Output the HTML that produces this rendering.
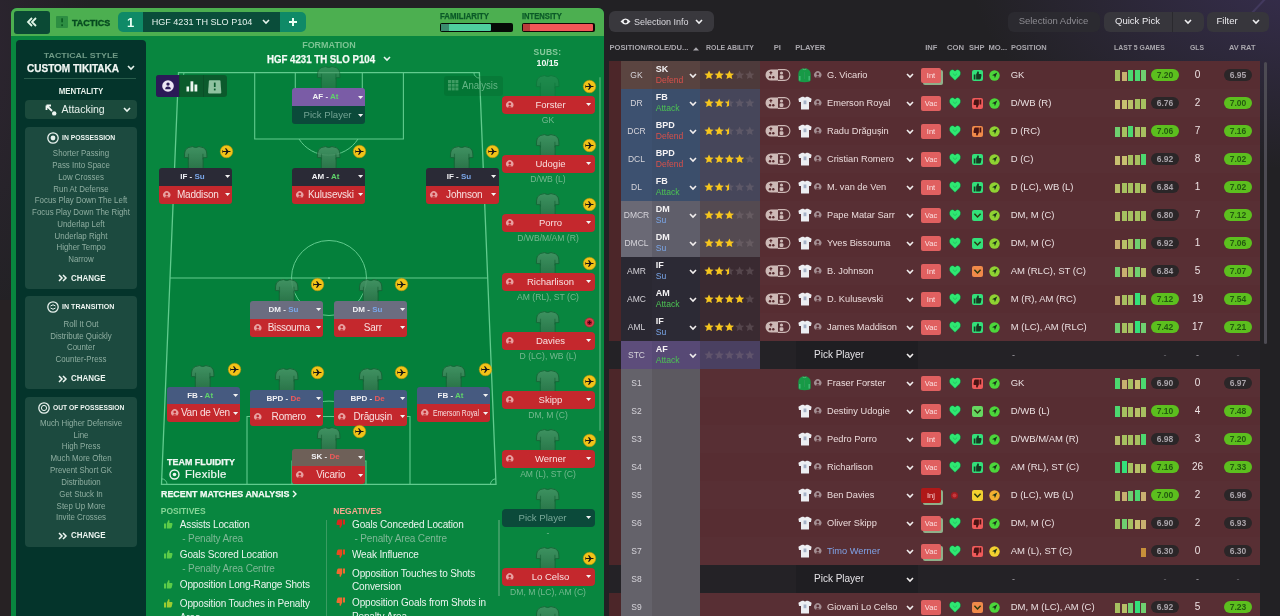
<!DOCTYPE html><html><head><meta charset="utf-8"><title>Tactics</title><style>
*{margin:0;padding:0;box-sizing:border-box}
html,body{width:1280px;height:616px;overflow:hidden}
body{position:relative;background:#222124;font-family:"Liberation Sans", Arial, sans-serif;color:#fff}
.abs{position:absolute}
.t{position:absolute;white-space:nowrap;line-height:1}
svg{position:absolute;overflow:visible}
</style></head><body>
<div class="abs" style="left:0px;top:0px;width:1280px;height:616px;background:radial-gradient(ellipse 330px 200px at 1300px -30px, rgba(85,65,140,0.42), rgba(85,65,140,0) 100%);"></div>
<svg style="left:0;top:0" width="1280" height="616"><line x1="1236" y1="30" x2="1266" y2="-2" stroke="rgba(150,130,220,0.16)" stroke-width="2"/></svg>
<div class="abs" style="left:0px;top:0px;width:1280px;height:616px;background:radial-gradient(ellipse 120px 300px at -30px 40px, rgba(80,50,90,0.25), rgba(80,50,90,0) 100%);"></div>
<div class="abs" style="left:0px;top:300px;width:12px;height:316px;background:#272224;"></div>
<div class="abs" style="left:11px;top:8px;width:593px;height:620px;background:#08863f;border-radius:6px 6px 0 0;"></div>
<div class="abs" style="left:11px;top:8px;width:593px;height:28px;background:#4caf50;border-radius:6px 6px 0 0;"></div>
<div class="abs" style="left:14px;top:11px;width:36px;height:23px;background:#0b4a35;border-radius:3px;"></div>
<svg style="left:26px;top:17px" width="12" height="10" viewBox="0 0 12 10"><path d="M6 1 L2 5 L6 9 M10 1 L6 5 L10 9" stroke="#dff5e6" stroke-width="1.8" fill="none"/></svg>
<div class="abs" style="left:56.3px;top:15.7px;width:12px;height:12.3px;background:#2d8e42;border-radius:1px;"></div>
<svg style="left:56px;top:16px" width="12" height="12" viewBox="0 0 12 12"><rect x="5.3" y="2.3" width="1.6" height="4" fill="#0b5a22"/><rect x="5.3" y="8.3" width="1.6" height="1.8" fill="#0b5a22"/></svg>
<div class="t" style="left:72.4px;top:19.0px;font-size:8.6px;color:#064a20;font-weight:700;-webkit-text-stroke:0.35px #064a20;transform:scaleX(1.041);transform-origin:left;">TACTICS</div>
<div class="abs" style="left:118px;top:12px;width:188px;height:20px;background:#0f8a67;border-radius:5px;"></div>
<div class="abs" style="left:143px;top:12px;width:137px;height:20px;background:#0a4d3a;"></div>
<div class="t" style="left:-19.5px;width:300px;text-align:center;top:15.6px;font-size:13px;color:#e8fff4;font-weight:700;">1</div>
<div class="t" style="left:51.7px;width:300px;text-align:center;top:17.5px;font-size:9.1px;color:#e6f3ee;transform:scaleX(0.998);transform-origin:center;">HGF 4231 TH SLO P104</div>
<svg style="left:262px;top:19px" width="8" height="6" viewBox="0 0 8 6"><path d="M1 1 L4 4 L7 1" stroke="#e8f4ee" stroke-width="1.6" fill="none"/></svg>
<svg style="left:288px;top:17px" width="10" height="10" viewBox="0 0 10 10"><path d="M5 1 V9 M1 5 H9" stroke="#eafff3" stroke-width="2" fill="none"/></svg>
<div class="t" style="left:440.0px;top:12.0px;font-size:8.5px;color:#0b5a28;font-weight:700;-webkit-text-stroke:0.25px #0b5a28;transform:scaleX(0.920);transform-origin:left;">FAMILIARITY</div>
<div class="abs" style="left:440px;top:23px;width:73px;height:9px;background:#050a06;border-radius:2px;"></div>
<div class="abs" style="left:441px;top:24px;width:50px;height:7px;background:#4fcf9e;border-radius:1px;"></div>
<div class="abs" style="left:441px;top:24px;width:8px;height:7px;background:#3a8c6e;"></div>
<div class="t" style="left:521.7px;top:12.0px;font-size:8.5px;color:#0b5a28;font-weight:700;-webkit-text-stroke:0.25px #0b5a28;transform:scaleX(0.897);transform-origin:left;">INTENSITY</div>
<div class="abs" style="left:521.5px;top:23px;width:73px;height:9px;background:#140606;border-radius:2px;"></div>
<div class="abs" style="left:522.5px;top:24px;width:70px;height:7px;background:#f25757;border-radius:1px;"></div>
<div class="abs" style="left:522.5px;top:24px;width:7px;height:7px;background:#b93b3b;"></div>
<div class="abs" style="left:16px;top:40px;width:130px;height:580px;background:#04342b;border-radius:4px 4px 0 0;"></div>
<div class="t" style="left:-69.0px;width:300px;text-align:center;top:52.1px;font-size:8px;color:#6f9a86;font-weight:700;transform:scaleX(1.107);transform-origin:center;">TACTICAL STYLE</div>
<div class="t" style="left:-76.7px;width:300px;text-align:center;top:62.8px;font-size:10.6px;color:#f2f7f4;font-weight:700;-webkit-text-stroke:0.25px #f2f7f4;transform:scaleX(0.946);transform-origin:center;">CUSTOM TIKITAKA</div>
<svg style="left:127px;top:65px" width="8" height="6" viewBox="0 0 8 6"><path d="M1 1 L4 4 L7 1" stroke="#e8f4ee" stroke-width="1.6" fill="none"/></svg>
<div class="abs" style="left:24px;top:78px;width:112px;height:1px;background:#285c4b;"></div>
<div class="t" style="left:-69.5px;width:300px;text-align:center;top:87.5px;font-size:8.2px;color:#e6f0ea;font-weight:700;transform:scaleX(0.965);transform-origin:center;">MENTALITY</div>
<div class="abs" style="left:25px;top:100px;width:112px;height:19px;background:#1b4a3c;border-radius:4px;"></div>
<svg style="left:45px;top:104px" width="12" height="12" viewBox="0 0 12 12"><path d="M1.5 1.5 L7 7 M1.5 1.5 H6 M1.5 1.5 V6" stroke="#f0f6f2" stroke-width="1.8" fill="none"/><circle cx="9.2" cy="9.4" r="2.2" fill="#f0f6f2"/></svg>
<div class="t" style="left:61.5px;top:103.9px;font-size:10.5px;color:#e8f1ec;">Attacking</div>
<svg style="left:123px;top:107px" width="8" height="6" viewBox="0 0 8 6"><path d="M1 1 L4 4 L7 1" stroke="#e8f4ee" stroke-width="1.6" fill="none"/></svg>
<div class="abs" style="left:25px;top:127px;width:112px;height:162px;background:#1c4a3f;border-radius:4px;"></div>
<svg style="left:46.7px;top:131.5px" width="12" height="12" viewBox="0 0 12 12"><circle cx="6" cy="6" r="5.2" stroke="#e8f2ee" stroke-width="1.3" fill="none"/><circle cx="6" cy="6" r="2.4" fill="#e8f2ee"/></svg>
<div class="t" style="left:61.9px;top:133.8px;font-size:7.5px;color:#eef5f1;font-weight:700;transform:scaleX(0.906);transform-origin:left;">IN POSSESSION</div>
<div class="t" style="left:-69.0px;width:300px;text-align:center;top:149.4px;font-size:8.6px;color:#8faea1;transform:scaleX(0.92);">Shorter Passing</div>
<div class="t" style="left:-69.0px;width:300px;text-align:center;top:161.1px;font-size:8.6px;color:#8faea1;transform:scaleX(0.92);">Pass Into Space</div>
<div class="t" style="left:-69.0px;width:300px;text-align:center;top:172.9px;font-size:8.6px;color:#8faea1;transform:scaleX(0.92);">Low Crosses</div>
<div class="t" style="left:-69.0px;width:300px;text-align:center;top:184.6px;font-size:8.6px;color:#8faea1;transform:scaleX(0.92);">Run At Defense</div>
<div class="t" style="left:-69.0px;width:300px;text-align:center;top:196.4px;font-size:8.6px;color:#8faea1;transform:scaleX(0.92);">Focus Play Down The Left</div>
<div class="t" style="left:-69.0px;width:300px;text-align:center;top:208.1px;font-size:8.6px;color:#8faea1;transform:scaleX(0.92);">Focus Play Down The Right</div>
<div class="t" style="left:-69.0px;width:300px;text-align:center;top:219.9px;font-size:8.6px;color:#8faea1;transform:scaleX(0.92);">Underlap Left</div>
<div class="t" style="left:-69.0px;width:300px;text-align:center;top:231.6px;font-size:8.6px;color:#8faea1;transform:scaleX(0.92);">Underlap Right</div>
<div class="t" style="left:-69.0px;width:300px;text-align:center;top:243.4px;font-size:8.6px;color:#8faea1;transform:scaleX(0.92);">Higher Tempo</div>
<div class="t" style="left:-69.0px;width:300px;text-align:center;top:255.1px;font-size:8.6px;color:#8faea1;transform:scaleX(0.92);">Narrow</div>
<svg style="left:58px;top:274.3px" width="9" height="8" viewBox="0 0 9 8"><path d="M1 1 L4 4 L1 7 M5 1 L8 4 L5 7" stroke="#eef6f2" stroke-width="1.5" fill="none"/></svg>
<div class="t" style="left:71.0px;top:273.9px;font-size:9px;color:#eef6f2;font-weight:700;transform:scaleX(0.886);transform-origin:left;">CHANGE</div>
<div class="abs" style="left:25px;top:296px;width:112px;height:93px;background:#1c4a3f;border-radius:4px;"></div>
<svg style="left:47.25px;top:300.5px" width="12" height="12" viewBox="0 0 12 12"><circle cx="6" cy="6" r="5.2" stroke="#e8f2ee" stroke-width="1.3" fill="none"/><path d="M3.5 5 Q6 2.5 8.5 5 M3.5 7 Q6 9.5 8.5 7" stroke="#e8f2ee" stroke-width="1" fill="none"/></svg>
<div class="t" style="left:62.0px;top:302.8px;font-size:7.5px;color:#eef5f1;font-weight:700;transform:scaleX(0.945);transform-origin:left;">IN TRANSITION</div>
<div class="t" style="left:-69.0px;width:300px;text-align:center;top:319.8px;font-size:8.6px;color:#8faea1;transform:scaleX(0.92);">Roll It Out</div>
<div class="t" style="left:-69.0px;width:300px;text-align:center;top:331.5px;font-size:8.6px;color:#8faea1;transform:scaleX(0.92);">Distribute Quickly</div>
<div class="t" style="left:-69.0px;width:300px;text-align:center;top:343.2px;font-size:8.6px;color:#8faea1;transform:scaleX(0.92);">Counter</div>
<div class="t" style="left:-69.0px;width:300px;text-align:center;top:354.9px;font-size:8.6px;color:#8faea1;transform:scaleX(0.92);">Counter-Press</div>
<svg style="left:58px;top:374.7px" width="9" height="8" viewBox="0 0 9 8"><path d="M1 1 L4 4 L1 7 M5 1 L8 4 L5 7" stroke="#eef6f2" stroke-width="1.5" fill="none"/></svg>
<div class="t" style="left:71.0px;top:374.3px;font-size:9px;color:#eef6f2;font-weight:700;transform:scaleX(0.886);transform-origin:left;">CHANGE</div>
<div class="abs" style="left:25px;top:397px;width:112px;height:150px;background:#1c4a3f;border-radius:4px;"></div>
<svg style="left:37.5px;top:401.5px" width="12" height="12" viewBox="0 0 12 12"><circle cx="6" cy="6" r="5.2" stroke="#e8f2ee" stroke-width="1.3" fill="none"/><circle cx="6" cy="6" r="2.6" stroke="#e8f2ee" stroke-width="1" fill="none"/></svg>
<div class="t" style="left:53.3px;top:403.8px;font-size:7.5px;color:#eef5f1;font-weight:700;transform:scaleX(0.896);transform-origin:left;">OUT OF POSSESSION</div>
<div class="t" style="left:-69.0px;width:300px;text-align:center;top:418.8px;font-size:8.6px;color:#8faea1;transform:scaleX(0.92);">Much Higher Defensive</div>
<div class="t" style="left:-69.0px;width:300px;text-align:center;top:430.6px;font-size:8.6px;color:#8faea1;transform:scaleX(0.92);">Line</div>
<div class="t" style="left:-69.0px;width:300px;text-align:center;top:442.4px;font-size:8.6px;color:#8faea1;transform:scaleX(0.92);">High Press</div>
<div class="t" style="left:-69.0px;width:300px;text-align:center;top:454.3px;font-size:8.6px;color:#8faea1;transform:scaleX(0.92);">Much More Often</div>
<div class="t" style="left:-69.0px;width:300px;text-align:center;top:466.1px;font-size:8.6px;color:#8faea1;transform:scaleX(0.92);">Prevent Short GK</div>
<div class="t" style="left:-69.0px;width:300px;text-align:center;top:477.9px;font-size:8.6px;color:#8faea1;transform:scaleX(0.92);">Distribution</div>
<div class="t" style="left:-69.0px;width:300px;text-align:center;top:489.8px;font-size:8.6px;color:#8faea1;transform:scaleX(0.92);">Get Stuck In</div>
<div class="t" style="left:-69.0px;width:300px;text-align:center;top:501.6px;font-size:8.6px;color:#8faea1;transform:scaleX(0.92);">Step Up More</div>
<div class="t" style="left:-69.0px;width:300px;text-align:center;top:513.4px;font-size:8.6px;color:#8faea1;transform:scaleX(0.92);">Invite Crosses</div>
<svg style="left:58px;top:531.7px" width="9" height="8" viewBox="0 0 9 8"><path d="M1 1 L4 4 L1 7 M5 1 L8 4 L5 7" stroke="#eef6f2" stroke-width="1.5" fill="none"/></svg>
<div class="t" style="left:71.0px;top:531.3px;font-size:9px;color:#eef6f2;font-weight:700;transform:scaleX(0.886);transform-origin:left;">CHANGE</div>
<div class="t" style="left:178.6px;width:300px;text-align:center;top:40.8px;font-size:8.6px;color:#7cc493;font-weight:700;transform:scaleX(1.044);transform-origin:center;">FORMATION</div>
<div class="t" style="left:171.2px;width:300px;text-align:center;top:53.9px;font-size:10.5px;color:#f4fbf6;font-weight:700;-webkit-text-stroke:0.25px #f4fbf6;transform:scaleX(0.922);transform-origin:center;">HGF 4231 TH SLO P104</div>
<svg style="left:383px;top:56px" width="8" height="6" viewBox="0 0 8 6"><path d="M1 1 L4 4 L7 1" stroke="#e8f4ee" stroke-width="1.6" fill="none"/></svg>
<svg style="left:0;top:0" width="610" height="616" viewBox="0 0 610 616"><polygon points="178.5,72.6 479.4,72.6 496.0,484.3 161.5,484.3" fill="#04803b" stroke="#62cb8e" stroke-width="1.3"/><line x1="170.0" y1="278" x2="487.7" y2="278" stroke="#62cb8e" stroke-width="1.2"/><circle cx="329" cy="278" r="37.5" stroke="#62cb8e" stroke-width="1" fill="none"/><circle cx="329" cy="278" r="1" fill="#62cb8e"/><path d="M254.7 72.6 V139 H403.4 V72.6" stroke="#62cb8e" stroke-width="1.1" fill="none"/><path d="M295.3 72.6 V98 H362.3 V72.6" stroke="#62cb8e" stroke-width="1.1" fill="none"/><path d="M299 139 A35 35 0 0 0 358 139" stroke="#62cb8e" stroke-width="1" fill="none"/><path d="M247 484.3 V416.5 H410 V484.3" stroke="#62cb8e" stroke-width="1.1" fill="none"/><path d="M292 484.3 V461 H366 V484.3" stroke="#62cb8e" stroke-width="1.1" fill="none"/><path d="M300 416.5 A35 35 0 0 1 358 416.5" stroke="#62cb8e" stroke-width="1" fill="none"/><path d="M178.5 78.1 A5.5 5.5 0 0 0 184.0 72.6" stroke="#62cb8e" stroke-width="1" fill="none"/><path d="M473.9 72.6 A5.5 5.5 0 0 0 479.4 78.1" stroke="#62cb8e" stroke-width="1" fill="none"/><path d="M161.5 478.8 A5.5 5.5 0 0 1 167.0 484.3" stroke="#62cb8e" stroke-width="1" fill="none"/><path d="M490.5 484.3 A5.5 5.5 0 0 1 496.0 478.8" stroke="#62cb8e" stroke-width="1" fill="none"/></svg>
<div class="abs" style="left:156px;top:75px;width:71px;height:22px;background:#0b5a2c;border-radius:3px;"></div>
<div class="abs" style="left:156px;top:75px;width:23px;height:22px;background:#2b1a57;border-radius:3px 0 0 3px;"></div>
<div class="abs" style="left:179px;top:75px;width:1px;height:22px;background:#0a4f27;"></div>
<div class="abs" style="left:203px;top:75px;width:1px;height:22px;background:#0a4f27;"></div>
<svg style="left:161.5px;top:80px" width="12" height="12" viewBox="0 0 12 12"><circle cx="6" cy="6" r="5.8" fill="#ece6f4"/><circle cx="6" cy="4.1" r="1.7" fill="#2b1a57"/><path d="M3.2 9.2 Q3.2 6.4 6 6.4 Q8.8 6.4 8.8 9.2 Z" fill="#2b1a57"/></svg>
<svg style="left:185.5px;top:80.5px" width="12" height="11" viewBox="0 0 12 11"><rect x="0.5" y="5.5" width="2.6" height="5" fill="#eef7f1"/><rect x="4.5" y="0.3" width="2.8" height="10.2" fill="#eef7f1"/><rect x="8.5" y="3.5" width="2.8" height="7" fill="#eef7f1"/></svg>
<svg style="left:208.3px;top:79.5px" width="13.4" height="13.6" viewBox="0 0 13.4 13.6"><path d="M1.6 0.2 H11.8 Q12.4 0.2 12.5 0.9 L13.3 12.4 Q13.3 13.4 12.3 13.4 H1.1 Q0.1 13.4 0.1 12.4 L0.9 0.9 Q1 0.2 1.6 0.2 Z" fill="#8fc2a0"/><rect x="5.9" y="2.6" width="1.7" height="4.4" fill="#0b5a2c"/><rect x="5.9" y="8.6" width="1.7" height="1.8" fill="#0b5a2c"/></svg>
<div class="abs" style="left:444px;top:76px;width:59px;height:20px;background:rgba(0,40,10,0.12);border-radius:3px;"></div>
<svg style="left:448px;top:80px" width="11" height="11" viewBox="0 0 11 11"><rect x="0.0" y="0.0" width="3" height="3" fill="#3f9c63"/><rect x="0.0" y="3.7" width="3" height="3" fill="#3f9c63"/><rect x="0.0" y="7.4" width="3" height="3" fill="#3f9c63"/><rect x="3.7" y="0.0" width="3" height="3" fill="#3f9c63"/><rect x="3.7" y="3.7" width="3" height="3" fill="#3f9c63"/><rect x="3.7" y="7.4" width="3" height="3" fill="#3f9c63"/><rect x="7.4" y="0.0" width="3" height="3" fill="#3f9c63"/><rect x="7.4" y="3.7" width="3" height="3" fill="#3f9c63"/><rect x="7.4" y="7.4" width="3" height="3" fill="#3f9c63"/></svg>
<div class="t" style="left:462.0px;top:81.1px;font-size:10px;color:#64b585;transform:scaleX(0.961);transform-origin:left;">Analysis</div>
<svg style="left:316.8px;top:66.4px" width="23.4" height="25" viewBox="0 0 24 26" preserveAspectRatio="none"><defs><linearGradient id="sg1" x1="0" y1="0" x2="0" y2="1"><stop offset="0" stop-color="#4b9569"/><stop offset="1" stop-color="#2f7049"/></linearGradient></defs><g opacity="0.6"><path d="M8.6 0.6 Q12 2.6 15.4 0.6 Q20.5 1 22.6 4.2 Q23.6 6.5 23.6 12 L19.6 12.2 L19.6 26 L4.4 26 L4.4 12.2 L0.4 12 Q0.4 6.5 1.4 4.2 Q3.5 1 8.6 0.6 Z" fill="url(#sg1)" stroke="#1a6036" stroke-width="1"/><path d="M4.6 8 V14 M19.4 8 V14" stroke="#1a5a34" stroke-width="1.2" opacity="0.6"/></g></svg>
<div class="abs" style="left:292px;top:88.4px;width:73px;height:17.5px;background:#7a5ca6;border-radius:3px 3px 0 0;"></div>
<div class="t" style="left:292px;width:67px;text-align:center;top:93.3px;font-size:8px;font-weight:700;color:#f1f1f4">AF - <span style="color:#5fd36a">At</span></div>
<svg style="left:357.9px;top:95.8px" width="5.2" height="3.4" viewBox="0 0 6 4"><path d="M0 0 H6 L3 3.6 Z" fill="#f3f3f3"/></svg>
<div class="abs" style="left:292px;top:105.9px;width:73px;height:18px;background:#0b4a3a;border-radius:0 0 3px 3px;"></div>
<div class="t" style="left:177.5px;width:300px;text-align:center;top:110.2px;font-size:9.6px;color:#72a393;">Pick Player</div>
<svg style="left:357.9px;top:113.5px" width="5.2" height="3.4" viewBox="0 0 6 4"><path d="M0 0 H6 L3 3.6 Z" fill="#f3f3f3"/></svg>
<svg style="left:183.8px;top:146.0px" width="23.4" height="25" viewBox="0 0 24 26" preserveAspectRatio="none"><defs><linearGradient id="sg2" x1="0" y1="0" x2="0" y2="1"><stop offset="0" stop-color="#4b9569"/><stop offset="1" stop-color="#2f7049"/></linearGradient></defs><g opacity="0.85"><path d="M8.6 0.6 Q12 2.6 15.4 0.6 Q20.5 1 22.6 4.2 Q23.6 6.5 23.6 12 L19.6 12.2 L19.6 26 L4.4 26 L4.4 12.2 L0.4 12 Q0.4 6.5 1.4 4.2 Q3.5 1 8.6 0.6 Z" fill="url(#sg2)" stroke="#1a6036" stroke-width="1"/><path d="M4.6 8 V14 M19.4 8 V14" stroke="#1a5a34" stroke-width="1.2" opacity="0.6"/></g></svg>
<svg style="left:219.5px;top:144.5px" width="13" height="13" viewBox="0 0 13 13"><circle cx="6.5" cy="6.5" r="6.3" fill="#f2c318"/><circle cx="6.5" cy="6.5" r="6.3" fill="none" stroke="#b38d0a" stroke-width="0.5"/><path d="M2.6 6 H6.4 L5 3.2 H6.2 L8.4 6 H10.3 Q11 6.5 10.3 7 H8.4 L6.2 9.8 H5 L6.4 7 H2.6 Z M2.3 4.7 L3.2 6.2 L3.2 6.8 L2.3 8.3" fill="#161616"/></svg>
<div class="abs" style="left:159px;top:168px;width:73px;height:17.5px;background:#2a2a36;border-radius:3px 3px 0 0;"></div>
<div class="t" style="left:159px;width:67px;text-align:center;top:172.9px;font-size:8px;font-weight:700;color:#f1f1f4">IF - <span style="color:#7aa6e8">Su</span></div>
<svg style="left:224.9px;top:175.4px" width="5.2" height="3.4" viewBox="0 0 6 4"><path d="M0 0 H6 L3 3.6 Z" fill="#f3f3f3"/></svg>
<div class="abs" style="left:159px;top:185.5px;width:73px;height:18px;background:#c4282d;border-radius:0 0 3px 3px;"></div>
<svg style="left:163.0px;top:190.8px" width="7.5" height="7.5" viewBox="0 0 8 8"><path d="M1.1 6.8 A3.9 3.9 0 1 1 6.9 6.8 Z" fill="#e8a0a0"/><circle cx="4" cy="3.3" r="1.45" fill="#c4282d"/><path d="M2.1 7 Q2.2 5.2 4 5.2 Q5.8 5.2 5.9 7 Z" fill="#c4282d"/></svg>
<div class="t" style="left:47.8px;width:300px;text-align:center;top:189.6px;font-size:10px;color:#f8e0e0;letter-spacing:-0.2px;">Maddison</div>
<svg style="left:224.9px;top:193.1px" width="5.2" height="3.4" viewBox="0 0 6 4"><path d="M0 0 H6 L3 3.6 Z" fill="#f3f3f3"/></svg>
<svg style="left:316.8px;top:146.0px" width="23.4" height="25" viewBox="0 0 24 26" preserveAspectRatio="none"><defs><linearGradient id="sg3" x1="0" y1="0" x2="0" y2="1"><stop offset="0" stop-color="#4b9569"/><stop offset="1" stop-color="#2f7049"/></linearGradient></defs><g opacity="0.85"><path d="M8.6 0.6 Q12 2.6 15.4 0.6 Q20.5 1 22.6 4.2 Q23.6 6.5 23.6 12 L19.6 12.2 L19.6 26 L4.4 26 L4.4 12.2 L0.4 12 Q0.4 6.5 1.4 4.2 Q3.5 1 8.6 0.6 Z" fill="url(#sg3)" stroke="#1a6036" stroke-width="1"/><path d="M4.6 8 V14 M19.4 8 V14" stroke="#1a5a34" stroke-width="1.2" opacity="0.6"/></g></svg>
<svg style="left:353.0px;top:144.5px" width="13" height="13" viewBox="0 0 13 13"><circle cx="6.5" cy="6.5" r="6.3" fill="#f2c318"/><circle cx="6.5" cy="6.5" r="6.3" fill="none" stroke="#b38d0a" stroke-width="0.5"/><path d="M2.6 6 H6.4 L5 3.2 H6.2 L8.4 6 H10.3 Q11 6.5 10.3 7 H8.4 L6.2 9.8 H5 L6.4 7 H2.6 Z M2.3 4.7 L3.2 6.2 L3.2 6.8 L2.3 8.3" fill="#161616"/></svg>
<div class="abs" style="left:292px;top:168px;width:73px;height:17.5px;background:#2a2a36;border-radius:3px 3px 0 0;"></div>
<div class="t" style="left:292px;width:67px;text-align:center;top:172.9px;font-size:8px;font-weight:700;color:#f1f1f4">AM - <span style="color:#5fd36a">At</span></div>
<svg style="left:357.9px;top:175.4px" width="5.2" height="3.4" viewBox="0 0 6 4"><path d="M0 0 H6 L3 3.6 Z" fill="#f3f3f3"/></svg>
<div class="abs" style="left:292px;top:185.5px;width:73px;height:18px;background:#c4282d;border-radius:0 0 3px 3px;"></div>
<svg style="left:296.0px;top:190.8px" width="7.5" height="7.5" viewBox="0 0 8 8"><path d="M1.1 6.8 A3.9 3.9 0 1 1 6.9 6.8 Z" fill="#e8a0a0"/><circle cx="4" cy="3.3" r="1.45" fill="#c4282d"/><path d="M2.1 7 Q2.2 5.2 4 5.2 Q5.8 5.2 5.9 7 Z" fill="#c4282d"/></svg>
<div class="t" style="left:180.8px;width:300px;text-align:center;top:189.6px;font-size:10px;color:#f8e0e0;letter-spacing:-0.2px;">Kulusevski</div>
<svg style="left:357.9px;top:193.1px" width="5.2" height="3.4" viewBox="0 0 6 4"><path d="M0 0 H6 L3 3.6 Z" fill="#f3f3f3"/></svg>
<svg style="left:450.3px;top:146.0px" width="23.4" height="25" viewBox="0 0 24 26" preserveAspectRatio="none"><defs><linearGradient id="sg4" x1="0" y1="0" x2="0" y2="1"><stop offset="0" stop-color="#4b9569"/><stop offset="1" stop-color="#2f7049"/></linearGradient></defs><g opacity="0.85"><path d="M8.6 0.6 Q12 2.6 15.4 0.6 Q20.5 1 22.6 4.2 Q23.6 6.5 23.6 12 L19.6 12.2 L19.6 26 L4.4 26 L4.4 12.2 L0.4 12 Q0.4 6.5 1.4 4.2 Q3.5 1 8.6 0.6 Z" fill="url(#sg4)" stroke="#1a6036" stroke-width="1"/><path d="M4.6 8 V14 M19.4 8 V14" stroke="#1a5a34" stroke-width="1.2" opacity="0.6"/></g></svg>
<svg style="left:486.1px;top:144.5px" width="13" height="13" viewBox="0 0 13 13"><circle cx="6.5" cy="6.5" r="6.3" fill="#f2c318"/><circle cx="6.5" cy="6.5" r="6.3" fill="none" stroke="#b38d0a" stroke-width="0.5"/><path d="M2.6 6 H6.4 L5 3.2 H6.2 L8.4 6 H10.3 Q11 6.5 10.3 7 H8.4 L6.2 9.8 H5 L6.4 7 H2.6 Z M2.3 4.7 L3.2 6.2 L3.2 6.8 L2.3 8.3" fill="#161616"/></svg>
<div class="abs" style="left:425.5px;top:168px;width:73px;height:17.5px;background:#2a2a36;border-radius:3px 3px 0 0;"></div>
<div class="t" style="left:425.5px;width:67px;text-align:center;top:172.9px;font-size:8px;font-weight:700;color:#f1f1f4">IF - <span style="color:#7aa6e8">Su</span></div>
<svg style="left:491.4px;top:175.4px" width="5.2" height="3.4" viewBox="0 0 6 4"><path d="M0 0 H6 L3 3.6 Z" fill="#f3f3f3"/></svg>
<div class="abs" style="left:425.5px;top:185.5px;width:73px;height:18px;background:#c4282d;border-radius:0 0 3px 3px;"></div>
<svg style="left:429.5px;top:190.8px" width="7.5" height="7.5" viewBox="0 0 8 8"><path d="M1.1 6.8 A3.9 3.9 0 1 1 6.9 6.8 Z" fill="#e8a0a0"/><circle cx="4" cy="3.3" r="1.45" fill="#c4282d"/><path d="M2.1 7 Q2.2 5.2 4 5.2 Q5.8 5.2 5.9 7 Z" fill="#c4282d"/></svg>
<div class="t" style="left:314.3px;width:300px;text-align:center;top:189.6px;font-size:10px;color:#f8e0e0;letter-spacing:-0.2px;">Johnson</div>
<svg style="left:491.4px;top:193.1px" width="5.2" height="3.4" viewBox="0 0 6 4"><path d="M0 0 H6 L3 3.6 Z" fill="#f3f3f3"/></svg>
<svg style="left:274.8px;top:279.0px" width="23.4" height="25" viewBox="0 0 24 26" preserveAspectRatio="none"><defs><linearGradient id="sg5" x1="0" y1="0" x2="0" y2="1"><stop offset="0" stop-color="#4b9569"/><stop offset="1" stop-color="#2f7049"/></linearGradient></defs><g opacity="0.85"><path d="M8.6 0.6 Q12 2.6 15.4 0.6 Q20.5 1 22.6 4.2 Q23.6 6.5 23.6 12 L19.6 12.2 L19.6 26 L4.4 26 L4.4 12.2 L0.4 12 Q0.4 6.5 1.4 4.2 Q3.5 1 8.6 0.6 Z" fill="url(#sg5)" stroke="#1a6036" stroke-width="1"/><path d="M4.6 8 V14 M19.4 8 V14" stroke="#1a5a34" stroke-width="1.2" opacity="0.6"/></g></svg>
<svg style="left:310.9px;top:277.5px" width="13" height="13" viewBox="0 0 13 13"><circle cx="6.5" cy="6.5" r="6.3" fill="#f2c318"/><circle cx="6.5" cy="6.5" r="6.3" fill="none" stroke="#b38d0a" stroke-width="0.5"/><path d="M2.6 6 H6.4 L5 3.2 H6.2 L8.4 6 H10.3 Q11 6.5 10.3 7 H8.4 L6.2 9.8 H5 L6.4 7 H2.6 Z M2.3 4.7 L3.2 6.2 L3.2 6.8 L2.3 8.3" fill="#161616"/></svg>
<div class="abs" style="left:250px;top:301px;width:73px;height:17.5px;background:#6b6d80;border-radius:3px 3px 0 0;"></div>
<div class="t" style="left:250px;width:67px;text-align:center;top:305.9px;font-size:8px;font-weight:700;color:#f1f1f4">DM - <span style="color:#7aa6e8">Su</span></div>
<svg style="left:315.9px;top:308.4px" width="5.2" height="3.4" viewBox="0 0 6 4"><path d="M0 0 H6 L3 3.6 Z" fill="#f3f3f3"/></svg>
<div class="abs" style="left:250px;top:318.5px;width:73px;height:18px;background:#c4282d;border-radius:0 0 3px 3px;"></div>
<svg style="left:254.0px;top:323.8px" width="7.5" height="7.5" viewBox="0 0 8 8"><path d="M1.1 6.8 A3.9 3.9 0 1 1 6.9 6.8 Z" fill="#e8a0a0"/><circle cx="4" cy="3.3" r="1.45" fill="#c4282d"/><path d="M2.1 7 Q2.2 5.2 4 5.2 Q5.8 5.2 5.9 7 Z" fill="#c4282d"/></svg>
<div class="t" style="left:138.8px;width:300px;text-align:center;top:322.6px;font-size:10px;color:#f8e0e0;letter-spacing:-0.2px;">Bissouma</div>
<svg style="left:315.9px;top:326.1px" width="5.2" height="3.4" viewBox="0 0 6 4"><path d="M0 0 H6 L3 3.6 Z" fill="#f3f3f3"/></svg>
<svg style="left:358.8px;top:279.0px" width="23.4" height="25" viewBox="0 0 24 26" preserveAspectRatio="none"><defs><linearGradient id="sg6" x1="0" y1="0" x2="0" y2="1"><stop offset="0" stop-color="#4b9569"/><stop offset="1" stop-color="#2f7049"/></linearGradient></defs><g opacity="0.85"><path d="M8.6 0.6 Q12 2.6 15.4 0.6 Q20.5 1 22.6 4.2 Q23.6 6.5 23.6 12 L19.6 12.2 L19.6 26 L4.4 26 L4.4 12.2 L0.4 12 Q0.4 6.5 1.4 4.2 Q3.5 1 8.6 0.6 Z" fill="url(#sg6)" stroke="#1a6036" stroke-width="1"/><path d="M4.6 8 V14 M19.4 8 V14" stroke="#1a5a34" stroke-width="1.2" opacity="0.6"/></g></svg>
<svg style="left:395.0px;top:277.5px" width="13" height="13" viewBox="0 0 13 13"><circle cx="6.5" cy="6.5" r="6.3" fill="#f2c318"/><circle cx="6.5" cy="6.5" r="6.3" fill="none" stroke="#b38d0a" stroke-width="0.5"/><path d="M2.6 6 H6.4 L5 3.2 H6.2 L8.4 6 H10.3 Q11 6.5 10.3 7 H8.4 L6.2 9.8 H5 L6.4 7 H2.6 Z M2.3 4.7 L3.2 6.2 L3.2 6.8 L2.3 8.3" fill="#161616"/></svg>
<div class="abs" style="left:334px;top:301px;width:73px;height:17.5px;background:#6b6d80;border-radius:3px 3px 0 0;"></div>
<div class="t" style="left:334px;width:67px;text-align:center;top:305.9px;font-size:8px;font-weight:700;color:#f1f1f4">DM - <span style="color:#7aa6e8">Su</span></div>
<svg style="left:399.9px;top:308.4px" width="5.2" height="3.4" viewBox="0 0 6 4"><path d="M0 0 H6 L3 3.6 Z" fill="#f3f3f3"/></svg>
<div class="abs" style="left:334px;top:318.5px;width:73px;height:18px;background:#c4282d;border-radius:0 0 3px 3px;"></div>
<svg style="left:338.0px;top:323.8px" width="7.5" height="7.5" viewBox="0 0 8 8"><path d="M1.1 6.8 A3.9 3.9 0 1 1 6.9 6.8 Z" fill="#e8a0a0"/><circle cx="4" cy="3.3" r="1.45" fill="#c4282d"/><path d="M2.1 7 Q2.2 5.2 4 5.2 Q5.8 5.2 5.9 7 Z" fill="#c4282d"/></svg>
<div class="t" style="left:222.8px;width:300px;text-align:center;top:322.6px;font-size:10px;color:#f8e0e0;letter-spacing:-0.2px;">Sarr</div>
<svg style="left:399.9px;top:326.1px" width="5.2" height="3.4" viewBox="0 0 6 4"><path d="M0 0 H6 L3 3.6 Z" fill="#f3f3f3"/></svg>
<svg style="left:191.4px;top:364.6px" width="23.4" height="25" viewBox="0 0 24 26" preserveAspectRatio="none"><defs><linearGradient id="sg7" x1="0" y1="0" x2="0" y2="1"><stop offset="0" stop-color="#4b9569"/><stop offset="1" stop-color="#2f7049"/></linearGradient></defs><g opacity="0.85"><path d="M8.6 0.6 Q12 2.6 15.4 0.6 Q20.5 1 22.6 4.2 Q23.6 6.5 23.6 12 L19.6 12.2 L19.6 26 L4.4 26 L4.4 12.2 L0.4 12 Q0.4 6.5 1.4 4.2 Q3.5 1 8.6 0.6 Z" fill="url(#sg7)" stroke="#1a6036" stroke-width="1"/><path d="M4.6 8 V14 M19.4 8 V14" stroke="#1a5a34" stroke-width="1.2" opacity="0.6"/></g></svg>
<svg style="left:227.5px;top:363.3px" width="13" height="13" viewBox="0 0 13 13"><circle cx="6.5" cy="6.5" r="6.3" fill="#f2c318"/><circle cx="6.5" cy="6.5" r="6.3" fill="none" stroke="#b38d0a" stroke-width="0.5"/><path d="M2.6 6 H6.4 L5 3.2 H6.2 L8.4 6 H10.3 Q11 6.5 10.3 7 H8.4 L6.2 9.8 H5 L6.4 7 H2.6 Z M2.3 4.7 L3.2 6.2 L3.2 6.8 L2.3 8.3" fill="#161616"/></svg>
<div class="abs" style="left:166.6px;top:386.6px;width:73px;height:17.5px;background:#465a80;border-radius:3px 3px 0 0;"></div>
<div class="t" style="left:166.6px;width:67px;text-align:center;top:391.5px;font-size:8px;font-weight:700;color:#f1f1f4">FB - <span style="color:#5fd36a">At</span></div>
<svg style="left:232.5px;top:394.0px" width="5.2" height="3.4" viewBox="0 0 6 4"><path d="M0 0 H6 L3 3.6 Z" fill="#f3f3f3"/></svg>
<div class="abs" style="left:166.6px;top:404.1px;width:73px;height:18px;background:#c4282d;border-radius:0 0 3px 3px;"></div>
<svg style="left:170.6px;top:409.4px" width="7.5" height="7.5" viewBox="0 0 8 8"><path d="M1.1 6.8 A3.9 3.9 0 1 1 6.9 6.8 Z" fill="#e8a0a0"/><circle cx="4" cy="3.3" r="1.45" fill="#c4282d"/><path d="M2.1 7 Q2.2 5.2 4 5.2 Q5.8 5.2 5.9 7 Z" fill="#c4282d"/></svg>
<div class="t" style="left:55.4px;width:300px;text-align:center;top:408.2px;font-size:10px;color:#f8e0e0;letter-spacing:-0.2px;">Van de Ven</div>
<svg style="left:232.5px;top:411.7px" width="5.2" height="3.4" viewBox="0 0 6 4"><path d="M0 0 H6 L3 3.6 Z" fill="#f3f3f3"/></svg>
<svg style="left:274.8px;top:368.0px" width="23.4" height="25" viewBox="0 0 24 26" preserveAspectRatio="none"><defs><linearGradient id="sg8" x1="0" y1="0" x2="0" y2="1"><stop offset="0" stop-color="#4b9569"/><stop offset="1" stop-color="#2f7049"/></linearGradient></defs><g opacity="0.85"><path d="M8.6 0.6 Q12 2.6 15.4 0.6 Q20.5 1 22.6 4.2 Q23.6 6.5 23.6 12 L19.6 12.2 L19.6 26 L4.4 26 L4.4 12.2 L0.4 12 Q0.4 6.5 1.4 4.2 Q3.5 1 8.6 0.6 Z" fill="url(#sg8)" stroke="#1a6036" stroke-width="1"/><path d="M4.6 8 V14 M19.4 8 V14" stroke="#1a5a34" stroke-width="1.2" opacity="0.6"/></g></svg>
<svg style="left:310.9px;top:366.1px" width="13" height="13" viewBox="0 0 13 13"><circle cx="6.5" cy="6.5" r="6.3" fill="#f2c318"/><circle cx="6.5" cy="6.5" r="6.3" fill="none" stroke="#b38d0a" stroke-width="0.5"/><path d="M2.6 6 H6.4 L5 3.2 H6.2 L8.4 6 H10.3 Q11 6.5 10.3 7 H8.4 L6.2 9.8 H5 L6.4 7 H2.6 Z M2.3 4.7 L3.2 6.2 L3.2 6.8 L2.3 8.3" fill="#161616"/></svg>
<div class="abs" style="left:250px;top:390px;width:73px;height:17.5px;background:#465a80;border-radius:3px 3px 0 0;"></div>
<div class="t" style="left:250px;width:67px;text-align:center;top:394.9px;font-size:8px;font-weight:700;color:#f1f1f4">BPD - <span style="color:#f05a5a">De</span></div>
<svg style="left:315.9px;top:397.4px" width="5.2" height="3.4" viewBox="0 0 6 4"><path d="M0 0 H6 L3 3.6 Z" fill="#f3f3f3"/></svg>
<div class="abs" style="left:250px;top:407.5px;width:73px;height:18px;background:#c4282d;border-radius:0 0 3px 3px;"></div>
<svg style="left:254.0px;top:412.8px" width="7.5" height="7.5" viewBox="0 0 8 8"><path d="M1.1 6.8 A3.9 3.9 0 1 1 6.9 6.8 Z" fill="#e8a0a0"/><circle cx="4" cy="3.3" r="1.45" fill="#c4282d"/><path d="M2.1 7 Q2.2 5.2 4 5.2 Q5.8 5.2 5.9 7 Z" fill="#c4282d"/></svg>
<div class="t" style="left:138.8px;width:300px;text-align:center;top:411.6px;font-size:10px;color:#f8e0e0;letter-spacing:-0.2px;">Romero</div>
<svg style="left:315.9px;top:415.1px" width="5.2" height="3.4" viewBox="0 0 6 4"><path d="M0 0 H6 L3 3.6 Z" fill="#f3f3f3"/></svg>
<svg style="left:358.8px;top:368.0px" width="23.4" height="25" viewBox="0 0 24 26" preserveAspectRatio="none"><defs><linearGradient id="sg9" x1="0" y1="0" x2="0" y2="1"><stop offset="0" stop-color="#4b9569"/><stop offset="1" stop-color="#2f7049"/></linearGradient></defs><g opacity="0.85"><path d="M8.6 0.6 Q12 2.6 15.4 0.6 Q20.5 1 22.6 4.2 Q23.6 6.5 23.6 12 L19.6 12.2 L19.6 26 L4.4 26 L4.4 12.2 L0.4 12 Q0.4 6.5 1.4 4.2 Q3.5 1 8.6 0.6 Z" fill="url(#sg9)" stroke="#1a6036" stroke-width="1"/><path d="M4.6 8 V14 M19.4 8 V14" stroke="#1a5a34" stroke-width="1.2" opacity="0.6"/></g></svg>
<svg style="left:395.0px;top:366.1px" width="13" height="13" viewBox="0 0 13 13"><circle cx="6.5" cy="6.5" r="6.3" fill="#f2c318"/><circle cx="6.5" cy="6.5" r="6.3" fill="none" stroke="#b38d0a" stroke-width="0.5"/><path d="M2.6 6 H6.4 L5 3.2 H6.2 L8.4 6 H10.3 Q11 6.5 10.3 7 H8.4 L6.2 9.8 H5 L6.4 7 H2.6 Z M2.3 4.7 L3.2 6.2 L3.2 6.8 L2.3 8.3" fill="#161616"/></svg>
<div class="abs" style="left:334px;top:390px;width:73px;height:17.5px;background:#465a80;border-radius:3px 3px 0 0;"></div>
<div class="t" style="left:334px;width:67px;text-align:center;top:394.9px;font-size:8px;font-weight:700;color:#f1f1f4">BPD - <span style="color:#f05a5a">De</span></div>
<svg style="left:399.9px;top:397.4px" width="5.2" height="3.4" viewBox="0 0 6 4"><path d="M0 0 H6 L3 3.6 Z" fill="#f3f3f3"/></svg>
<div class="abs" style="left:334px;top:407.5px;width:73px;height:18px;background:#c4282d;border-radius:0 0 3px 3px;"></div>
<svg style="left:338.0px;top:412.8px" width="7.5" height="7.5" viewBox="0 0 8 8"><path d="M1.1 6.8 A3.9 3.9 0 1 1 6.9 6.8 Z" fill="#e8a0a0"/><circle cx="4" cy="3.3" r="1.45" fill="#c4282d"/><path d="M2.1 7 Q2.2 5.2 4 5.2 Q5.8 5.2 5.9 7 Z" fill="#c4282d"/></svg>
<div class="t" style="left:222.8px;width:300px;text-align:center;top:411.6px;font-size:10px;color:#f8e0e0;letter-spacing:-0.2px;">Drăgușin</div>
<svg style="left:399.9px;top:415.1px" width="5.2" height="3.4" viewBox="0 0 6 4"><path d="M0 0 H6 L3 3.6 Z" fill="#f3f3f3"/></svg>
<svg style="left:441.8px;top:364.6px" width="23.4" height="25" viewBox="0 0 24 26" preserveAspectRatio="none"><defs><linearGradient id="sg10" x1="0" y1="0" x2="0" y2="1"><stop offset="0" stop-color="#4b9569"/><stop offset="1" stop-color="#2f7049"/></linearGradient></defs><g opacity="0.85"><path d="M8.6 0.6 Q12 2.6 15.4 0.6 Q20.5 1 22.6 4.2 Q23.6 6.5 23.6 12 L19.6 12.2 L19.6 26 L4.4 26 L4.4 12.2 L0.4 12 Q0.4 6.5 1.4 4.2 Q3.5 1 8.6 0.6 Z" fill="url(#sg10)" stroke="#1a6036" stroke-width="1"/><path d="M4.6 8 V14 M19.4 8 V14" stroke="#1a5a34" stroke-width="1.2" opacity="0.6"/></g></svg>
<svg style="left:478.5px;top:363.3px" width="13" height="13" viewBox="0 0 13 13"><circle cx="6.5" cy="6.5" r="6.3" fill="#f2c318"/><circle cx="6.5" cy="6.5" r="6.3" fill="none" stroke="#b38d0a" stroke-width="0.5"/><path d="M2.6 6 H6.4 L5 3.2 H6.2 L8.4 6 H10.3 Q11 6.5 10.3 7 H8.4 L6.2 9.8 H5 L6.4 7 H2.6 Z M2.3 4.7 L3.2 6.2 L3.2 6.8 L2.3 8.3" fill="#161616"/></svg>
<div class="abs" style="left:417px;top:386.6px;width:73px;height:17.5px;background:#465a80;border-radius:3px 3px 0 0;"></div>
<div class="t" style="left:417px;width:67px;text-align:center;top:391.5px;font-size:8px;font-weight:700;color:#f1f1f4">FB - <span style="color:#5fd36a">At</span></div>
<svg style="left:482.9px;top:394.0px" width="5.2" height="3.4" viewBox="0 0 6 4"><path d="M0 0 H6 L3 3.6 Z" fill="#f3f3f3"/></svg>
<div class="abs" style="left:417px;top:404.1px;width:73px;height:18px;background:#c4282d;border-radius:0 0 3px 3px;"></div>
<svg style="left:421.0px;top:409.4px" width="7.5" height="7.5" viewBox="0 0 8 8"><path d="M1.1 6.8 A3.9 3.9 0 1 1 6.9 6.8 Z" fill="#e8a0a0"/><circle cx="4" cy="3.3" r="1.45" fill="#c4282d"/><path d="M2.1 7 Q2.2 5.2 4 5.2 Q5.8 5.2 5.9 7 Z" fill="#c4282d"/></svg>
<div class="t" style="left:305.8px;width:300px;text-align:center;top:408.7px;font-size:9px;color:#f8e0e0;transform:scaleX(0.75);">Emerson Royal</div>
<svg style="left:482.9px;top:411.7px" width="5.2" height="3.4" viewBox="0 0 6 4"><path d="M0 0 H6 L3 3.6 Z" fill="#f3f3f3"/></svg>
<svg style="left:316.8px;top:426.5px" width="23.4" height="25" viewBox="0 0 24 26" preserveAspectRatio="none"><defs><linearGradient id="sg11" x1="0" y1="0" x2="0" y2="1"><stop offset="0" stop-color="#4b9569"/><stop offset="1" stop-color="#2f7049"/></linearGradient></defs><g opacity="0.85"><path d="M8.6 0.6 Q12 2.6 15.4 0.6 Q20.5 1 22.6 4.2 Q23.6 6.5 23.6 12 L19.6 12.2 L19.6 26 L4.4 26 L4.4 12.2 L0.4 12 Q0.4 6.5 1.4 4.2 Q3.5 1 8.6 0.6 Z" fill="url(#sg11)" stroke="#1a6036" stroke-width="1"/><path d="M4.6 8 V14 M19.4 8 V14" stroke="#1a5a34" stroke-width="1.2" opacity="0.6"/></g></svg>
<svg style="left:352.7px;top:425.3px" width="13" height="13" viewBox="0 0 13 13"><circle cx="6.5" cy="6.5" r="6.3" fill="#f2c318"/><circle cx="6.5" cy="6.5" r="6.3" fill="none" stroke="#b38d0a" stroke-width="0.5"/><path d="M2.6 6 H6.4 L5 3.2 H6.2 L8.4 6 H10.3 Q11 6.5 10.3 7 H8.4 L6.2 9.8 H5 L6.4 7 H2.6 Z M2.3 4.7 L3.2 6.2 L3.2 6.8 L2.3 8.3" fill="#161616"/></svg>
<div class="abs" style="left:292px;top:448.5px;width:73px;height:17.5px;background:#6e6058;border-radius:3px 3px 0 0;"></div>
<div class="t" style="left:292px;width:67px;text-align:center;top:453.4px;font-size:8px;font-weight:700;color:#f1f1f4">SK - <span style="color:#f05a5a">De</span></div>
<svg style="left:357.9px;top:455.9px" width="5.2" height="3.4" viewBox="0 0 6 4"><path d="M0 0 H6 L3 3.6 Z" fill="#f3f3f3"/></svg>
<div class="abs" style="left:292px;top:466.0px;width:73px;height:18px;background:#c4282d;border-radius:0 0 3px 3px;"></div>
<svg style="left:296.0px;top:471.2px" width="7.5" height="7.5" viewBox="0 0 8 8"><path d="M1.1 6.8 A3.9 3.9 0 1 1 6.9 6.8 Z" fill="#e8a0a0"/><circle cx="4" cy="3.3" r="1.45" fill="#c4282d"/><path d="M2.1 7 Q2.2 5.2 4 5.2 Q5.8 5.2 5.9 7 Z" fill="#c4282d"/></svg>
<div class="t" style="left:180.8px;width:300px;text-align:center;top:470.1px;font-size:10px;color:#f8e0e0;letter-spacing:-0.2px;">Vicario</div>
<svg style="left:357.9px;top:473.6px" width="5.2" height="3.4" viewBox="0 0 6 4"><path d="M0 0 H6 L3 3.6 Z" fill="#f3f3f3"/></svg>
<div class="t" style="left:167.4px;top:457.7px;font-size:8.8px;color:#f2f8f4;font-weight:700;-webkit-text-stroke:0.25px #f2f8f4;transform:scaleX(1.017);transform-origin:left;">TEAM FLUIDITY</div>
<svg style="left:169px;top:469px" width="11" height="11" viewBox="0 0 11 11"><circle cx="5.5" cy="5.5" r="4.5" stroke="#eef6f1" stroke-width="1.4" fill="none"/><circle cx="5.5" cy="5.5" r="1.8" fill="#eef6f1"/></svg>
<div class="t" style="left:185.2px;top:469.2px;font-size:10.8px;color:#eef6f1;-webkit-text-stroke:0.2px #eef6f1;letter-spacing:0.3px;transform:scaleX(1.052);transform-origin:left;">Flexible</div>
<div class="t" style="left:161.3px;top:489.9px;font-size:9px;color:#f4fbf6;font-weight:700;-webkit-text-stroke:0.25px #f4fbf6;transform:scaleX(0.987);transform-origin:left;">RECENT MATCHES ANALYSIS</div>
<svg style="left:292px;top:490.3px" width="5" height="8" viewBox="0 0 5 8"><path d="M1 1 L4 4 L1 7" stroke="#f4fbf6" stroke-width="1.4" fill="none"/></svg>
<div class="t" style="left:397.5px;width:300px;text-align:center;top:47.5px;font-size:8.5px;color:#86c99c;font-weight:700;letter-spacing:0.3px;">SUBS:</div>
<div class="t" style="left:397.5px;width:300px;text-align:center;top:58.8px;font-size:8.8px;color:#f2f8f4;font-weight:700;">10/15</div>
<div class="abs" style="left:599px;top:76.5px;width:2px;height:354px;background:#35a062;border-radius:1px;"></div>
<svg style="left:536.3px;top:74.5px" width="23.4" height="25" viewBox="0 0 24 26" preserveAspectRatio="none"><defs><linearGradient id="sg12" x1="0" y1="0" x2="0" y2="1"><stop offset="0" stop-color="#4b9569"/><stop offset="1" stop-color="#2f7049"/></linearGradient></defs><g opacity="0.35"><path d="M8.6 0.6 Q12 2.6 15.4 0.6 Q20.5 1 22.6 4.2 Q23.6 6.5 23.6 12 L19.6 12.2 L19.6 26 L4.4 26 L4.4 12.2 L0.4 12 Q0.4 6.5 1.4 4.2 Q3.5 1 8.6 0.6 Z" fill="url(#sg12)" stroke="#1a6036" stroke-width="1"/><path d="M4.6 8 V14 M19.4 8 V14" stroke="#1a5a34" stroke-width="1.2" opacity="0.6"/></g></svg>
<svg style="left:582.5px;top:80.2px" width="13" height="13" viewBox="0 0 13 13"><circle cx="6.5" cy="6.5" r="6.3" fill="#f2c318"/><circle cx="6.5" cy="6.5" r="6.3" fill="none" stroke="#b38d0a" stroke-width="0.5"/><path d="M2.6 6 H6.4 L5 3.2 H6.2 L8.4 6 H10.3 Q11 6.5 10.3 7 H8.4 L6.2 9.8 H5 L6.4 7 H2.6 Z M2.3 4.7 L3.2 6.2 L3.2 6.8 L2.3 8.3" fill="#161616"/></svg>
<div class="abs" style="left:502px;top:96px;width:93px;height:17.5px;background:#c4282d;border-radius:4px;"></div>
<svg style="left:506.0px;top:101.0px" width="7.5" height="7.5" viewBox="0 0 8 8"><path d="M1.1 6.8 A3.9 3.9 0 1 1 6.9 6.8 Z" fill="#e8a0a0"/><circle cx="4" cy="3.3" r="1.45" fill="#c4282d"/><path d="M2.1 7 Q2.2 5.2 4 5.2 Q5.8 5.2 5.9 7 Z" fill="#c4282d"/></svg>
<div class="t" style="left:400.5px;width:300px;text-align:center;top:100.1px;font-size:9.5px;color:#f8e0e0;">Forster</div>
<svg style="left:586.4px;top:103.4px" width="5.2" height="3.4" viewBox="0 0 6 4"><path d="M0 0 H6 L3 3.6 Z" fill="#f3f3f3"/></svg>
<div class="t" style="left:398.0px;width:300px;text-align:center;top:116.1px;font-size:8.6px;color:#74b98f;">GK</div>
<svg style="left:536.3px;top:133.5px" width="23.4" height="25" viewBox="0 0 24 26" preserveAspectRatio="none"><defs><linearGradient id="sg13" x1="0" y1="0" x2="0" y2="1"><stop offset="0" stop-color="#4b9569"/><stop offset="1" stop-color="#2f7049"/></linearGradient></defs><g opacity="0.8"><path d="M8.6 0.6 Q12 2.6 15.4 0.6 Q20.5 1 22.6 4.2 Q23.6 6.5 23.6 12 L19.6 12.2 L19.6 26 L4.4 26 L4.4 12.2 L0.4 12 Q0.4 6.5 1.4 4.2 Q3.5 1 8.6 0.6 Z" fill="url(#sg13)" stroke="#1a6036" stroke-width="1"/><path d="M4.6 8 V14 M19.4 8 V14" stroke="#1a5a34" stroke-width="1.2" opacity="0.6"/></g></svg>
<svg style="left:582.5px;top:139.2px" width="13" height="13" viewBox="0 0 13 13"><circle cx="6.5" cy="6.5" r="6.3" fill="#f2c318"/><circle cx="6.5" cy="6.5" r="6.3" fill="none" stroke="#b38d0a" stroke-width="0.5"/><path d="M2.6 6 H6.4 L5 3.2 H6.2 L8.4 6 H10.3 Q11 6.5 10.3 7 H8.4 L6.2 9.8 H5 L6.4 7 H2.6 Z M2.3 4.7 L3.2 6.2 L3.2 6.8 L2.3 8.3" fill="#161616"/></svg>
<div class="abs" style="left:502px;top:155px;width:93px;height:17.5px;background:#c4282d;border-radius:4px;"></div>
<svg style="left:506.0px;top:160.1px" width="7.5" height="7.5" viewBox="0 0 8 8"><path d="M1.1 6.8 A3.9 3.9 0 1 1 6.9 6.8 Z" fill="#e8a0a0"/><circle cx="4" cy="3.3" r="1.45" fill="#c4282d"/><path d="M2.1 7 Q2.2 5.2 4 5.2 Q5.8 5.2 5.9 7 Z" fill="#c4282d"/></svg>
<div class="t" style="left:400.5px;width:300px;text-align:center;top:159.1px;font-size:9.5px;color:#f8e0e0;">Udogie</div>
<svg style="left:586.4px;top:162.4px" width="5.2" height="3.4" viewBox="0 0 6 4"><path d="M0 0 H6 L3 3.6 Z" fill="#f3f3f3"/></svg>
<div class="t" style="left:398.0px;width:300px;text-align:center;top:175.1px;font-size:8.6px;color:#74b98f;">D/WB (L)</div>
<svg style="left:536.3px;top:192.5px" width="23.4" height="25" viewBox="0 0 24 26" preserveAspectRatio="none"><defs><linearGradient id="sg14" x1="0" y1="0" x2="0" y2="1"><stop offset="0" stop-color="#4b9569"/><stop offset="1" stop-color="#2f7049"/></linearGradient></defs><g opacity="0.8"><path d="M8.6 0.6 Q12 2.6 15.4 0.6 Q20.5 1 22.6 4.2 Q23.6 6.5 23.6 12 L19.6 12.2 L19.6 26 L4.4 26 L4.4 12.2 L0.4 12 Q0.4 6.5 1.4 4.2 Q3.5 1 8.6 0.6 Z" fill="url(#sg14)" stroke="#1a6036" stroke-width="1"/><path d="M4.6 8 V14 M19.4 8 V14" stroke="#1a5a34" stroke-width="1.2" opacity="0.6"/></g></svg>
<svg style="left:582.5px;top:198.2px" width="13" height="13" viewBox="0 0 13 13"><circle cx="6.5" cy="6.5" r="6.3" fill="#f2c318"/><circle cx="6.5" cy="6.5" r="6.3" fill="none" stroke="#b38d0a" stroke-width="0.5"/><path d="M2.6 6 H6.4 L5 3.2 H6.2 L8.4 6 H10.3 Q11 6.5 10.3 7 H8.4 L6.2 9.8 H5 L6.4 7 H2.6 Z M2.3 4.7 L3.2 6.2 L3.2 6.8 L2.3 8.3" fill="#161616"/></svg>
<div class="abs" style="left:502px;top:214px;width:93px;height:17.5px;background:#c4282d;border-radius:4px;"></div>
<svg style="left:506.0px;top:219.1px" width="7.5" height="7.5" viewBox="0 0 8 8"><path d="M1.1 6.8 A3.9 3.9 0 1 1 6.9 6.8 Z" fill="#e8a0a0"/><circle cx="4" cy="3.3" r="1.45" fill="#c4282d"/><path d="M2.1 7 Q2.2 5.2 4 5.2 Q5.8 5.2 5.9 7 Z" fill="#c4282d"/></svg>
<div class="t" style="left:400.5px;width:300px;text-align:center;top:218.1px;font-size:9.5px;color:#f8e0e0;">Porro</div>
<svg style="left:586.4px;top:221.4px" width="5.2" height="3.4" viewBox="0 0 6 4"><path d="M0 0 H6 L3 3.6 Z" fill="#f3f3f3"/></svg>
<div class="t" style="left:398.0px;width:300px;text-align:center;top:234.1px;font-size:8.6px;color:#74b98f;">D/WB/M/AM (R)</div>
<svg style="left:536.3px;top:251.5px" width="23.4" height="25" viewBox="0 0 24 26" preserveAspectRatio="none"><defs><linearGradient id="sg15" x1="0" y1="0" x2="0" y2="1"><stop offset="0" stop-color="#4b9569"/><stop offset="1" stop-color="#2f7049"/></linearGradient></defs><g opacity="0.8"><path d="M8.6 0.6 Q12 2.6 15.4 0.6 Q20.5 1 22.6 4.2 Q23.6 6.5 23.6 12 L19.6 12.2 L19.6 26 L4.4 26 L4.4 12.2 L0.4 12 Q0.4 6.5 1.4 4.2 Q3.5 1 8.6 0.6 Z" fill="url(#sg15)" stroke="#1a6036" stroke-width="1"/><path d="M4.6 8 V14 M19.4 8 V14" stroke="#1a5a34" stroke-width="1.2" opacity="0.6"/></g></svg>
<svg style="left:582.5px;top:257.2px" width="13" height="13" viewBox="0 0 13 13"><circle cx="6.5" cy="6.5" r="6.3" fill="#f2c318"/><circle cx="6.5" cy="6.5" r="6.3" fill="none" stroke="#b38d0a" stroke-width="0.5"/><path d="M2.6 6 H6.4 L5 3.2 H6.2 L8.4 6 H10.3 Q11 6.5 10.3 7 H8.4 L6.2 9.8 H5 L6.4 7 H2.6 Z M2.3 4.7 L3.2 6.2 L3.2 6.8 L2.3 8.3" fill="#161616"/></svg>
<div class="abs" style="left:502px;top:273px;width:93px;height:17.5px;background:#c4282d;border-radius:4px;"></div>
<svg style="left:506.0px;top:278.1px" width="7.5" height="7.5" viewBox="0 0 8 8"><path d="M1.1 6.8 A3.9 3.9 0 1 1 6.9 6.8 Z" fill="#e8a0a0"/><circle cx="4" cy="3.3" r="1.45" fill="#c4282d"/><path d="M2.1 7 Q2.2 5.2 4 5.2 Q5.8 5.2 5.9 7 Z" fill="#c4282d"/></svg>
<div class="t" style="left:400.5px;width:300px;text-align:center;top:277.1px;font-size:9.5px;color:#f8e0e0;">Richarlison</div>
<svg style="left:586.4px;top:280.4px" width="5.2" height="3.4" viewBox="0 0 6 4"><path d="M0 0 H6 L3 3.6 Z" fill="#f3f3f3"/></svg>
<div class="t" style="left:398.0px;width:300px;text-align:center;top:293.1px;font-size:8.6px;color:#74b98f;">AM (RL), ST (C)</div>
<svg style="left:536.3px;top:310.5px" width="23.4" height="25" viewBox="0 0 24 26" preserveAspectRatio="none"><defs><linearGradient id="sg16" x1="0" y1="0" x2="0" y2="1"><stop offset="0" stop-color="#4b9569"/><stop offset="1" stop-color="#2f7049"/></linearGradient></defs><g opacity="0.8"><path d="M8.6 0.6 Q12 2.6 15.4 0.6 Q20.5 1 22.6 4.2 Q23.6 6.5 23.6 12 L19.6 12.2 L19.6 26 L4.4 26 L4.4 12.2 L0.4 12 Q0.4 6.5 1.4 4.2 Q3.5 1 8.6 0.6 Z" fill="url(#sg16)" stroke="#1a6036" stroke-width="1"/><path d="M4.6 8 V14 M19.4 8 V14" stroke="#1a5a34" stroke-width="1.2" opacity="0.6"/></g></svg>
<svg style="left:583.5px;top:317.2px" width="11" height="11" viewBox="0 0 11 11"><circle cx="5.5" cy="5.5" r="4.6" fill="#d8404a" stroke="#b02030" stroke-width="0.6"/><circle cx="5.5" cy="5.5" r="2.6" fill="#a01828"/><path d="M5.5 3.8 V7.2 M3.8 5.5 H7.2" stroke="#3a0810" stroke-width="1.1"/></svg>
<div class="abs" style="left:502px;top:332px;width:93px;height:17.5px;background:#c4282d;border-radius:4px;"></div>
<svg style="left:506.0px;top:337.1px" width="7.5" height="7.5" viewBox="0 0 8 8"><path d="M1.1 6.8 A3.9 3.9 0 1 1 6.9 6.8 Z" fill="#e8a0a0"/><circle cx="4" cy="3.3" r="1.45" fill="#c4282d"/><path d="M2.1 7 Q2.2 5.2 4 5.2 Q5.8 5.2 5.9 7 Z" fill="#c4282d"/></svg>
<div class="t" style="left:400.5px;width:300px;text-align:center;top:336.1px;font-size:9.5px;color:#f8e0e0;">Davies</div>
<svg style="left:586.4px;top:339.4px" width="5.2" height="3.4" viewBox="0 0 6 4"><path d="M0 0 H6 L3 3.6 Z" fill="#f3f3f3"/></svg>
<div class="t" style="left:398.0px;width:300px;text-align:center;top:352.1px;font-size:8.6px;color:#74b98f;">D (LC), WB (L)</div>
<svg style="left:536.3px;top:369.5px" width="23.4" height="25" viewBox="0 0 24 26" preserveAspectRatio="none"><defs><linearGradient id="sg17" x1="0" y1="0" x2="0" y2="1"><stop offset="0" stop-color="#4b9569"/><stop offset="1" stop-color="#2f7049"/></linearGradient></defs><g opacity="0.8"><path d="M8.6 0.6 Q12 2.6 15.4 0.6 Q20.5 1 22.6 4.2 Q23.6 6.5 23.6 12 L19.6 12.2 L19.6 26 L4.4 26 L4.4 12.2 L0.4 12 Q0.4 6.5 1.4 4.2 Q3.5 1 8.6 0.6 Z" fill="url(#sg17)" stroke="#1a6036" stroke-width="1"/><path d="M4.6 8 V14 M19.4 8 V14" stroke="#1a5a34" stroke-width="1.2" opacity="0.6"/></g></svg>
<svg style="left:582.5px;top:375.2px" width="13" height="13" viewBox="0 0 13 13"><circle cx="6.5" cy="6.5" r="6.3" fill="#f2c318"/><circle cx="6.5" cy="6.5" r="6.3" fill="none" stroke="#b38d0a" stroke-width="0.5"/><path d="M2.6 6 H6.4 L5 3.2 H6.2 L8.4 6 H10.3 Q11 6.5 10.3 7 H8.4 L6.2 9.8 H5 L6.4 7 H2.6 Z M2.3 4.7 L3.2 6.2 L3.2 6.8 L2.3 8.3" fill="#161616"/></svg>
<div class="abs" style="left:502px;top:391px;width:93px;height:17.5px;background:#c4282d;border-radius:4px;"></div>
<svg style="left:506.0px;top:396.1px" width="7.5" height="7.5" viewBox="0 0 8 8"><path d="M1.1 6.8 A3.9 3.9 0 1 1 6.9 6.8 Z" fill="#e8a0a0"/><circle cx="4" cy="3.3" r="1.45" fill="#c4282d"/><path d="M2.1 7 Q2.2 5.2 4 5.2 Q5.8 5.2 5.9 7 Z" fill="#c4282d"/></svg>
<div class="t" style="left:400.5px;width:300px;text-align:center;top:395.1px;font-size:9.5px;color:#f8e0e0;">Skipp</div>
<svg style="left:586.4px;top:398.4px" width="5.2" height="3.4" viewBox="0 0 6 4"><path d="M0 0 H6 L3 3.6 Z" fill="#f3f3f3"/></svg>
<div class="t" style="left:398.0px;width:300px;text-align:center;top:411.1px;font-size:8.6px;color:#74b98f;">DM, M (C)</div>
<svg style="left:536.3px;top:428.5px" width="23.4" height="25" viewBox="0 0 24 26" preserveAspectRatio="none"><defs><linearGradient id="sg18" x1="0" y1="0" x2="0" y2="1"><stop offset="0" stop-color="#4b9569"/><stop offset="1" stop-color="#2f7049"/></linearGradient></defs><g opacity="0.8"><path d="M8.6 0.6 Q12 2.6 15.4 0.6 Q20.5 1 22.6 4.2 Q23.6 6.5 23.6 12 L19.6 12.2 L19.6 26 L4.4 26 L4.4 12.2 L0.4 12 Q0.4 6.5 1.4 4.2 Q3.5 1 8.6 0.6 Z" fill="url(#sg18)" stroke="#1a6036" stroke-width="1"/><path d="M4.6 8 V14 M19.4 8 V14" stroke="#1a5a34" stroke-width="1.2" opacity="0.6"/></g></svg>
<svg style="left:582.5px;top:434.2px" width="13" height="13" viewBox="0 0 13 13"><circle cx="6.5" cy="6.5" r="6.3" fill="#f2c318"/><circle cx="6.5" cy="6.5" r="6.3" fill="none" stroke="#b38d0a" stroke-width="0.5"/><path d="M2.6 6 H6.4 L5 3.2 H6.2 L8.4 6 H10.3 Q11 6.5 10.3 7 H8.4 L6.2 9.8 H5 L6.4 7 H2.6 Z M2.3 4.7 L3.2 6.2 L3.2 6.8 L2.3 8.3" fill="#161616"/></svg>
<div class="abs" style="left:502px;top:450px;width:93px;height:17.5px;background:#c4282d;border-radius:4px;"></div>
<svg style="left:506.0px;top:455.1px" width="7.5" height="7.5" viewBox="0 0 8 8"><path d="M1.1 6.8 A3.9 3.9 0 1 1 6.9 6.8 Z" fill="#e8a0a0"/><circle cx="4" cy="3.3" r="1.45" fill="#c4282d"/><path d="M2.1 7 Q2.2 5.2 4 5.2 Q5.8 5.2 5.9 7 Z" fill="#c4282d"/></svg>
<div class="t" style="left:400.5px;width:300px;text-align:center;top:454.1px;font-size:9.5px;color:#f8e0e0;">Werner</div>
<svg style="left:586.4px;top:457.4px" width="5.2" height="3.4" viewBox="0 0 6 4"><path d="M0 0 H6 L3 3.6 Z" fill="#f3f3f3"/></svg>
<div class="t" style="left:398.0px;width:300px;text-align:center;top:470.1px;font-size:8.6px;color:#74b98f;">AM (L), ST (C)</div>
<svg style="left:536.3px;top:487.5px" width="23.4" height="25" viewBox="0 0 24 26" preserveAspectRatio="none"><defs><linearGradient id="sg19" x1="0" y1="0" x2="0" y2="1"><stop offset="0" stop-color="#4b9569"/><stop offset="1" stop-color="#2f7049"/></linearGradient></defs><g opacity="0.8"><path d="M8.6 0.6 Q12 2.6 15.4 0.6 Q20.5 1 22.6 4.2 Q23.6 6.5 23.6 12 L19.6 12.2 L19.6 26 L4.4 26 L4.4 12.2 L0.4 12 Q0.4 6.5 1.4 4.2 Q3.5 1 8.6 0.6 Z" fill="url(#sg19)" stroke="#1a6036" stroke-width="1"/><path d="M4.6 8 V14 M19.4 8 V14" stroke="#1a5a34" stroke-width="1.2" opacity="0.6"/></g></svg>
<div class="abs" style="left:502px;top:509px;width:93px;height:17.5px;background:#0b4a3a;border-radius:4px;"></div>
<div class="t" style="left:392.5px;width:300px;text-align:center;top:513.1px;font-size:9.6px;color:#78a898;">Pick Player</div>
<svg style="left:586.4px;top:516.4px" width="5.2" height="3.4" viewBox="0 0 6 4"><path d="M0 0 H6 L3 3.6 Z" fill="#f3f3f3"/></svg>
<div class="t" style="left:398.0px;width:300px;text-align:center;top:529.1px;font-size:8.6px;color:#74b98f;">-</div>
<svg style="left:536.3px;top:546.5px" width="23.4" height="25" viewBox="0 0 24 26" preserveAspectRatio="none"><defs><linearGradient id="sg20" x1="0" y1="0" x2="0" y2="1"><stop offset="0" stop-color="#4b9569"/><stop offset="1" stop-color="#2f7049"/></linearGradient></defs><g opacity="0.8"><path d="M8.6 0.6 Q12 2.6 15.4 0.6 Q20.5 1 22.6 4.2 Q23.6 6.5 23.6 12 L19.6 12.2 L19.6 26 L4.4 26 L4.4 12.2 L0.4 12 Q0.4 6.5 1.4 4.2 Q3.5 1 8.6 0.6 Z" fill="url(#sg20)" stroke="#1a6036" stroke-width="1"/><path d="M4.6 8 V14 M19.4 8 V14" stroke="#1a5a34" stroke-width="1.2" opacity="0.6"/></g></svg>
<svg style="left:582.5px;top:552.2px" width="13" height="13" viewBox="0 0 13 13"><circle cx="6.5" cy="6.5" r="6.3" fill="#f2c318"/><circle cx="6.5" cy="6.5" r="6.3" fill="none" stroke="#b38d0a" stroke-width="0.5"/><path d="M2.6 6 H6.4 L5 3.2 H6.2 L8.4 6 H10.3 Q11 6.5 10.3 7 H8.4 L6.2 9.8 H5 L6.4 7 H2.6 Z M2.3 4.7 L3.2 6.2 L3.2 6.8 L2.3 8.3" fill="#161616"/></svg>
<div class="abs" style="left:502px;top:568px;width:93px;height:17.5px;background:#c4282d;border-radius:4px;"></div>
<svg style="left:506.0px;top:573.0px" width="7.5" height="7.5" viewBox="0 0 8 8"><path d="M1.1 6.8 A3.9 3.9 0 1 1 6.9 6.8 Z" fill="#e8a0a0"/><circle cx="4" cy="3.3" r="1.45" fill="#c4282d"/><path d="M2.1 7 Q2.2 5.2 4 5.2 Q5.8 5.2 5.9 7 Z" fill="#c4282d"/></svg>
<div class="t" style="left:400.5px;width:300px;text-align:center;top:572.1px;font-size:9.5px;color:#f8e0e0;">Lo Celso</div>
<svg style="left:586.4px;top:575.4px" width="5.2" height="3.4" viewBox="0 0 6 4"><path d="M0 0 H6 L3 3.6 Z" fill="#f3f3f3"/></svg>
<div class="t" style="left:398.0px;width:300px;text-align:center;top:588.1px;font-size:8.6px;color:#74b98f;">DM, M (LC), AM (C)</div>
<svg style="left:536.3px;top:605.5px" width="23.4" height="25" viewBox="0 0 24 26" preserveAspectRatio="none"><defs><linearGradient id="sg21" x1="0" y1="0" x2="0" y2="1"><stop offset="0" stop-color="#4b9569"/><stop offset="1" stop-color="#2f7049"/></linearGradient></defs><g opacity="0.8"><path d="M8.6 0.6 Q12 2.6 15.4 0.6 Q20.5 1 22.6 4.2 Q23.6 6.5 23.6 12 L19.6 12.2 L19.6 26 L4.4 26 L4.4 12.2 L0.4 12 Q0.4 6.5 1.4 4.2 Q3.5 1 8.6 0.6 Z" fill="url(#sg21)" stroke="#1a6036" stroke-width="1"/><path d="M4.6 8 V14 M19.4 8 V14" stroke="#1a5a34" stroke-width="1.2" opacity="0.6"/></g></svg>
<div class="t" style="left:160.8px;top:507.4px;font-size:8.5px;color:#86d496;font-weight:700;">POSITIVES</div>
<div class="t" style="left:333.3px;top:507.4px;font-size:8.5px;color:#f4a88c;font-weight:700;">NEGATIVES</div>
<div class="abs" style="left:326px;top:520px;width:1px;height:100px;background:#3a9c62;"></div>
<div class="abs" style="left:498px;top:520px;width:1.5px;height:76px;background:#3a9c62;"></div>
<svg style="left:163.0px;top:519.2px" width="10" height="10" viewBox="0 0 10 10"><g ><path d="M1 4.5 H3 V9.5 H1 Z M3.8 4.5 L5.5 1 Q6.8 1 6.5 3 L6.3 4 H8.8 Q9.8 4.2 9.5 5.3 L8.7 8.6 Q8.4 9.5 7.5 9.5 H3.8 Z" fill="#5ccc48"/></g></svg>
<div class="t" style="left:179.8px;top:520.1px;font-size:10px;color:#eaf4ee;letter-spacing:-0.15px;">Assists Location</div>
<div class="t" style="left:182.3px;top:534.1px;font-size:10px;color:#7fb896;letter-spacing:-0.15px;">- Penalty Area</div>
<svg style="left:163.0px;top:549.4px" width="10" height="10" viewBox="0 0 10 10"><g ><path d="M1 4.5 H3 V9.5 H1 Z M3.8 4.5 L5.5 1 Q6.8 1 6.5 3 L6.3 4 H8.8 Q9.8 4.2 9.5 5.3 L8.7 8.6 Q8.4 9.5 7.5 9.5 H3.8 Z" fill="#5ccc48"/></g></svg>
<div class="t" style="left:179.8px;top:550.3px;font-size:10px;color:#eaf4ee;letter-spacing:-0.15px;">Goals Scored Location</div>
<div class="t" style="left:182.3px;top:564.3px;font-size:10px;color:#7fb896;letter-spacing:-0.15px;">- Penalty Area Centre</div>
<svg style="left:163.0px;top:579.2px" width="10" height="10" viewBox="0 0 10 10"><g ><path d="M1 4.5 H3 V9.5 H1 Z M3.8 4.5 L5.5 1 Q6.8 1 6.5 3 L6.3 4 H8.8 Q9.8 4.2 9.5 5.3 L8.7 8.6 Q8.4 9.5 7.5 9.5 H3.8 Z" fill="#5ccc48"/></g></svg>
<div class="t" style="left:179.8px;top:580.1px;font-size:10px;color:#eaf4ee;letter-spacing:-0.15px;">Opposition Long-Range Shots</div>
<svg style="left:163.0px;top:597.9px" width="10" height="10" viewBox="0 0 10 10"><g ><path d="M1 4.5 H3 V9.5 H1 Z M3.8 4.5 L5.5 1 Q6.8 1 6.5 3 L6.3 4 H8.8 Q9.8 4.2 9.5 5.3 L8.7 8.6 Q8.4 9.5 7.5 9.5 H3.8 Z" fill="#9ccc30"/></g></svg>
<div class="t" style="left:179.8px;top:598.8px;font-size:10px;color:#eaf4ee;letter-spacing:-0.15px;">Opposition Touches in Penalty</div>
<div class="t" style="left:179.8px;top:612.9px;font-size:10px;color:#eaf4ee;letter-spacing:-0.15px;">Area</div>
<svg style="left:336.0px;top:519.2px" width="10" height="10" viewBox="0 0 10 10"><g transform="rotate(180 5 5)"><path d="M1 4.5 H3 V9.5 H1 Z M3.8 4.5 L5.5 1 Q6.8 1 6.5 3 L6.3 4 H8.8 Q9.8 4.2 9.5 5.3 L8.7 8.6 Q8.4 9.5 7.5 9.5 H3.8 Z" fill="#d8281e"/></g></svg>
<div class="t" style="left:352.0px;top:520.1px;font-size:10px;color:#eaf4ee;letter-spacing:-0.15px;">Goals Conceded Location</div>
<div class="t" style="left:354.5px;top:534.1px;font-size:10px;color:#7fb896;letter-spacing:-0.15px;">- Penalty Area Centre</div>
<svg style="left:336.0px;top:549.4px" width="10" height="10" viewBox="0 0 10 10"><g transform="rotate(180 5 5)"><path d="M1 4.5 H3 V9.5 H1 Z M3.8 4.5 L5.5 1 Q6.8 1 6.5 3 L6.3 4 H8.8 Q9.8 4.2 9.5 5.3 L8.7 8.6 Q8.4 9.5 7.5 9.5 H3.8 Z" fill="#e84a20"/></g></svg>
<div class="t" style="left:352.0px;top:550.3px;font-size:10px;color:#eaf4ee;letter-spacing:-0.15px;">Weak Influence</div>
<svg style="left:336.0px;top:567.7px" width="10" height="10" viewBox="0 0 10 10"><g transform="rotate(180 5 5)"><path d="M1 4.5 H3 V9.5 H1 Z M3.8 4.5 L5.5 1 Q6.8 1 6.5 3 L6.3 4 H8.8 Q9.8 4.2 9.5 5.3 L8.7 8.6 Q8.4 9.5 7.5 9.5 H3.8 Z" fill="#f06a30"/></g></svg>
<div class="t" style="left:352.0px;top:568.6px;font-size:10px;color:#eaf4ee;letter-spacing:-0.15px;">Opposition Touches to Shots</div>
<div class="t" style="left:352.0px;top:581.9px;font-size:10px;color:#eaf4ee;letter-spacing:-0.15px;">Conversion</div>
<svg style="left:336.0px;top:597.2px" width="10" height="10" viewBox="0 0 10 10"><g transform="rotate(180 5 5)"><path d="M1 4.5 H3 V9.5 H1 Z M3.8 4.5 L5.5 1 Q6.8 1 6.5 3 L6.3 4 H8.8 Q9.8 4.2 9.5 5.3 L8.7 8.6 Q8.4 9.5 7.5 9.5 H3.8 Z" fill="#f06a30"/></g></svg>
<div class="t" style="left:352.0px;top:598.1px;font-size:10px;color:#eaf4ee;letter-spacing:-0.15px;">Opposition Goals from Shots in</div>
<div class="t" style="left:352.0px;top:611.9px;font-size:10px;color:#eaf4ee;letter-spacing:-0.15px;">Penalty Area</div>
<div class="abs" style="left:609px;top:11px;width:105px;height:21px;background:#39383d;border-radius:6px;"></div>
<svg style="left:620px;top:17px" width="11" height="9" viewBox="0 0 11 9"><path d="M0.5 4.5 Q5.5 -1.5 10.5 4.5 Q5.5 10.5 0.5 4.5 Z" fill="#efeff1"/><circle cx="5.5" cy="4.5" r="1.8" fill="#39383d"/></svg>
<div class="t" style="left:634.4px;top:16.8px;font-size:9.5px;color:#dcdbe0;transform:scaleX(0.946);transform-origin:left;">Selection Info</div>
<svg style="left:695px;top:19px" width="8" height="6" viewBox="0 0 8 6"><path d="M1 1 L4 4 L7 1" stroke="#efeff1" stroke-width="1.6" fill="none"/></svg>
<div class="abs" style="left:1007.5px;top:11.5px;width:92.5px;height:20px;background:#2b2a30;border-radius:6px;"></div>
<div class="t" style="left:903.5px;width:300px;text-align:center;top:15.5px;font-size:9.5px;color:#8c8b91;">Selection Advice</div>
<div class="abs" style="left:1103.5px;top:11.5px;width:100px;height:20px;background:#37363c;border-radius:6px;"></div>
<div class="abs" style="left:1172px;top:11.5px;width:1px;height:20px;background:#2a292e;"></div>
<div class="t" style="left:987.5px;width:300px;text-align:center;top:15.5px;font-size:9.5px;color:#ebeaee;">Quick Pick</div>
<svg style="left:1183.5px;top:19px" width="8" height="6" viewBox="0 0 8 6"><path d="M1 1 L4 4 L7 1" stroke="#efeff1" stroke-width="1.6" fill="none"/></svg>
<div class="abs" style="left:1206.5px;top:11.5px;width:62.5px;height:20px;background:#37363c;border-radius:6px;"></div>
<div class="t" style="left:1216.5px;top:15.5px;font-size:9.5px;color:#ebeaee;">Filter</div>
<svg style="left:1252px;top:19px" width="8" height="6" viewBox="0 0 8 6"><path d="M1 1 L4 4 L7 1" stroke="#efeff1" stroke-width="1.6" fill="none"/></svg>
<div class="t" style="left:609.5px;top:43.7px;font-size:7.6px;color:#a9a7ad;font-weight:700;transform:scaleX(1.000);transform-origin:left;">POSITION/ROLE/DU...</div>
<div class="t" style="left:705.6px;top:43.7px;font-size:7.6px;color:#a9a7ad;font-weight:700;transform:scaleX(0.912);transform-origin:left;">ROLE ABILITY</div>
<div class="t" style="left:773.8px;top:43.7px;font-size:7.6px;color:#a9a7ad;font-weight:700;">PI</div>
<div class="t" style="left:795.2px;top:43.7px;font-size:7.6px;color:#a9a7ad;font-weight:700;">PLAYER</div>
<div class="t" style="left:925.2px;top:43.7px;font-size:7.6px;color:#a9a7ad;font-weight:700;">INF</div>
<div class="t" style="left:947.0px;top:43.7px;font-size:7.6px;color:#a9a7ad;font-weight:700;transform:scaleX(1.010);transform-origin:left;">CON</div>
<div class="t" style="left:969.0px;top:43.7px;font-size:7.6px;color:#a9a7ad;font-weight:700;transform:scaleX(0.989);transform-origin:left;">SHP</div>
<div class="t" style="left:988.5px;top:43.7px;font-size:7.6px;color:#a9a7ad;font-weight:700;">MO...</div>
<div class="t" style="left:1010.7px;top:43.7px;font-size:7.6px;color:#a9a7ad;font-weight:700;transform:scaleX(0.985);transform-origin:left;">POSITION</div>
<div class="t" style="left:1113.7px;top:43.7px;font-size:7.6px;color:#a9a7ad;font-weight:700;transform:scaleX(0.904);transform-origin:left;">LAST 5 GAMES</div>
<div class="t" style="left:1189.8px;top:43.7px;font-size:7.6px;color:#a9a7ad;font-weight:700;transform:scaleX(0.900);transform-origin:left;">GLS</div>
<div class="t" style="left:1229.4px;top:43.7px;font-size:7.6px;color:#a9a7ad;font-weight:700;transform:scaleX(0.974);transform-origin:left;">AV RAT</div>
<svg style="left:693px;top:46.5px" width="6" height="4" viewBox="0 0 6 4"><path d="M0 3.5 L3 0.3 L6 3.5 Z" fill="#a9a7ad"/></svg>
<div class="abs" style="left:1263.5px;top:62px;width:3px;height:282px;background:#4d4b53;border-radius:2px;"></div>
<div class="abs" style="left:609px;top:61px;width:650.5px;height:28px;background:#572d32;"></div>
<div class="abs" style="left:609px;top:61px;width:12px;height:28px;background:#4c2629;"></div>
<div class="abs" style="left:1259.5px;top:61px;width:0px;height:28px;background:#572d32;"></div>
<div class="abs" style="left:621px;top:61px;width:31px;height:28px;background:#5b4541;"></div>
<div class="abs" style="left:652px;top:61px;width:48px;height:28px;background:#584340;"></div>
<div class="abs" style="left:700px;top:61px;width:60px;height:28px;background:#4d3a3b;"></div>
<div class="t" style="left:486.5px;width:300px;text-align:center;top:70.8px;font-size:8.5px;color:#d6d4da;">GK</div>
<div class="t" style="left:655.7px;top:65.1px;font-size:9px;color:#f4f2f4;font-weight:700;">SK</div>
<div class="t" style="left:655.7px;top:76.3px;font-size:8.6px;color:#d9504a;">Defend</div>
<svg style="left:688.5px;top:72.5px" width="8" height="6" viewBox="0 0 8 6"><path d="M1 1 L4 4 L7 1" stroke="#f1eeee" stroke-width="1.6" fill="none"/></svg>
<svg style="left:704.0px;top:70.0px" width="52" height="10" viewBox="0 0 52 10"><defs><clipPath id="hc75"><rect x="0" y="0" width="4.6" height="10"/></clipPath></defs><path transform="translate(0.0 0)" d="M5 0.4 L6.35 3.4 L9.6 3.7 L7.15 5.85 L7.9 9.1 L5 7.4 L2.1 9.1 L2.85 5.85 L0.4 3.7 L3.65 3.4 Z" fill="#8a7a80" opacity="0.35"/><path transform="translate(0.0 0)" d="M5 0.4 L6.35 3.4 L9.6 3.7 L7.15 5.85 L7.9 9.1 L5 7.4 L2.1 9.1 L2.85 5.85 L0.4 3.7 L3.65 3.4 Z" fill="#f6c51c"/><path transform="translate(10.2 0)" d="M5 0.4 L6.35 3.4 L9.6 3.7 L7.15 5.85 L7.9 9.1 L5 7.4 L2.1 9.1 L2.85 5.85 L0.4 3.7 L3.65 3.4 Z" fill="#8a7a80" opacity="0.35"/><path transform="translate(10.2 0)" d="M5 0.4 L6.35 3.4 L9.6 3.7 L7.15 5.85 L7.9 9.1 L5 7.4 L2.1 9.1 L2.85 5.85 L0.4 3.7 L3.65 3.4 Z" fill="#f6c51c"/><path transform="translate(20.4 0)" d="M5 0.4 L6.35 3.4 L9.6 3.7 L7.15 5.85 L7.9 9.1 L5 7.4 L2.1 9.1 L2.85 5.85 L0.4 3.7 L3.65 3.4 Z" fill="#8a7a80" opacity="0.35"/><path transform="translate(20.4 0)" d="M5 0.4 L6.35 3.4 L9.6 3.7 L7.15 5.85 L7.9 9.1 L5 7.4 L2.1 9.1 L2.85 5.85 L0.4 3.7 L3.65 3.4 Z" fill="#f6c51c"/><path transform="translate(30.6 0)" d="M5 0.4 L6.35 3.4 L9.6 3.7 L7.15 5.85 L7.9 9.1 L5 7.4 L2.1 9.1 L2.85 5.85 L0.4 3.7 L3.65 3.4 Z" fill="#8a7a80" opacity="0.35"/><path transform="translate(40.8 0)" d="M5 0.4 L6.35 3.4 L9.6 3.7 L7.15 5.85 L7.9 9.1 L5 7.4 L2.1 9.1 L2.85 5.85 L0.4 3.7 L3.65 3.4 Z" fill="#8a7a80" opacity="0.35"/></svg>
<svg style="left:765.0px;top:69.0px" width="26" height="12" viewBox="0 0 26 12"><path d="M6 0.5 H13 V11.5 H6 A5.5 5.5 0 0 1 6 0.5 Z" fill="#cdb9b6"/><path d="M13 0.6 H19.5 A5.4 5.4 0 0 1 19.5 11.4 H13" stroke="#cdb9b6" stroke-width="1.1" fill="none"/><rect x="5.2" y="2.3" width="1.3" height="3.2" fill="#56292d"/><rect x="4.4" y="3" width="2.9" height="1.1" fill="#56292d"/><circle cx="5" cy="8.3" r="1.2" fill="#56292d"/><circle cx="8.3" cy="8.3" r="1.2" fill="#56292d"/><circle cx="16.5" cy="4" r="1.6" fill="#cdb9b6"/><rect x="14.6" y="6.3" width="3.8" height="3.6" rx="1.2" fill="#cdb9b6"/></svg>
<svg style="left:797.5px;top:67.8px" width="13" height="14.5" viewBox="0 0 13 14.5"><path d="M0.3 12 V6 Q0.3 0.4 6.5 0.4 Q12.7 0.4 12.7 6 V12 Q12.7 14.2 6.5 14.2 Q0.3 14.2 0.3 12 Z" fill="#179a46"/><path d="M4.6 1 Q6.5 2.2 8.4 1" stroke="#4fc07a" stroke-width="1" fill="none"/><path d="M1.8 8 V12.5 M11.2 8 V12.5" stroke="#45c07a" stroke-width="1.3"/><path d="M6.5 4 V11" stroke="#4a9a6a" stroke-width="0.6" opacity="0.6"/></svg>
<svg style="left:813.5px;top:71.2px" width="7.5" height="7.5" viewBox="0 0 8 8"><path d="M1.1 6.8 A3.9 3.9 0 1 1 6.9 6.8 Z" fill="#a38e92"/><circle cx="4" cy="3.3" r="1.45" fill="#572d32"/><path d="M2.1 7 Q2.2 5.2 4 5.2 Q5.8 5.2 5.9 7 Z" fill="#572d32"/></svg>
<div class="t" style="left:826.5px;top:70.3px;font-size:9.6px;color:#eadada;transform:scaleX(0.965);transform-origin:left;">G. Vicario</div>
<svg style="left:906.0px;top:72.5px" width="8" height="6" viewBox="0 0 8 6"><path d="M1 1 L4 4 L7 1" stroke="#f1eeee" stroke-width="1.6" fill="none"/></svg>
<div class="abs" style="left:922.8px;top:69.8px;width:20px;height:15px;background:#8fb08a;border-radius:2px;"></div>
<div class="abs" style="left:921px;top:67.5px;width:20px;height:15px;background:#e06060;border-radius:2px;"></div>
<div class="t" style="left:781.0px;width:300px;text-align:center;top:71.9px;font-size:7.5px;color:#fbe0e0;">Int</div>
<svg style="left:949.0px;top:69.0px" width="12" height="12" viewBox="0 0 12 12"><path d="M6 11.6 L1.3 6.9 Q-0.1 5.3 0.4 3.2 Q1.1 0.6 3.4 0.5 Q5 0.5 6 2.1 Q7 0.5 8.6 0.5 Q10.9 0.6 11.6 3.2 Q12.1 5.3 10.7 6.9 Z" fill="#2ee872" stroke="#1c4a2c" stroke-width="0.5"/><path d="M3.9 4.6 L6 6.6 L8.1 4.6" stroke="#1fae58" stroke-width="0.8" fill="none" opacity="0.8"/></svg>
<svg style="left:972.0px;top:69.7px" width="11" height="11" viewBox="0 0 11 11"><rect x="0" y="0" width="11" height="11" rx="2" fill="#33e07a"/><path d="M1.6 4.6 H3.4 V9.6 H1.6 Z M4.1 4.6 L5.7 1.2 Q7.3 1.1 7 3 L6.8 4 H9 Q10 4.2 9.7 5.3 L9 8.7 Q8.7 9.6 7.8 9.6 H4.1 Z" fill="#173a22" transform="translate(0.2 0.2) scale(0.96)"/></svg>
<svg style="left:989.0px;top:69.7px" width="11" height="11" viewBox="0 0 11 11"><circle cx="5.5" cy="5.5" r="5.2" fill="#4cd63a"/><path d="M8.2 2.6 L3 5.2 L5.3 5.8 L5.9 8.2 Z" fill="#17301a"/></svg>
<div class="t" style="left:1010.7px;top:70.3px;font-size:9.5px;color:#eadfe0;">GK</div>
<div class="abs" style="left:1115.0px;top:70px;width:5px;height:11px;background:#a6c060;"></div>
<div class="abs" style="left:1121.6px;top:72px;width:5px;height:9px;background:#c8b070;"></div>
<div class="abs" style="left:1128.2px;top:70px;width:5px;height:11px;background:#4cd870;"></div>
<div class="abs" style="left:1134.8px;top:70px;width:5px;height:11px;background:#4cd870;"></div>
<div class="abs" style="left:1141.4px;top:70px;width:5px;height:11px;background:#6fd070;"></div>
<div class="abs" style="left:1151px;top:69.3px;width:28px;height:11.5px;background:#5cbf1e;border-radius:6px;"></div>
<div class="t" style="left:1015.0px;width:300px;text-align:center;top:70.8px;font-size:8.5px;color:#245a10;font-weight:700;">7.20</div>
<div class="t" style="left:1047.5px;width:300px;text-align:center;top:70.1px;font-size:10px;color:#efe4e5;">0</div>
<div class="abs" style="left:1224px;top:69.3px;width:28px;height:11.5px;background:#2b2628;border-radius:6px;"></div>
<div class="t" style="left:1088.0px;width:300px;text-align:center;top:70.8px;font-size:8.5px;color:#a9a3a9;font-weight:700;">6.95</div>
<div class="abs" style="left:609px;top:89px;width:650.5px;height:28px;background:#572d32;"></div>
<div class="abs" style="left:609px;top:89px;width:12px;height:28px;background:#4c2629;"></div>
<div class="abs" style="left:1259.5px;top:89px;width:0px;height:28px;background:#572d32;"></div>
<div class="abs" style="left:621px;top:89px;width:638.5px;height:28px;background:rgba(255,255,255,0.012);"></div>
<div class="abs" style="left:621px;top:89px;width:31px;height:28px;background:#3d5170;"></div>
<div class="abs" style="left:652px;top:89px;width:48px;height:28px;background:#3b4e6b;"></div>
<div class="abs" style="left:700px;top:89px;width:60px;height:28px;background:#46465a;"></div>
<div class="t" style="left:486.5px;width:300px;text-align:center;top:98.8px;font-size:8.5px;color:#d6d4da;">DR</div>
<div class="t" style="left:655.7px;top:93.1px;font-size:9px;color:#f4f2f4;font-weight:700;">FB</div>
<div class="t" style="left:655.7px;top:104.3px;font-size:8.6px;color:#4cc253;">Attack</div>
<svg style="left:688.5px;top:100.5px" width="8" height="6" viewBox="0 0 8 6"><path d="M1 1 L4 4 L7 1" stroke="#f1eeee" stroke-width="1.6" fill="none"/></svg>
<svg style="left:704.0px;top:98.0px" width="52" height="10" viewBox="0 0 52 10"><defs><clipPath id="hc103"><rect x="0" y="0" width="4.6" height="10"/></clipPath></defs><path transform="translate(0.0 0)" d="M5 0.4 L6.35 3.4 L9.6 3.7 L7.15 5.85 L7.9 9.1 L5 7.4 L2.1 9.1 L2.85 5.85 L0.4 3.7 L3.65 3.4 Z" fill="#8a7a80" opacity="0.35"/><path transform="translate(0.0 0)" d="M5 0.4 L6.35 3.4 L9.6 3.7 L7.15 5.85 L7.9 9.1 L5 7.4 L2.1 9.1 L2.85 5.85 L0.4 3.7 L3.65 3.4 Z" fill="#f6c51c"/><path transform="translate(10.2 0)" d="M5 0.4 L6.35 3.4 L9.6 3.7 L7.15 5.85 L7.9 9.1 L5 7.4 L2.1 9.1 L2.85 5.85 L0.4 3.7 L3.65 3.4 Z" fill="#8a7a80" opacity="0.35"/><path transform="translate(10.2 0)" d="M5 0.4 L6.35 3.4 L9.6 3.7 L7.15 5.85 L7.9 9.1 L5 7.4 L2.1 9.1 L2.85 5.85 L0.4 3.7 L3.65 3.4 Z" fill="#f6c51c"/><path transform="translate(20.4 0)" d="M5 0.4 L6.35 3.4 L9.6 3.7 L7.15 5.85 L7.9 9.1 L5 7.4 L2.1 9.1 L2.85 5.85 L0.4 3.7 L3.65 3.4 Z" fill="#8a7a80" opacity="0.35"/><g transform="translate(20.4 0)"><path d="M5 0.4 L6.35 3.4 L9.6 3.7 L7.15 5.85 L7.9 9.1 L5 7.4 L2.1 9.1 L2.85 5.85 L0.4 3.7 L3.65 3.4 Z" fill="#f6c51c" clip-path="url(#hc103)"/></g><path transform="translate(30.6 0)" d="M5 0.4 L6.35 3.4 L9.6 3.7 L7.15 5.85 L7.9 9.1 L5 7.4 L2.1 9.1 L2.85 5.85 L0.4 3.7 L3.65 3.4 Z" fill="#8a7a80" opacity="0.35"/><path transform="translate(40.8 0)" d="M5 0.4 L6.35 3.4 L9.6 3.7 L7.15 5.85 L7.9 9.1 L5 7.4 L2.1 9.1 L2.85 5.85 L0.4 3.7 L3.65 3.4 Z" fill="#8a7a80" opacity="0.35"/></svg>
<svg style="left:765.0px;top:97.0px" width="26" height="12" viewBox="0 0 26 12"><path d="M6 0.5 H13 V11.5 H6 A5.5 5.5 0 0 1 6 0.5 Z" fill="#cdb9b6"/><path d="M13 0.6 H19.5 A5.4 5.4 0 0 1 19.5 11.4 H13" stroke="#cdb9b6" stroke-width="1.1" fill="none"/><rect x="5.2" y="2.3" width="1.3" height="3.2" fill="#56292d"/><rect x="4.4" y="3" width="2.9" height="1.1" fill="#56292d"/><circle cx="5" cy="8.3" r="1.2" fill="#56292d"/><circle cx="8.3" cy="8.3" r="1.2" fill="#56292d"/><circle cx="16.5" cy="4" r="1.6" fill="#cdb9b6"/><rect x="14.6" y="6.3" width="3.8" height="3.6" rx="1.2" fill="#cdb9b6"/></svg>
<svg style="left:797.5px;top:96.0px" width="14" height="14" viewBox="0 0 14 14"><path d="M4 0.8 L5.6 0.8 Q7 2 8.4 0.8 L10 0.8 L13.6 2.8 L13 6 L11 6 L11 13.4 L3 13.4 L3 6 L1 6 L0.4 2.8 Z" fill="#eceef2"/><path d="M5.6 4.5 H8.4 V8.2 H5.6 Z" fill="#6a7fa4" opacity="0.55"/></svg>
<svg style="left:813.5px;top:99.2px" width="7.5" height="7.5" viewBox="0 0 8 8"><path d="M1.1 6.8 A3.9 3.9 0 1 1 6.9 6.8 Z" fill="#a38e92"/><circle cx="4" cy="3.3" r="1.45" fill="#572d32"/><path d="M2.1 7 Q2.2 5.2 4 5.2 Q5.8 5.2 5.9 7 Z" fill="#572d32"/></svg>
<div class="t" style="left:826.5px;top:98.3px;font-size:9.6px;color:#eadada;transform:scaleX(0.965);transform-origin:left;">Emerson Royal</div>
<svg style="left:906.0px;top:100.5px" width="8" height="6" viewBox="0 0 8 6"><path d="M1 1 L4 4 L7 1" stroke="#f1eeee" stroke-width="1.6" fill="none"/></svg>
<div class="abs" style="left:921px;top:95.5px;width:20px;height:15px;background:#e06060;border-radius:2px;"></div>
<div class="t" style="left:781.0px;width:300px;text-align:center;top:99.9px;font-size:7.5px;color:#fbe0e0;">Vac</div>
<svg style="left:949.0px;top:97.0px" width="12" height="12" viewBox="0 0 12 12"><path d="M6 11.6 L1.3 6.9 Q-0.1 5.3 0.4 3.2 Q1.1 0.6 3.4 0.5 Q5 0.5 6 2.1 Q7 0.5 8.6 0.5 Q10.9 0.6 11.6 3.2 Q12.1 5.3 10.7 6.9 Z" fill="#2ee872" stroke="#1c4a2c" stroke-width="0.5"/><path d="M3.9 4.6 L6 6.6 L8.1 4.6" stroke="#1fae58" stroke-width="0.8" fill="none" opacity="0.8"/></svg>
<svg style="left:972.0px;top:97.7px" width="11" height="11" viewBox="0 0 11 11"><rect x="0" y="0" width="11" height="11" rx="2" fill="#f05a5a"/><g transform="rotate(180 5.5 5.5)"><path d="M1.6 4.6 H3.4 V9.6 H1.6 Z M4.1 4.6 L5.7 1.2 Q7.3 1.1 7 3 L6.8 4 H9 Q10 4.2 9.7 5.3 L9 8.7 Q8.7 9.6 7.8 9.6 H4.1 Z" fill="#4a1414" transform="translate(0.2 0.2) scale(0.96)"/></g></svg>
<svg style="left:989.0px;top:97.7px" width="11" height="11" viewBox="0 0 11 11"><circle cx="5.5" cy="5.5" r="5.2" fill="#4cd63a"/><path d="M8.2 2.6 L3 5.2 L5.3 5.8 L5.9 8.2 Z" fill="#17301a"/></svg>
<div class="t" style="left:1010.7px;top:98.3px;font-size:9.5px;color:#eadfe0;">D/WB (R)</div>
<div class="abs" style="left:1115.0px;top:100px;width:5px;height:9px;background:#c8c070;"></div>
<div class="abs" style="left:1121.6px;top:100px;width:5px;height:9px;background:#c8c070;"></div>
<div class="abs" style="left:1128.2px;top:100px;width:5px;height:9px;background:#b8c068;"></div>
<div class="abs" style="left:1134.8px;top:99px;width:5px;height:10px;background:#a6c060;"></div>
<div class="abs" style="left:1141.4px;top:99px;width:5px;height:10px;background:#a6c060;"></div>
<div class="abs" style="left:1151px;top:97.3px;width:28px;height:11.5px;background:#2b2628;border-radius:6px;"></div>
<div class="t" style="left:1015.0px;width:300px;text-align:center;top:98.8px;font-size:8.5px;color:#a9a3a9;font-weight:700;">6.76</div>
<div class="t" style="left:1047.5px;width:300px;text-align:center;top:98.1px;font-size:10px;color:#efe4e5;">2</div>
<div class="abs" style="left:1224px;top:97.3px;width:28px;height:11.5px;background:#5cbf1e;border-radius:6px;"></div>
<div class="t" style="left:1088.0px;width:300px;text-align:center;top:98.8px;font-size:8.5px;color:#245a10;font-weight:700;">7.00</div>
<div class="abs" style="left:609px;top:117px;width:650.5px;height:28px;background:#572d32;"></div>
<div class="abs" style="left:609px;top:117px;width:12px;height:28px;background:#4c2629;"></div>
<div class="abs" style="left:1259.5px;top:117px;width:0px;height:28px;background:#572d32;"></div>
<div class="abs" style="left:621px;top:117px;width:31px;height:28px;background:#3d5170;"></div>
<div class="abs" style="left:652px;top:117px;width:48px;height:28px;background:#3b4e6b;"></div>
<div class="abs" style="left:700px;top:117px;width:60px;height:28px;background:#46465a;"></div>
<div class="t" style="left:486.5px;width:300px;text-align:center;top:126.8px;font-size:8.5px;color:#d6d4da;">DCR</div>
<div class="t" style="left:655.7px;top:121.1px;font-size:9px;color:#f4f2f4;font-weight:700;">BPD</div>
<div class="t" style="left:655.7px;top:132.3px;font-size:8.6px;color:#d9504a;">Defend</div>
<svg style="left:688.5px;top:128.5px" width="8" height="6" viewBox="0 0 8 6"><path d="M1 1 L4 4 L7 1" stroke="#f1eeee" stroke-width="1.6" fill="none"/></svg>
<svg style="left:704.0px;top:126.0px" width="52" height="10" viewBox="0 0 52 10"><defs><clipPath id="hc131"><rect x="0" y="0" width="4.6" height="10"/></clipPath></defs><path transform="translate(0.0 0)" d="M5 0.4 L6.35 3.4 L9.6 3.7 L7.15 5.85 L7.9 9.1 L5 7.4 L2.1 9.1 L2.85 5.85 L0.4 3.7 L3.65 3.4 Z" fill="#8a7a80" opacity="0.35"/><path transform="translate(0.0 0)" d="M5 0.4 L6.35 3.4 L9.6 3.7 L7.15 5.85 L7.9 9.1 L5 7.4 L2.1 9.1 L2.85 5.85 L0.4 3.7 L3.65 3.4 Z" fill="#f6c51c"/><path transform="translate(10.2 0)" d="M5 0.4 L6.35 3.4 L9.6 3.7 L7.15 5.85 L7.9 9.1 L5 7.4 L2.1 9.1 L2.85 5.85 L0.4 3.7 L3.65 3.4 Z" fill="#8a7a80" opacity="0.35"/><path transform="translate(10.2 0)" d="M5 0.4 L6.35 3.4 L9.6 3.7 L7.15 5.85 L7.9 9.1 L5 7.4 L2.1 9.1 L2.85 5.85 L0.4 3.7 L3.65 3.4 Z" fill="#f6c51c"/><path transform="translate(20.4 0)" d="M5 0.4 L6.35 3.4 L9.6 3.7 L7.15 5.85 L7.9 9.1 L5 7.4 L2.1 9.1 L2.85 5.85 L0.4 3.7 L3.65 3.4 Z" fill="#8a7a80" opacity="0.35"/><g transform="translate(20.4 0)"><path d="M5 0.4 L6.35 3.4 L9.6 3.7 L7.15 5.85 L7.9 9.1 L5 7.4 L2.1 9.1 L2.85 5.85 L0.4 3.7 L3.65 3.4 Z" fill="#f6c51c" clip-path="url(#hc131)"/></g><path transform="translate(30.6 0)" d="M5 0.4 L6.35 3.4 L9.6 3.7 L7.15 5.85 L7.9 9.1 L5 7.4 L2.1 9.1 L2.85 5.85 L0.4 3.7 L3.65 3.4 Z" fill="#8a7a80" opacity="0.35"/><path transform="translate(40.8 0)" d="M5 0.4 L6.35 3.4 L9.6 3.7 L7.15 5.85 L7.9 9.1 L5 7.4 L2.1 9.1 L2.85 5.85 L0.4 3.7 L3.65 3.4 Z" fill="#8a7a80" opacity="0.35"/></svg>
<svg style="left:765.0px;top:125.0px" width="26" height="12" viewBox="0 0 26 12"><path d="M6 0.5 H13 V11.5 H6 A5.5 5.5 0 0 1 6 0.5 Z" fill="#cdb9b6"/><path d="M13 0.6 H19.5 A5.4 5.4 0 0 1 19.5 11.4 H13" stroke="#cdb9b6" stroke-width="1.1" fill="none"/><rect x="5.2" y="2.3" width="1.3" height="3.2" fill="#56292d"/><rect x="4.4" y="3" width="2.9" height="1.1" fill="#56292d"/><circle cx="5" cy="8.3" r="1.2" fill="#56292d"/><circle cx="8.3" cy="8.3" r="1.2" fill="#56292d"/><circle cx="16.5" cy="4" r="1.6" fill="#cdb9b6"/><rect x="14.6" y="6.3" width="3.8" height="3.6" rx="1.2" fill="#cdb9b6"/></svg>
<svg style="left:797.5px;top:124.0px" width="14" height="14" viewBox="0 0 14 14"><path d="M4 0.8 L5.6 0.8 Q7 2 8.4 0.8 L10 0.8 L13.6 2.8 L13 6 L11 6 L11 13.4 L3 13.4 L3 6 L1 6 L0.4 2.8 Z" fill="#eceef2"/><path d="M5.6 4.5 H8.4 V8.2 H5.6 Z" fill="#6a7fa4" opacity="0.55"/></svg>
<svg style="left:813.5px;top:127.2px" width="7.5" height="7.5" viewBox="0 0 8 8"><path d="M1.1 6.8 A3.9 3.9 0 1 1 6.9 6.8 Z" fill="#a38e92"/><circle cx="4" cy="3.3" r="1.45" fill="#572d32"/><path d="M2.1 7 Q2.2 5.2 4 5.2 Q5.8 5.2 5.9 7 Z" fill="#572d32"/></svg>
<div class="t" style="left:826.5px;top:126.3px;font-size:9.6px;color:#eadada;transform:scaleX(0.965);transform-origin:left;">Radu Drăgușin</div>
<svg style="left:906.0px;top:128.5px" width="8" height="6" viewBox="0 0 8 6"><path d="M1 1 L4 4 L7 1" stroke="#f1eeee" stroke-width="1.6" fill="none"/></svg>
<div class="abs" style="left:921px;top:123.5px;width:20px;height:15px;background:#e06060;border-radius:2px;"></div>
<div class="t" style="left:781.0px;width:300px;text-align:center;top:127.9px;font-size:7.5px;color:#fbe0e0;">Int</div>
<svg style="left:949.0px;top:125.0px" width="12" height="12" viewBox="0 0 12 12"><path d="M6 11.6 L1.3 6.9 Q-0.1 5.3 0.4 3.2 Q1.1 0.6 3.4 0.5 Q5 0.5 6 2.1 Q7 0.5 8.6 0.5 Q10.9 0.6 11.6 3.2 Q12.1 5.3 10.7 6.9 Z" fill="#2ee872" stroke="#1c4a2c" stroke-width="0.5"/><path d="M3.9 4.6 L6 6.6 L8.1 4.6" stroke="#1fae58" stroke-width="0.8" fill="none" opacity="0.8"/></svg>
<svg style="left:972.0px;top:125.7px" width="11" height="11" viewBox="0 0 11 11"><rect x="0" y="0" width="11" height="11" rx="2" fill="#f08a4a"/><g transform="rotate(180 5.5 5.5)"><path d="M1.6 4.6 H3.4 V9.6 H1.6 Z M4.1 4.6 L5.7 1.2 Q7.3 1.1 7 3 L6.8 4 H9 Q10 4.2 9.7 5.3 L9 8.7 Q8.7 9.6 7.8 9.6 H4.1 Z" fill="#4a1414" transform="translate(0.2 0.2) scale(0.96)"/></g></svg>
<svg style="left:989.0px;top:125.7px" width="11" height="11" viewBox="0 0 11 11"><circle cx="5.5" cy="5.5" r="5.2" fill="#8fd232"/><path d="M8.2 2.6 L3 5.2 L5.3 5.8 L5.9 8.2 Z" fill="#17301a"/></svg>
<div class="t" style="left:1010.7px;top:126.3px;font-size:9.5px;color:#eadfe0;">D (RC)</div>
<div class="abs" style="left:1115.0px;top:127px;width:5px;height:10px;background:#6fd070;"></div>
<div class="abs" style="left:1121.6px;top:127px;width:5px;height:10px;background:#a6c060;"></div>
<div class="abs" style="left:1128.2px;top:126px;width:5px;height:11px;background:#4cd870;"></div>
<div class="abs" style="left:1134.8px;top:127px;width:5px;height:10px;background:#a6c060;"></div>
<div class="abs" style="left:1141.4px;top:127px;width:5px;height:10px;background:#a6c060;"></div>
<div class="abs" style="left:1151px;top:125.3px;width:28px;height:11.5px;background:#5cbf1e;border-radius:6px;"></div>
<div class="t" style="left:1015.0px;width:300px;text-align:center;top:126.8px;font-size:8.5px;color:#245a10;font-weight:700;">7.06</div>
<div class="t" style="left:1047.5px;width:300px;text-align:center;top:126.1px;font-size:10px;color:#efe4e5;">7</div>
<div class="abs" style="left:1224px;top:125.3px;width:28px;height:11.5px;background:#5cbf1e;border-radius:6px;"></div>
<div class="t" style="left:1088.0px;width:300px;text-align:center;top:126.8px;font-size:8.5px;color:#245a10;font-weight:700;">7.16</div>
<div class="abs" style="left:609px;top:145px;width:650.5px;height:28px;background:#572d32;"></div>
<div class="abs" style="left:609px;top:145px;width:12px;height:28px;background:#4c2629;"></div>
<div class="abs" style="left:1259.5px;top:145px;width:0px;height:28px;background:#572d32;"></div>
<div class="abs" style="left:621px;top:145px;width:638.5px;height:28px;background:rgba(255,255,255,0.012);"></div>
<div class="abs" style="left:621px;top:145px;width:31px;height:28px;background:#3d5170;"></div>
<div class="abs" style="left:652px;top:145px;width:48px;height:28px;background:#3b4e6b;"></div>
<div class="abs" style="left:700px;top:145px;width:60px;height:28px;background:#46465a;"></div>
<div class="t" style="left:486.5px;width:300px;text-align:center;top:154.8px;font-size:8.5px;color:#d6d4da;">DCL</div>
<div class="t" style="left:655.7px;top:149.1px;font-size:9px;color:#f4f2f4;font-weight:700;">BPD</div>
<div class="t" style="left:655.7px;top:160.3px;font-size:8.6px;color:#d9504a;">Defend</div>
<svg style="left:688.5px;top:156.5px" width="8" height="6" viewBox="0 0 8 6"><path d="M1 1 L4 4 L7 1" stroke="#f1eeee" stroke-width="1.6" fill="none"/></svg>
<svg style="left:704.0px;top:154.0px" width="52" height="10" viewBox="0 0 52 10"><defs><clipPath id="hc159"><rect x="0" y="0" width="4.6" height="10"/></clipPath></defs><path transform="translate(0.0 0)" d="M5 0.4 L6.35 3.4 L9.6 3.7 L7.15 5.85 L7.9 9.1 L5 7.4 L2.1 9.1 L2.85 5.85 L0.4 3.7 L3.65 3.4 Z" fill="#8a7a80" opacity="0.35"/><path transform="translate(0.0 0)" d="M5 0.4 L6.35 3.4 L9.6 3.7 L7.15 5.85 L7.9 9.1 L5 7.4 L2.1 9.1 L2.85 5.85 L0.4 3.7 L3.65 3.4 Z" fill="#f6c51c"/><path transform="translate(10.2 0)" d="M5 0.4 L6.35 3.4 L9.6 3.7 L7.15 5.85 L7.9 9.1 L5 7.4 L2.1 9.1 L2.85 5.85 L0.4 3.7 L3.65 3.4 Z" fill="#8a7a80" opacity="0.35"/><path transform="translate(10.2 0)" d="M5 0.4 L6.35 3.4 L9.6 3.7 L7.15 5.85 L7.9 9.1 L5 7.4 L2.1 9.1 L2.85 5.85 L0.4 3.7 L3.65 3.4 Z" fill="#f6c51c"/><path transform="translate(20.4 0)" d="M5 0.4 L6.35 3.4 L9.6 3.7 L7.15 5.85 L7.9 9.1 L5 7.4 L2.1 9.1 L2.85 5.85 L0.4 3.7 L3.65 3.4 Z" fill="#8a7a80" opacity="0.35"/><path transform="translate(20.4 0)" d="M5 0.4 L6.35 3.4 L9.6 3.7 L7.15 5.85 L7.9 9.1 L5 7.4 L2.1 9.1 L2.85 5.85 L0.4 3.7 L3.65 3.4 Z" fill="#f6c51c"/><path transform="translate(30.6 0)" d="M5 0.4 L6.35 3.4 L9.6 3.7 L7.15 5.85 L7.9 9.1 L5 7.4 L2.1 9.1 L2.85 5.85 L0.4 3.7 L3.65 3.4 Z" fill="#8a7a80" opacity="0.35"/><path transform="translate(30.6 0)" d="M5 0.4 L6.35 3.4 L9.6 3.7 L7.15 5.85 L7.9 9.1 L5 7.4 L2.1 9.1 L2.85 5.85 L0.4 3.7 L3.65 3.4 Z" fill="#f6c51c"/><path transform="translate(40.8 0)" d="M5 0.4 L6.35 3.4 L9.6 3.7 L7.15 5.85 L7.9 9.1 L5 7.4 L2.1 9.1 L2.85 5.85 L0.4 3.7 L3.65 3.4 Z" fill="#8a7a80" opacity="0.35"/></svg>
<svg style="left:765.0px;top:153.0px" width="26" height="12" viewBox="0 0 26 12"><path d="M6 0.5 H13 V11.5 H6 A5.5 5.5 0 0 1 6 0.5 Z" fill="#cdb9b6"/><path d="M13 0.6 H19.5 A5.4 5.4 0 0 1 19.5 11.4 H13" stroke="#cdb9b6" stroke-width="1.1" fill="none"/><rect x="5.2" y="2.3" width="1.3" height="3.2" fill="#56292d"/><rect x="4.4" y="3" width="2.9" height="1.1" fill="#56292d"/><circle cx="5" cy="8.3" r="1.2" fill="#56292d"/><circle cx="8.3" cy="8.3" r="1.2" fill="#56292d"/><circle cx="16.5" cy="4" r="1.6" fill="#cdb9b6"/><rect x="14.6" y="6.3" width="3.8" height="3.6" rx="1.2" fill="#cdb9b6"/></svg>
<svg style="left:797.5px;top:152.0px" width="14" height="14" viewBox="0 0 14 14"><path d="M4 0.8 L5.6 0.8 Q7 2 8.4 0.8 L10 0.8 L13.6 2.8 L13 6 L11 6 L11 13.4 L3 13.4 L3 6 L1 6 L0.4 2.8 Z" fill="#eceef2"/><path d="M5.6 4.5 H8.4 V8.2 H5.6 Z" fill="#6a7fa4" opacity="0.55"/></svg>
<svg style="left:813.5px;top:155.2px" width="7.5" height="7.5" viewBox="0 0 8 8"><path d="M1.1 6.8 A3.9 3.9 0 1 1 6.9 6.8 Z" fill="#a38e92"/><circle cx="4" cy="3.3" r="1.45" fill="#572d32"/><path d="M2.1 7 Q2.2 5.2 4 5.2 Q5.8 5.2 5.9 7 Z" fill="#572d32"/></svg>
<div class="t" style="left:826.5px;top:154.3px;font-size:9.6px;color:#eadada;transform:scaleX(0.965);transform-origin:left;">Cristian Romero</div>
<svg style="left:906.0px;top:156.5px" width="8" height="6" viewBox="0 0 8 6"><path d="M1 1 L4 4 L7 1" stroke="#f1eeee" stroke-width="1.6" fill="none"/></svg>
<div class="abs" style="left:921px;top:151.5px;width:20px;height:15px;background:#e06060;border-radius:2px;"></div>
<div class="t" style="left:781.0px;width:300px;text-align:center;top:155.9px;font-size:7.5px;color:#fbe0e0;">Vac</div>
<svg style="left:949.0px;top:153.0px" width="12" height="12" viewBox="0 0 12 12"><path d="M6 11.6 L1.3 6.9 Q-0.1 5.3 0.4 3.2 Q1.1 0.6 3.4 0.5 Q5 0.5 6 2.1 Q7 0.5 8.6 0.5 Q10.9 0.6 11.6 3.2 Q12.1 5.3 10.7 6.9 Z" fill="#2ee872" stroke="#1c4a2c" stroke-width="0.5"/><path d="M3.9 4.6 L6 6.6 L8.1 4.6" stroke="#1fae58" stroke-width="0.8" fill="none" opacity="0.8"/></svg>
<svg style="left:972.0px;top:153.7px" width="11" height="11" viewBox="0 0 11 11"><rect x="0" y="0" width="11" height="11" rx="2" fill="#33e07a"/><path d="M1.6 4.6 H3.4 V9.6 H1.6 Z M4.1 4.6 L5.7 1.2 Q7.3 1.1 7 3 L6.8 4 H9 Q10 4.2 9.7 5.3 L9 8.7 Q8.7 9.6 7.8 9.6 H4.1 Z" fill="#173a22" transform="translate(0.2 0.2) scale(0.96)"/></svg>
<svg style="left:989.0px;top:153.7px" width="11" height="11" viewBox="0 0 11 11"><circle cx="5.5" cy="5.5" r="5.2" fill="#8fd232"/><path d="M8.2 2.6 L3 5.2 L5.3 5.8 L5.9 8.2 Z" fill="#17301a"/></svg>
<div class="t" style="left:1010.7px;top:154.3px;font-size:9.5px;color:#eadfe0;">D (C)</div>
<div class="abs" style="left:1115.0px;top:156px;width:5px;height:9px;background:#c8c070;"></div>
<div class="abs" style="left:1121.6px;top:156px;width:5px;height:9px;background:#c8c070;"></div>
<div class="abs" style="left:1128.2px;top:155px;width:5px;height:10px;background:#a6c060;"></div>
<div class="abs" style="left:1134.8px;top:155px;width:5px;height:10px;background:#a6c060;"></div>
<div class="abs" style="left:1141.4px;top:154px;width:5px;height:11px;background:#4cd870;"></div>
<div class="abs" style="left:1151px;top:153.3px;width:28px;height:11.5px;background:#2b2628;border-radius:6px;"></div>
<div class="t" style="left:1015.0px;width:300px;text-align:center;top:154.8px;font-size:8.5px;color:#a9a3a9;font-weight:700;">6.92</div>
<div class="t" style="left:1047.5px;width:300px;text-align:center;top:154.1px;font-size:10px;color:#efe4e5;">8</div>
<div class="abs" style="left:1224px;top:153.3px;width:28px;height:11.5px;background:#5cbf1e;border-radius:6px;"></div>
<div class="t" style="left:1088.0px;width:300px;text-align:center;top:154.8px;font-size:8.5px;color:#245a10;font-weight:700;">7.02</div>
<div class="abs" style="left:609px;top:173px;width:650.5px;height:28px;background:#572d32;"></div>
<div class="abs" style="left:609px;top:173px;width:12px;height:28px;background:#4c2629;"></div>
<div class="abs" style="left:1259.5px;top:173px;width:0px;height:28px;background:#572d32;"></div>
<div class="abs" style="left:621px;top:173px;width:31px;height:28px;background:#3d5170;"></div>
<div class="abs" style="left:652px;top:173px;width:48px;height:28px;background:#3b4e6b;"></div>
<div class="abs" style="left:700px;top:173px;width:60px;height:28px;background:#46465a;"></div>
<div class="t" style="left:486.5px;width:300px;text-align:center;top:182.8px;font-size:8.5px;color:#d6d4da;">DL</div>
<div class="t" style="left:655.7px;top:177.1px;font-size:9px;color:#f4f2f4;font-weight:700;">FB</div>
<div class="t" style="left:655.7px;top:188.3px;font-size:8.6px;color:#4cc253;">Attack</div>
<svg style="left:688.5px;top:184.5px" width="8" height="6" viewBox="0 0 8 6"><path d="M1 1 L4 4 L7 1" stroke="#f1eeee" stroke-width="1.6" fill="none"/></svg>
<svg style="left:704.0px;top:182.0px" width="52" height="10" viewBox="0 0 52 10"><defs><clipPath id="hc187"><rect x="0" y="0" width="4.6" height="10"/></clipPath></defs><path transform="translate(0.0 0)" d="M5 0.4 L6.35 3.4 L9.6 3.7 L7.15 5.85 L7.9 9.1 L5 7.4 L2.1 9.1 L2.85 5.85 L0.4 3.7 L3.65 3.4 Z" fill="#8a7a80" opacity="0.35"/><path transform="translate(0.0 0)" d="M5 0.4 L6.35 3.4 L9.6 3.7 L7.15 5.85 L7.9 9.1 L5 7.4 L2.1 9.1 L2.85 5.85 L0.4 3.7 L3.65 3.4 Z" fill="#f6c51c"/><path transform="translate(10.2 0)" d="M5 0.4 L6.35 3.4 L9.6 3.7 L7.15 5.85 L7.9 9.1 L5 7.4 L2.1 9.1 L2.85 5.85 L0.4 3.7 L3.65 3.4 Z" fill="#8a7a80" opacity="0.35"/><path transform="translate(10.2 0)" d="M5 0.4 L6.35 3.4 L9.6 3.7 L7.15 5.85 L7.9 9.1 L5 7.4 L2.1 9.1 L2.85 5.85 L0.4 3.7 L3.65 3.4 Z" fill="#f6c51c"/><path transform="translate(20.4 0)" d="M5 0.4 L6.35 3.4 L9.6 3.7 L7.15 5.85 L7.9 9.1 L5 7.4 L2.1 9.1 L2.85 5.85 L0.4 3.7 L3.65 3.4 Z" fill="#8a7a80" opacity="0.35"/><g transform="translate(20.4 0)"><path d="M5 0.4 L6.35 3.4 L9.6 3.7 L7.15 5.85 L7.9 9.1 L5 7.4 L2.1 9.1 L2.85 5.85 L0.4 3.7 L3.65 3.4 Z" fill="#f6c51c" clip-path="url(#hc187)"/></g><path transform="translate(30.6 0)" d="M5 0.4 L6.35 3.4 L9.6 3.7 L7.15 5.85 L7.9 9.1 L5 7.4 L2.1 9.1 L2.85 5.85 L0.4 3.7 L3.65 3.4 Z" fill="#8a7a80" opacity="0.35"/><path transform="translate(40.8 0)" d="M5 0.4 L6.35 3.4 L9.6 3.7 L7.15 5.85 L7.9 9.1 L5 7.4 L2.1 9.1 L2.85 5.85 L0.4 3.7 L3.65 3.4 Z" fill="#8a7a80" opacity="0.35"/></svg>
<svg style="left:765.0px;top:181.0px" width="26" height="12" viewBox="0 0 26 12"><path d="M6 0.5 H13 V11.5 H6 A5.5 5.5 0 0 1 6 0.5 Z" fill="#cdb9b6"/><path d="M13 0.6 H19.5 A5.4 5.4 0 0 1 19.5 11.4 H13" stroke="#cdb9b6" stroke-width="1.1" fill="none"/><rect x="5.2" y="2.3" width="1.3" height="3.2" fill="#56292d"/><rect x="4.4" y="3" width="2.9" height="1.1" fill="#56292d"/><circle cx="5" cy="8.3" r="1.2" fill="#56292d"/><circle cx="8.3" cy="8.3" r="1.2" fill="#56292d"/><circle cx="16.5" cy="4" r="1.6" fill="#cdb9b6"/><rect x="14.6" y="6.3" width="3.8" height="3.6" rx="1.2" fill="#cdb9b6"/></svg>
<svg style="left:797.5px;top:180.0px" width="14" height="14" viewBox="0 0 14 14"><path d="M4 0.8 L5.6 0.8 Q7 2 8.4 0.8 L10 0.8 L13.6 2.8 L13 6 L11 6 L11 13.4 L3 13.4 L3 6 L1 6 L0.4 2.8 Z" fill="#eceef2"/><path d="M5.6 4.5 H8.4 V8.2 H5.6 Z" fill="#6a7fa4" opacity="0.55"/></svg>
<svg style="left:813.5px;top:183.2px" width="7.5" height="7.5" viewBox="0 0 8 8"><path d="M1.1 6.8 A3.9 3.9 0 1 1 6.9 6.8 Z" fill="#a38e92"/><circle cx="4" cy="3.3" r="1.45" fill="#572d32"/><path d="M2.1 7 Q2.2 5.2 4 5.2 Q5.8 5.2 5.9 7 Z" fill="#572d32"/></svg>
<div class="t" style="left:826.5px;top:182.3px;font-size:9.6px;color:#eadada;transform:scaleX(0.965);transform-origin:left;">M. van de Ven</div>
<svg style="left:906.0px;top:184.5px" width="8" height="6" viewBox="0 0 8 6"><path d="M1 1 L4 4 L7 1" stroke="#f1eeee" stroke-width="1.6" fill="none"/></svg>
<div class="abs" style="left:921px;top:179.5px;width:20px;height:15px;background:#e06060;border-radius:2px;"></div>
<div class="t" style="left:781.0px;width:300px;text-align:center;top:183.9px;font-size:7.5px;color:#fbe0e0;">Int</div>
<svg style="left:949.0px;top:181.0px" width="12" height="12" viewBox="0 0 12 12"><path d="M6 11.6 L1.3 6.9 Q-0.1 5.3 0.4 3.2 Q1.1 0.6 3.4 0.5 Q5 0.5 6 2.1 Q7 0.5 8.6 0.5 Q10.9 0.6 11.6 3.2 Q12.1 5.3 10.7 6.9 Z" fill="#2ee872" stroke="#1c4a2c" stroke-width="0.5"/><path d="M3.9 4.6 L6 6.6 L8.1 4.6" stroke="#1fae58" stroke-width="0.8" fill="none" opacity="0.8"/></svg>
<svg style="left:972.0px;top:181.7px" width="11" height="11" viewBox="0 0 11 11"><rect x="0" y="0" width="11" height="11" rx="2" fill="#33e07a"/><path d="M1.6 4.6 H3.4 V9.6 H1.6 Z M4.1 4.6 L5.7 1.2 Q7.3 1.1 7 3 L6.8 4 H9 Q10 4.2 9.7 5.3 L9 8.7 Q8.7 9.6 7.8 9.6 H4.1 Z" fill="#173a22" transform="translate(0.2 0.2) scale(0.96)"/></svg>
<svg style="left:989.0px;top:181.7px" width="11" height="11" viewBox="0 0 11 11"><circle cx="5.5" cy="5.5" r="5.2" fill="#8fd232"/><path d="M8.2 2.6 L3 5.2 L5.3 5.8 L5.9 8.2 Z" fill="#17301a"/></svg>
<div class="t" style="left:1010.7px;top:182.3px;font-size:9.5px;color:#eadfe0;">D (LC), WB (L)</div>
<div class="abs" style="left:1115.0px;top:184px;width:5px;height:9px;background:#b8c068;"></div>
<div class="abs" style="left:1121.6px;top:183px;width:5px;height:10px;background:#a6c060;"></div>
<div class="abs" style="left:1128.2px;top:183px;width:5px;height:10px;background:#a6c060;"></div>
<div class="abs" style="left:1134.8px;top:183px;width:5px;height:10px;background:#a6c060;"></div>
<div class="abs" style="left:1141.4px;top:184px;width:5px;height:9px;background:#b8c068;"></div>
<div class="abs" style="left:1151px;top:181.3px;width:28px;height:11.5px;background:#2b2628;border-radius:6px;"></div>
<div class="t" style="left:1015.0px;width:300px;text-align:center;top:182.8px;font-size:8.5px;color:#a9a3a9;font-weight:700;">6.84</div>
<div class="t" style="left:1047.5px;width:300px;text-align:center;top:182.1px;font-size:10px;color:#efe4e5;">1</div>
<div class="abs" style="left:1224px;top:181.3px;width:28px;height:11.5px;background:#5cbf1e;border-radius:6px;"></div>
<div class="t" style="left:1088.0px;width:300px;text-align:center;top:182.8px;font-size:8.5px;color:#245a10;font-weight:700;">7.02</div>
<div class="abs" style="left:609px;top:201px;width:650.5px;height:28px;background:#572d32;"></div>
<div class="abs" style="left:609px;top:201px;width:12px;height:28px;background:#4c2629;"></div>
<div class="abs" style="left:1259.5px;top:201px;width:0px;height:28px;background:#572d32;"></div>
<div class="abs" style="left:621px;top:201px;width:638.5px;height:28px;background:rgba(255,255,255,0.012);"></div>
<div class="abs" style="left:621px;top:201px;width:31px;height:28px;background:#6a6975;"></div>
<div class="abs" style="left:652px;top:201px;width:48px;height:28px;background:#5f5e6a;"></div>
<div class="abs" style="left:700px;top:201px;width:60px;height:28px;background:#544a51;"></div>
<div class="t" style="left:486.5px;width:300px;text-align:center;top:210.8px;font-size:8.5px;color:#d6d4da;">DMCR</div>
<div class="t" style="left:655.7px;top:205.1px;font-size:9px;color:#f4f2f4;font-weight:700;">DM</div>
<div class="t" style="left:655.7px;top:216.3px;font-size:8.6px;color:#7aa6e8;">Su</div>
<svg style="left:688.5px;top:212.5px" width="8" height="6" viewBox="0 0 8 6"><path d="M1 1 L4 4 L7 1" stroke="#f1eeee" stroke-width="1.6" fill="none"/></svg>
<svg style="left:704.0px;top:210.0px" width="52" height="10" viewBox="0 0 52 10"><defs><clipPath id="hc215"><rect x="0" y="0" width="4.6" height="10"/></clipPath></defs><path transform="translate(0.0 0)" d="M5 0.4 L6.35 3.4 L9.6 3.7 L7.15 5.85 L7.9 9.1 L5 7.4 L2.1 9.1 L2.85 5.85 L0.4 3.7 L3.65 3.4 Z" fill="#8a7a80" opacity="0.35"/><path transform="translate(0.0 0)" d="M5 0.4 L6.35 3.4 L9.6 3.7 L7.15 5.85 L7.9 9.1 L5 7.4 L2.1 9.1 L2.85 5.85 L0.4 3.7 L3.65 3.4 Z" fill="#f6c51c"/><path transform="translate(10.2 0)" d="M5 0.4 L6.35 3.4 L9.6 3.7 L7.15 5.85 L7.9 9.1 L5 7.4 L2.1 9.1 L2.85 5.85 L0.4 3.7 L3.65 3.4 Z" fill="#8a7a80" opacity="0.35"/><path transform="translate(10.2 0)" d="M5 0.4 L6.35 3.4 L9.6 3.7 L7.15 5.85 L7.9 9.1 L5 7.4 L2.1 9.1 L2.85 5.85 L0.4 3.7 L3.65 3.4 Z" fill="#f6c51c"/><path transform="translate(20.4 0)" d="M5 0.4 L6.35 3.4 L9.6 3.7 L7.15 5.85 L7.9 9.1 L5 7.4 L2.1 9.1 L2.85 5.85 L0.4 3.7 L3.65 3.4 Z" fill="#8a7a80" opacity="0.35"/><path transform="translate(20.4 0)" d="M5 0.4 L6.35 3.4 L9.6 3.7 L7.15 5.85 L7.9 9.1 L5 7.4 L2.1 9.1 L2.85 5.85 L0.4 3.7 L3.65 3.4 Z" fill="#f6c51c"/><path transform="translate(30.6 0)" d="M5 0.4 L6.35 3.4 L9.6 3.7 L7.15 5.85 L7.9 9.1 L5 7.4 L2.1 9.1 L2.85 5.85 L0.4 3.7 L3.65 3.4 Z" fill="#8a7a80" opacity="0.35"/><path transform="translate(40.8 0)" d="M5 0.4 L6.35 3.4 L9.6 3.7 L7.15 5.85 L7.9 9.1 L5 7.4 L2.1 9.1 L2.85 5.85 L0.4 3.7 L3.65 3.4 Z" fill="#8a7a80" opacity="0.35"/></svg>
<svg style="left:765.0px;top:209.0px" width="26" height="12" viewBox="0 0 26 12"><path d="M6 0.5 H13 V11.5 H6 A5.5 5.5 0 0 1 6 0.5 Z" fill="#cdb9b6"/><path d="M13 0.6 H19.5 A5.4 5.4 0 0 1 19.5 11.4 H13" stroke="#cdb9b6" stroke-width="1.1" fill="none"/><rect x="5.2" y="2.3" width="1.3" height="3.2" fill="#56292d"/><rect x="4.4" y="3" width="2.9" height="1.1" fill="#56292d"/><circle cx="5" cy="8.3" r="1.2" fill="#56292d"/><circle cx="8.3" cy="8.3" r="1.2" fill="#56292d"/><circle cx="16.5" cy="4" r="1.6" fill="#cdb9b6"/><rect x="14.6" y="6.3" width="3.8" height="3.6" rx="1.2" fill="#cdb9b6"/></svg>
<svg style="left:797.5px;top:208.0px" width="14" height="14" viewBox="0 0 14 14"><path d="M4 0.8 L5.6 0.8 Q7 2 8.4 0.8 L10 0.8 L13.6 2.8 L13 6 L11 6 L11 13.4 L3 13.4 L3 6 L1 6 L0.4 2.8 Z" fill="#eceef2"/><path d="M5.6 4.5 H8.4 V8.2 H5.6 Z" fill="#6a7fa4" opacity="0.55"/></svg>
<svg style="left:813.5px;top:211.2px" width="7.5" height="7.5" viewBox="0 0 8 8"><path d="M1.1 6.8 A3.9 3.9 0 1 1 6.9 6.8 Z" fill="#a38e92"/><circle cx="4" cy="3.3" r="1.45" fill="#572d32"/><path d="M2.1 7 Q2.2 5.2 4 5.2 Q5.8 5.2 5.9 7 Z" fill="#572d32"/></svg>
<div class="t" style="left:826.5px;top:210.3px;font-size:9.6px;color:#eadada;transform:scaleX(0.965);transform-origin:left;">Pape Matar Sarr</div>
<svg style="left:906.0px;top:212.5px" width="8" height="6" viewBox="0 0 8 6"><path d="M1 1 L4 4 L7 1" stroke="#f1eeee" stroke-width="1.6" fill="none"/></svg>
<div class="abs" style="left:921px;top:207.5px;width:20px;height:15px;background:#e06060;border-radius:2px;"></div>
<div class="t" style="left:781.0px;width:300px;text-align:center;top:211.9px;font-size:7.5px;color:#fbe0e0;">Vac</div>
<svg style="left:949.0px;top:209.0px" width="12" height="12" viewBox="0 0 12 12"><path d="M6 11.6 L1.3 6.9 Q-0.1 5.3 0.4 3.2 Q1.1 0.6 3.4 0.5 Q5 0.5 6 2.1 Q7 0.5 8.6 0.5 Q10.9 0.6 11.6 3.2 Q12.1 5.3 10.7 6.9 Z" fill="#2ee872" stroke="#1c4a2c" stroke-width="0.5"/><path d="M3.9 4.6 L6 6.6 L8.1 4.6" stroke="#1fae58" stroke-width="0.8" fill="none" opacity="0.8"/></svg>
<svg style="left:972.0px;top:209.7px" width="11" height="11" viewBox="0 0 11 11"><rect x="0" y="0" width="11" height="11" rx="2" fill="#33e07a"/><path d="M2.4 3.8 L5.5 7 L8.6 3.8" stroke="#2a3a10" stroke-width="1.5" fill="none"/></svg>
<svg style="left:989.0px;top:209.7px" width="11" height="11" viewBox="0 0 11 11"><circle cx="5.5" cy="5.5" r="5.2" fill="#8fd232"/><path d="M8.2 2.6 L3 5.2 L5.3 5.8 L5.9 8.2 Z" fill="#17301a"/></svg>
<div class="t" style="left:1010.7px;top:210.3px;font-size:9.5px;color:#eadfe0;">DM, M (C)</div>
<div class="abs" style="left:1115.0px;top:212px;width:5px;height:9px;background:#b8c068;"></div>
<div class="abs" style="left:1121.6px;top:211px;width:5px;height:10px;background:#a6c060;"></div>
<div class="abs" style="left:1128.2px;top:211px;width:5px;height:10px;background:#a6c060;"></div>
<div class="abs" style="left:1134.8px;top:211px;width:5px;height:10px;background:#a6c060;"></div>
<div class="abs" style="left:1141.4px;top:211px;width:5px;height:10px;background:#a6c060;"></div>
<div class="abs" style="left:1151px;top:209.3px;width:28px;height:11.5px;background:#2b2628;border-radius:6px;"></div>
<div class="t" style="left:1015.0px;width:300px;text-align:center;top:210.8px;font-size:8.5px;color:#a9a3a9;font-weight:700;">6.80</div>
<div class="t" style="left:1047.5px;width:300px;text-align:center;top:210.1px;font-size:10px;color:#efe4e5;">7</div>
<div class="abs" style="left:1224px;top:209.3px;width:28px;height:11.5px;background:#5cbf1e;border-radius:6px;"></div>
<div class="t" style="left:1088.0px;width:300px;text-align:center;top:210.8px;font-size:8.5px;color:#245a10;font-weight:700;">7.12</div>
<div class="abs" style="left:609px;top:229px;width:650.5px;height:28px;background:#572d32;"></div>
<div class="abs" style="left:609px;top:229px;width:12px;height:28px;background:#4c2629;"></div>
<div class="abs" style="left:1259.5px;top:229px;width:0px;height:28px;background:#572d32;"></div>
<div class="abs" style="left:621px;top:229px;width:31px;height:28px;background:#6a6975;"></div>
<div class="abs" style="left:652px;top:229px;width:48px;height:28px;background:#5f5e6a;"></div>
<div class="abs" style="left:700px;top:229px;width:60px;height:28px;background:#544a51;"></div>
<div class="t" style="left:486.5px;width:300px;text-align:center;top:238.8px;font-size:8.5px;color:#d6d4da;">DMCL</div>
<div class="t" style="left:655.7px;top:233.1px;font-size:9px;color:#f4f2f4;font-weight:700;">DM</div>
<div class="t" style="left:655.7px;top:244.3px;font-size:8.6px;color:#7aa6e8;">Su</div>
<svg style="left:688.5px;top:240.5px" width="8" height="6" viewBox="0 0 8 6"><path d="M1 1 L4 4 L7 1" stroke="#f1eeee" stroke-width="1.6" fill="none"/></svg>
<svg style="left:704.0px;top:238.0px" width="52" height="10" viewBox="0 0 52 10"><defs><clipPath id="hc243"><rect x="0" y="0" width="4.6" height="10"/></clipPath></defs><path transform="translate(0.0 0)" d="M5 0.4 L6.35 3.4 L9.6 3.7 L7.15 5.85 L7.9 9.1 L5 7.4 L2.1 9.1 L2.85 5.85 L0.4 3.7 L3.65 3.4 Z" fill="#8a7a80" opacity="0.35"/><path transform="translate(0.0 0)" d="M5 0.4 L6.35 3.4 L9.6 3.7 L7.15 5.85 L7.9 9.1 L5 7.4 L2.1 9.1 L2.85 5.85 L0.4 3.7 L3.65 3.4 Z" fill="#f6c51c"/><path transform="translate(10.2 0)" d="M5 0.4 L6.35 3.4 L9.6 3.7 L7.15 5.85 L7.9 9.1 L5 7.4 L2.1 9.1 L2.85 5.85 L0.4 3.7 L3.65 3.4 Z" fill="#8a7a80" opacity="0.35"/><path transform="translate(10.2 0)" d="M5 0.4 L6.35 3.4 L9.6 3.7 L7.15 5.85 L7.9 9.1 L5 7.4 L2.1 9.1 L2.85 5.85 L0.4 3.7 L3.65 3.4 Z" fill="#f6c51c"/><path transform="translate(20.4 0)" d="M5 0.4 L6.35 3.4 L9.6 3.7 L7.15 5.85 L7.9 9.1 L5 7.4 L2.1 9.1 L2.85 5.85 L0.4 3.7 L3.65 3.4 Z" fill="#8a7a80" opacity="0.35"/><path transform="translate(20.4 0)" d="M5 0.4 L6.35 3.4 L9.6 3.7 L7.15 5.85 L7.9 9.1 L5 7.4 L2.1 9.1 L2.85 5.85 L0.4 3.7 L3.65 3.4 Z" fill="#f6c51c"/><path transform="translate(30.6 0)" d="M5 0.4 L6.35 3.4 L9.6 3.7 L7.15 5.85 L7.9 9.1 L5 7.4 L2.1 9.1 L2.85 5.85 L0.4 3.7 L3.65 3.4 Z" fill="#8a7a80" opacity="0.35"/><path transform="translate(40.8 0)" d="M5 0.4 L6.35 3.4 L9.6 3.7 L7.15 5.85 L7.9 9.1 L5 7.4 L2.1 9.1 L2.85 5.85 L0.4 3.7 L3.65 3.4 Z" fill="#8a7a80" opacity="0.35"/></svg>
<svg style="left:765.0px;top:237.0px" width="26" height="12" viewBox="0 0 26 12"><path d="M6 0.5 H13 V11.5 H6 A5.5 5.5 0 0 1 6 0.5 Z" fill="#cdb9b6"/><path d="M13 0.6 H19.5 A5.4 5.4 0 0 1 19.5 11.4 H13" stroke="#cdb9b6" stroke-width="1.1" fill="none"/><rect x="5.2" y="2.3" width="1.3" height="3.2" fill="#56292d"/><rect x="4.4" y="3" width="2.9" height="1.1" fill="#56292d"/><circle cx="5" cy="8.3" r="1.2" fill="#56292d"/><circle cx="8.3" cy="8.3" r="1.2" fill="#56292d"/><circle cx="16.5" cy="4" r="1.6" fill="#cdb9b6"/><rect x="14.6" y="6.3" width="3.8" height="3.6" rx="1.2" fill="#cdb9b6"/></svg>
<svg style="left:797.5px;top:236.0px" width="14" height="14" viewBox="0 0 14 14"><path d="M4 0.8 L5.6 0.8 Q7 2 8.4 0.8 L10 0.8 L13.6 2.8 L13 6 L11 6 L11 13.4 L3 13.4 L3 6 L1 6 L0.4 2.8 Z" fill="#eceef2"/><path d="M5.6 4.5 H8.4 V8.2 H5.6 Z" fill="#6a7fa4" opacity="0.55"/></svg>
<svg style="left:813.5px;top:239.2px" width="7.5" height="7.5" viewBox="0 0 8 8"><path d="M1.1 6.8 A3.9 3.9 0 1 1 6.9 6.8 Z" fill="#a38e92"/><circle cx="4" cy="3.3" r="1.45" fill="#572d32"/><path d="M2.1 7 Q2.2 5.2 4 5.2 Q5.8 5.2 5.9 7 Z" fill="#572d32"/></svg>
<div class="t" style="left:826.5px;top:238.3px;font-size:9.6px;color:#eadada;transform:scaleX(0.965);transform-origin:left;">Yves Bissouma</div>
<svg style="left:906.0px;top:240.5px" width="8" height="6" viewBox="0 0 8 6"><path d="M1 1 L4 4 L7 1" stroke="#f1eeee" stroke-width="1.6" fill="none"/></svg>
<div class="abs" style="left:921px;top:235.5px;width:20px;height:15px;background:#e06060;border-radius:2px;"></div>
<div class="t" style="left:781.0px;width:300px;text-align:center;top:239.9px;font-size:7.5px;color:#fbe0e0;">Vac</div>
<svg style="left:949.0px;top:237.0px" width="12" height="12" viewBox="0 0 12 12"><path d="M6 11.6 L1.3 6.9 Q-0.1 5.3 0.4 3.2 Q1.1 0.6 3.4 0.5 Q5 0.5 6 2.1 Q7 0.5 8.6 0.5 Q10.9 0.6 11.6 3.2 Q12.1 5.3 10.7 6.9 Z" fill="#2ee872" stroke="#1c4a2c" stroke-width="0.5"/><path d="M3.9 4.6 L6 6.6 L8.1 4.6" stroke="#1fae58" stroke-width="0.8" fill="none" opacity="0.8"/></svg>
<svg style="left:972.0px;top:237.7px" width="11" height="11" viewBox="0 0 11 11"><rect x="0" y="0" width="11" height="11" rx="2" fill="#33e07a"/><path d="M2.4 3.8 L5.5 7 L8.6 3.8" stroke="#2a3a10" stroke-width="1.5" fill="none"/></svg>
<svg style="left:989.0px;top:237.7px" width="11" height="11" viewBox="0 0 11 11"><circle cx="5.5" cy="5.5" r="5.2" fill="#8fd232"/><path d="M8.2 2.6 L3 5.2 L5.3 5.8 L5.9 8.2 Z" fill="#17301a"/></svg>
<div class="t" style="left:1010.7px;top:238.3px;font-size:9.5px;color:#eadfe0;">DM, M (C)</div>
<div class="abs" style="left:1115.0px;top:240px;width:5px;height:9px;background:#c8b070;"></div>
<div class="abs" style="left:1121.6px;top:240px;width:5px;height:9px;background:#b8c068;"></div>
<div class="abs" style="left:1128.2px;top:239px;width:5px;height:10px;background:#a6c060;"></div>
<div class="abs" style="left:1134.8px;top:239px;width:5px;height:10px;background:#6fd070;"></div>
<div class="abs" style="left:1141.4px;top:239px;width:5px;height:10px;background:#a6c060;"></div>
<div class="abs" style="left:1151px;top:237.3px;width:28px;height:11.5px;background:#2b2628;border-radius:6px;"></div>
<div class="t" style="left:1015.0px;width:300px;text-align:center;top:238.8px;font-size:8.5px;color:#a9a3a9;font-weight:700;">6.92</div>
<div class="t" style="left:1047.5px;width:300px;text-align:center;top:238.1px;font-size:10px;color:#efe4e5;">1</div>
<div class="abs" style="left:1224px;top:237.3px;width:28px;height:11.5px;background:#5cbf1e;border-radius:6px;"></div>
<div class="t" style="left:1088.0px;width:300px;text-align:center;top:238.8px;font-size:8.5px;color:#245a10;font-weight:700;">7.06</div>
<div class="abs" style="left:609px;top:257px;width:650.5px;height:28px;background:#572d32;"></div>
<div class="abs" style="left:609px;top:257px;width:12px;height:28px;background:#4c2629;"></div>
<div class="abs" style="left:1259.5px;top:257px;width:0px;height:28px;background:#572d32;"></div>
<div class="abs" style="left:621px;top:257px;width:638.5px;height:28px;background:rgba(255,255,255,0.012);"></div>
<div class="abs" style="left:621px;top:257px;width:31px;height:28px;background:#2a2832;"></div>
<div class="abs" style="left:652px;top:257px;width:48px;height:28px;background:#2c2a35;"></div>
<div class="abs" style="left:700px;top:257px;width:60px;height:28px;background:#3a2a31;"></div>
<div class="t" style="left:486.5px;width:300px;text-align:center;top:266.8px;font-size:8.5px;color:#d6d4da;">AMR</div>
<div class="t" style="left:655.7px;top:261.1px;font-size:9px;color:#f4f2f4;font-weight:700;">IF</div>
<div class="t" style="left:655.7px;top:272.3px;font-size:8.6px;color:#7aa6e8;">Su</div>
<svg style="left:688.5px;top:268.5px" width="8" height="6" viewBox="0 0 8 6"><path d="M1 1 L4 4 L7 1" stroke="#f1eeee" stroke-width="1.6" fill="none"/></svg>
<svg style="left:704.0px;top:266.0px" width="52" height="10" viewBox="0 0 52 10"><defs><clipPath id="hc271"><rect x="0" y="0" width="4.6" height="10"/></clipPath></defs><path transform="translate(0.0 0)" d="M5 0.4 L6.35 3.4 L9.6 3.7 L7.15 5.85 L7.9 9.1 L5 7.4 L2.1 9.1 L2.85 5.85 L0.4 3.7 L3.65 3.4 Z" fill="#8a7a80" opacity="0.35"/><path transform="translate(0.0 0)" d="M5 0.4 L6.35 3.4 L9.6 3.7 L7.15 5.85 L7.9 9.1 L5 7.4 L2.1 9.1 L2.85 5.85 L0.4 3.7 L3.65 3.4 Z" fill="#f6c51c"/><path transform="translate(10.2 0)" d="M5 0.4 L6.35 3.4 L9.6 3.7 L7.15 5.85 L7.9 9.1 L5 7.4 L2.1 9.1 L2.85 5.85 L0.4 3.7 L3.65 3.4 Z" fill="#8a7a80" opacity="0.35"/><path transform="translate(10.2 0)" d="M5 0.4 L6.35 3.4 L9.6 3.7 L7.15 5.85 L7.9 9.1 L5 7.4 L2.1 9.1 L2.85 5.85 L0.4 3.7 L3.65 3.4 Z" fill="#f6c51c"/><path transform="translate(20.4 0)" d="M5 0.4 L6.35 3.4 L9.6 3.7 L7.15 5.85 L7.9 9.1 L5 7.4 L2.1 9.1 L2.85 5.85 L0.4 3.7 L3.65 3.4 Z" fill="#8a7a80" opacity="0.35"/><g transform="translate(20.4 0)"><path d="M5 0.4 L6.35 3.4 L9.6 3.7 L7.15 5.85 L7.9 9.1 L5 7.4 L2.1 9.1 L2.85 5.85 L0.4 3.7 L3.65 3.4 Z" fill="#f6c51c" clip-path="url(#hc271)"/></g><path transform="translate(30.6 0)" d="M5 0.4 L6.35 3.4 L9.6 3.7 L7.15 5.85 L7.9 9.1 L5 7.4 L2.1 9.1 L2.85 5.85 L0.4 3.7 L3.65 3.4 Z" fill="#8a7a80" opacity="0.35"/><path transform="translate(40.8 0)" d="M5 0.4 L6.35 3.4 L9.6 3.7 L7.15 5.85 L7.9 9.1 L5 7.4 L2.1 9.1 L2.85 5.85 L0.4 3.7 L3.65 3.4 Z" fill="#8a7a80" opacity="0.35"/></svg>
<svg style="left:765.0px;top:265.0px" width="26" height="12" viewBox="0 0 26 12"><path d="M6 0.5 H13 V11.5 H6 A5.5 5.5 0 0 1 6 0.5 Z" fill="#cdb9b6"/><path d="M13 0.6 H19.5 A5.4 5.4 0 0 1 19.5 11.4 H13" stroke="#cdb9b6" stroke-width="1.1" fill="none"/><rect x="5.2" y="2.3" width="1.3" height="3.2" fill="#56292d"/><rect x="4.4" y="3" width="2.9" height="1.1" fill="#56292d"/><circle cx="5" cy="8.3" r="1.2" fill="#56292d"/><circle cx="8.3" cy="8.3" r="1.2" fill="#56292d"/><circle cx="16.5" cy="4" r="1.6" fill="#cdb9b6"/><rect x="14.6" y="6.3" width="3.8" height="3.6" rx="1.2" fill="#cdb9b6"/></svg>
<svg style="left:797.5px;top:264.0px" width="14" height="14" viewBox="0 0 14 14"><path d="M4 0.8 L5.6 0.8 Q7 2 8.4 0.8 L10 0.8 L13.6 2.8 L13 6 L11 6 L11 13.4 L3 13.4 L3 6 L1 6 L0.4 2.8 Z" fill="#eceef2"/><path d="M5.6 4.5 H8.4 V8.2 H5.6 Z" fill="#6a7fa4" opacity="0.55"/></svg>
<svg style="left:813.5px;top:267.2px" width="7.5" height="7.5" viewBox="0 0 8 8"><path d="M1.1 6.8 A3.9 3.9 0 1 1 6.9 6.8 Z" fill="#a38e92"/><circle cx="4" cy="3.3" r="1.45" fill="#572d32"/><path d="M2.1 7 Q2.2 5.2 4 5.2 Q5.8 5.2 5.9 7 Z" fill="#572d32"/></svg>
<div class="t" style="left:826.5px;top:266.3px;font-size:9.6px;color:#eadada;transform:scaleX(0.965);transform-origin:left;">B. Johnson</div>
<svg style="left:906.0px;top:268.5px" width="8" height="6" viewBox="0 0 8 6"><path d="M1 1 L4 4 L7 1" stroke="#f1eeee" stroke-width="1.6" fill="none"/></svg>
<div class="abs" style="left:921px;top:263.5px;width:20px;height:15px;background:#e06060;border-radius:2px;"></div>
<div class="t" style="left:781.0px;width:300px;text-align:center;top:267.9px;font-size:7.5px;color:#fbe0e0;">Int</div>
<svg style="left:949.0px;top:265.0px" width="12" height="12" viewBox="0 0 12 12"><path d="M6 11.6 L1.3 6.9 Q-0.1 5.3 0.4 3.2 Q1.1 0.6 3.4 0.5 Q5 0.5 6 2.1 Q7 0.5 8.6 0.5 Q10.9 0.6 11.6 3.2 Q12.1 5.3 10.7 6.9 Z" fill="#2ee872" stroke="#1c4a2c" stroke-width="0.5"/><path d="M3.9 4.6 L6 6.6 L8.1 4.6" stroke="#1fae58" stroke-width="0.8" fill="none" opacity="0.8"/></svg>
<svg style="left:972.0px;top:265.7px" width="11" height="11" viewBox="0 0 11 11"><rect x="0" y="0" width="11" height="11" rx="2" fill="#f08a4a"/><path d="M2.4 3.8 L5.5 7 L8.6 3.8" stroke="#2a3a10" stroke-width="1.5" fill="none"/></svg>
<svg style="left:989.0px;top:265.7px" width="11" height="11" viewBox="0 0 11 11"><circle cx="5.5" cy="5.5" r="5.2" fill="#8fd232"/><path d="M8.2 2.6 L3 5.2 L5.3 5.8 L5.9 8.2 Z" fill="#17301a"/></svg>
<div class="t" style="left:1010.7px;top:266.3px;font-size:9.5px;color:#eadfe0;">AM (RLC), ST (C)</div>
<div class="abs" style="left:1115.0px;top:267px;width:5px;height:10px;background:#6fd070;"></div>
<div class="abs" style="left:1121.6px;top:268px;width:5px;height:9px;background:#c8b070;"></div>
<div class="abs" style="left:1128.2px;top:267px;width:5px;height:10px;background:#a6c060;"></div>
<div class="abs" style="left:1134.8px;top:267px;width:5px;height:10px;background:#6fd070;"></div>
<div class="abs" style="left:1141.4px;top:268px;width:5px;height:9px;background:#b8c068;"></div>
<div class="abs" style="left:1151px;top:265.3px;width:28px;height:11.5px;background:#2b2628;border-radius:6px;"></div>
<div class="t" style="left:1015.0px;width:300px;text-align:center;top:266.8px;font-size:8.5px;color:#a9a3a9;font-weight:700;">6.84</div>
<div class="t" style="left:1047.5px;width:300px;text-align:center;top:266.1px;font-size:10px;color:#efe4e5;">5</div>
<div class="abs" style="left:1224px;top:265.3px;width:28px;height:11.5px;background:#5cbf1e;border-radius:6px;"></div>
<div class="t" style="left:1088.0px;width:300px;text-align:center;top:266.8px;font-size:8.5px;color:#245a10;font-weight:700;">7.07</div>
<div class="abs" style="left:609px;top:285px;width:650.5px;height:28px;background:#572d32;"></div>
<div class="abs" style="left:609px;top:285px;width:12px;height:28px;background:#4c2629;"></div>
<div class="abs" style="left:1259.5px;top:285px;width:0px;height:28px;background:#572d32;"></div>
<div class="abs" style="left:621px;top:285px;width:31px;height:28px;background:#2a2832;"></div>
<div class="abs" style="left:652px;top:285px;width:48px;height:28px;background:#2c2a35;"></div>
<div class="abs" style="left:700px;top:285px;width:60px;height:28px;background:#3a2a31;"></div>
<div class="t" style="left:486.5px;width:300px;text-align:center;top:294.8px;font-size:8.5px;color:#d6d4da;">AMC</div>
<div class="t" style="left:655.7px;top:289.1px;font-size:9px;color:#f4f2f4;font-weight:700;">AM</div>
<div class="t" style="left:655.7px;top:300.3px;font-size:8.6px;color:#4cc253;">Attack</div>
<svg style="left:688.5px;top:296.5px" width="8" height="6" viewBox="0 0 8 6"><path d="M1 1 L4 4 L7 1" stroke="#f1eeee" stroke-width="1.6" fill="none"/></svg>
<svg style="left:704.0px;top:294.0px" width="52" height="10" viewBox="0 0 52 10"><defs><clipPath id="hc299"><rect x="0" y="0" width="4.6" height="10"/></clipPath></defs><path transform="translate(0.0 0)" d="M5 0.4 L6.35 3.4 L9.6 3.7 L7.15 5.85 L7.9 9.1 L5 7.4 L2.1 9.1 L2.85 5.85 L0.4 3.7 L3.65 3.4 Z" fill="#8a7a80" opacity="0.35"/><path transform="translate(0.0 0)" d="M5 0.4 L6.35 3.4 L9.6 3.7 L7.15 5.85 L7.9 9.1 L5 7.4 L2.1 9.1 L2.85 5.85 L0.4 3.7 L3.65 3.4 Z" fill="#f6c51c"/><path transform="translate(10.2 0)" d="M5 0.4 L6.35 3.4 L9.6 3.7 L7.15 5.85 L7.9 9.1 L5 7.4 L2.1 9.1 L2.85 5.85 L0.4 3.7 L3.65 3.4 Z" fill="#8a7a80" opacity="0.35"/><path transform="translate(10.2 0)" d="M5 0.4 L6.35 3.4 L9.6 3.7 L7.15 5.85 L7.9 9.1 L5 7.4 L2.1 9.1 L2.85 5.85 L0.4 3.7 L3.65 3.4 Z" fill="#f6c51c"/><path transform="translate(20.4 0)" d="M5 0.4 L6.35 3.4 L9.6 3.7 L7.15 5.85 L7.9 9.1 L5 7.4 L2.1 9.1 L2.85 5.85 L0.4 3.7 L3.65 3.4 Z" fill="#8a7a80" opacity="0.35"/><path transform="translate(20.4 0)" d="M5 0.4 L6.35 3.4 L9.6 3.7 L7.15 5.85 L7.9 9.1 L5 7.4 L2.1 9.1 L2.85 5.85 L0.4 3.7 L3.65 3.4 Z" fill="#f6c51c"/><path transform="translate(30.6 0)" d="M5 0.4 L6.35 3.4 L9.6 3.7 L7.15 5.85 L7.9 9.1 L5 7.4 L2.1 9.1 L2.85 5.85 L0.4 3.7 L3.65 3.4 Z" fill="#8a7a80" opacity="0.35"/><path transform="translate(30.6 0)" d="M5 0.4 L6.35 3.4 L9.6 3.7 L7.15 5.85 L7.9 9.1 L5 7.4 L2.1 9.1 L2.85 5.85 L0.4 3.7 L3.65 3.4 Z" fill="#f6c51c"/><path transform="translate(40.8 0)" d="M5 0.4 L6.35 3.4 L9.6 3.7 L7.15 5.85 L7.9 9.1 L5 7.4 L2.1 9.1 L2.85 5.85 L0.4 3.7 L3.65 3.4 Z" fill="#8a7a80" opacity="0.35"/></svg>
<svg style="left:765.0px;top:293.0px" width="26" height="12" viewBox="0 0 26 12"><path d="M6 0.5 H13 V11.5 H6 A5.5 5.5 0 0 1 6 0.5 Z" fill="#cdb9b6"/><path d="M13 0.6 H19.5 A5.4 5.4 0 0 1 19.5 11.4 H13" stroke="#cdb9b6" stroke-width="1.1" fill="none"/><rect x="5.2" y="2.3" width="1.3" height="3.2" fill="#56292d"/><rect x="4.4" y="3" width="2.9" height="1.1" fill="#56292d"/><circle cx="5" cy="8.3" r="1.2" fill="#56292d"/><circle cx="8.3" cy="8.3" r="1.2" fill="#56292d"/><circle cx="16.5" cy="4" r="1.6" fill="#cdb9b6"/><rect x="14.6" y="6.3" width="3.8" height="3.6" rx="1.2" fill="#cdb9b6"/></svg>
<svg style="left:797.5px;top:292.0px" width="14" height="14" viewBox="0 0 14 14"><path d="M4 0.8 L5.6 0.8 Q7 2 8.4 0.8 L10 0.8 L13.6 2.8 L13 6 L11 6 L11 13.4 L3 13.4 L3 6 L1 6 L0.4 2.8 Z" fill="#eceef2"/><path d="M5.6 4.5 H8.4 V8.2 H5.6 Z" fill="#6a7fa4" opacity="0.55"/></svg>
<svg style="left:813.5px;top:295.2px" width="7.5" height="7.5" viewBox="0 0 8 8"><path d="M1.1 6.8 A3.9 3.9 0 1 1 6.9 6.8 Z" fill="#a38e92"/><circle cx="4" cy="3.3" r="1.45" fill="#572d32"/><path d="M2.1 7 Q2.2 5.2 4 5.2 Q5.8 5.2 5.9 7 Z" fill="#572d32"/></svg>
<div class="t" style="left:826.5px;top:294.3px;font-size:9.6px;color:#eadada;transform:scaleX(0.965);transform-origin:left;">D. Kulusevski</div>
<svg style="left:906.0px;top:296.5px" width="8" height="6" viewBox="0 0 8 6"><path d="M1 1 L4 4 L7 1" stroke="#f1eeee" stroke-width="1.6" fill="none"/></svg>
<div class="abs" style="left:921px;top:291.5px;width:20px;height:15px;background:#e06060;border-radius:2px;"></div>
<div class="t" style="left:781.0px;width:300px;text-align:center;top:295.9px;font-size:7.5px;color:#fbe0e0;">Int</div>
<svg style="left:949.0px;top:293.0px" width="12" height="12" viewBox="0 0 12 12"><path d="M6 11.6 L1.3 6.9 Q-0.1 5.3 0.4 3.2 Q1.1 0.6 3.4 0.5 Q5 0.5 6 2.1 Q7 0.5 8.6 0.5 Q10.9 0.6 11.6 3.2 Q12.1 5.3 10.7 6.9 Z" fill="#2ee872" stroke="#1c4a2c" stroke-width="0.5"/><path d="M3.9 4.6 L6 6.6 L8.1 4.6" stroke="#1fae58" stroke-width="0.8" fill="none" opacity="0.8"/></svg>
<svg style="left:972.0px;top:293.7px" width="11" height="11" viewBox="0 0 11 11"><rect x="0" y="0" width="11" height="11" rx="2" fill="#33e07a"/><path d="M1.6 4.6 H3.4 V9.6 H1.6 Z M4.1 4.6 L5.7 1.2 Q7.3 1.1 7 3 L6.8 4 H9 Q10 4.2 9.7 5.3 L9 8.7 Q8.7 9.6 7.8 9.6 H4.1 Z" fill="#173a22" transform="translate(0.2 0.2) scale(0.96)"/></svg>
<svg style="left:989.0px;top:293.7px" width="11" height="11" viewBox="0 0 11 11"><circle cx="5.5" cy="5.5" r="5.2" fill="#8fd232"/><path d="M8.2 2.6 L3 5.2 L5.3 5.8 L5.9 8.2 Z" fill="#17301a"/></svg>
<div class="t" style="left:1010.7px;top:294.3px;font-size:9.5px;color:#eadfe0;">M (R), AM (RC)</div>
<div class="abs" style="left:1115.0px;top:296px;width:5px;height:9px;background:#c8b070;"></div>
<div class="abs" style="left:1121.6px;top:295px;width:5px;height:10px;background:#a6c060;"></div>
<div class="abs" style="left:1128.2px;top:295px;width:5px;height:10px;background:#a6c060;"></div>
<div class="abs" style="left:1134.8px;top:293px;width:5px;height:12px;background:#33e07a;"></div>
<div class="abs" style="left:1141.4px;top:295px;width:5px;height:10px;background:#a6c060;"></div>
<div class="abs" style="left:1151px;top:293.3px;width:28px;height:11.5px;background:#5cbf1e;border-radius:6px;"></div>
<div class="t" style="left:1015.0px;width:300px;text-align:center;top:294.8px;font-size:8.5px;color:#245a10;font-weight:700;">7.12</div>
<div class="t" style="left:1047.5px;width:300px;text-align:center;top:294.1px;font-size:10px;color:#efe4e5;">19</div>
<div class="abs" style="left:1224px;top:293.3px;width:28px;height:11.5px;background:#5cbf1e;border-radius:6px;"></div>
<div class="t" style="left:1088.0px;width:300px;text-align:center;top:294.8px;font-size:8.5px;color:#245a10;font-weight:700;">7.54</div>
<div class="abs" style="left:609px;top:313px;width:650.5px;height:28px;background:#572d32;"></div>
<div class="abs" style="left:609px;top:313px;width:12px;height:28px;background:#4c2629;"></div>
<div class="abs" style="left:1259.5px;top:313px;width:0px;height:28px;background:#572d32;"></div>
<div class="abs" style="left:621px;top:313px;width:638.5px;height:28px;background:rgba(255,255,255,0.012);"></div>
<div class="abs" style="left:621px;top:313px;width:31px;height:28px;background:#2a2832;"></div>
<div class="abs" style="left:652px;top:313px;width:48px;height:28px;background:#2c2a35;"></div>
<div class="abs" style="left:700px;top:313px;width:60px;height:28px;background:#3a2a31;"></div>
<div class="t" style="left:486.5px;width:300px;text-align:center;top:322.8px;font-size:8.5px;color:#d6d4da;">AML</div>
<div class="t" style="left:655.7px;top:317.1px;font-size:9px;color:#f4f2f4;font-weight:700;">IF</div>
<div class="t" style="left:655.7px;top:328.3px;font-size:8.6px;color:#7aa6e8;">Su</div>
<svg style="left:688.5px;top:324.5px" width="8" height="6" viewBox="0 0 8 6"><path d="M1 1 L4 4 L7 1" stroke="#f1eeee" stroke-width="1.6" fill="none"/></svg>
<svg style="left:704.0px;top:322.0px" width="52" height="10" viewBox="0 0 52 10"><defs><clipPath id="hc327"><rect x="0" y="0" width="4.6" height="10"/></clipPath></defs><path transform="translate(0.0 0)" d="M5 0.4 L6.35 3.4 L9.6 3.7 L7.15 5.85 L7.9 9.1 L5 7.4 L2.1 9.1 L2.85 5.85 L0.4 3.7 L3.65 3.4 Z" fill="#8a7a80" opacity="0.35"/><path transform="translate(0.0 0)" d="M5 0.4 L6.35 3.4 L9.6 3.7 L7.15 5.85 L7.9 9.1 L5 7.4 L2.1 9.1 L2.85 5.85 L0.4 3.7 L3.65 3.4 Z" fill="#f6c51c"/><path transform="translate(10.2 0)" d="M5 0.4 L6.35 3.4 L9.6 3.7 L7.15 5.85 L7.9 9.1 L5 7.4 L2.1 9.1 L2.85 5.85 L0.4 3.7 L3.65 3.4 Z" fill="#8a7a80" opacity="0.35"/><path transform="translate(10.2 0)" d="M5 0.4 L6.35 3.4 L9.6 3.7 L7.15 5.85 L7.9 9.1 L5 7.4 L2.1 9.1 L2.85 5.85 L0.4 3.7 L3.65 3.4 Z" fill="#f6c51c"/><path transform="translate(20.4 0)" d="M5 0.4 L6.35 3.4 L9.6 3.7 L7.15 5.85 L7.9 9.1 L5 7.4 L2.1 9.1 L2.85 5.85 L0.4 3.7 L3.65 3.4 Z" fill="#8a7a80" opacity="0.35"/><path transform="translate(20.4 0)" d="M5 0.4 L6.35 3.4 L9.6 3.7 L7.15 5.85 L7.9 9.1 L5 7.4 L2.1 9.1 L2.85 5.85 L0.4 3.7 L3.65 3.4 Z" fill="#f6c51c"/><path transform="translate(30.6 0)" d="M5 0.4 L6.35 3.4 L9.6 3.7 L7.15 5.85 L7.9 9.1 L5 7.4 L2.1 9.1 L2.85 5.85 L0.4 3.7 L3.65 3.4 Z" fill="#8a7a80" opacity="0.35"/><path transform="translate(40.8 0)" d="M5 0.4 L6.35 3.4 L9.6 3.7 L7.15 5.85 L7.9 9.1 L5 7.4 L2.1 9.1 L2.85 5.85 L0.4 3.7 L3.65 3.4 Z" fill="#8a7a80" opacity="0.35"/></svg>
<svg style="left:765.0px;top:321.0px" width="26" height="12" viewBox="0 0 26 12"><path d="M6 0.5 H13 V11.5 H6 A5.5 5.5 0 0 1 6 0.5 Z" fill="#cdb9b6"/><path d="M13 0.6 H19.5 A5.4 5.4 0 0 1 19.5 11.4 H13" stroke="#cdb9b6" stroke-width="1.1" fill="none"/><rect x="5.2" y="2.3" width="1.3" height="3.2" fill="#56292d"/><rect x="4.4" y="3" width="2.9" height="1.1" fill="#56292d"/><circle cx="5" cy="8.3" r="1.2" fill="#56292d"/><circle cx="8.3" cy="8.3" r="1.2" fill="#56292d"/><circle cx="16.5" cy="4" r="1.6" fill="#cdb9b6"/><rect x="14.6" y="6.3" width="3.8" height="3.6" rx="1.2" fill="#cdb9b6"/></svg>
<svg style="left:797.5px;top:320.0px" width="14" height="14" viewBox="0 0 14 14"><path d="M4 0.8 L5.6 0.8 Q7 2 8.4 0.8 L10 0.8 L13.6 2.8 L13 6 L11 6 L11 13.4 L3 13.4 L3 6 L1 6 L0.4 2.8 Z" fill="#eceef2"/><path d="M5.6 4.5 H8.4 V8.2 H5.6 Z" fill="#6a7fa4" opacity="0.55"/></svg>
<svg style="left:813.5px;top:323.2px" width="7.5" height="7.5" viewBox="0 0 8 8"><path d="M1.1 6.8 A3.9 3.9 0 1 1 6.9 6.8 Z" fill="#a38e92"/><circle cx="4" cy="3.3" r="1.45" fill="#572d32"/><path d="M2.1 7 Q2.2 5.2 4 5.2 Q5.8 5.2 5.9 7 Z" fill="#572d32"/></svg>
<div class="t" style="left:826.5px;top:322.3px;font-size:9.6px;color:#eadada;transform:scaleX(0.965);transform-origin:left;">James Maddison</div>
<svg style="left:906.0px;top:324.5px" width="8" height="6" viewBox="0 0 8 6"><path d="M1 1 L4 4 L7 1" stroke="#f1eeee" stroke-width="1.6" fill="none"/></svg>
<div class="abs" style="left:921px;top:319.5px;width:20px;height:15px;background:#e06060;border-radius:2px;"></div>
<div class="t" style="left:781.0px;width:300px;text-align:center;top:323.9px;font-size:7.5px;color:#fbe0e0;">Vac</div>
<svg style="left:949.0px;top:321.0px" width="12" height="12" viewBox="0 0 12 12"><path d="M6 11.6 L1.3 6.9 Q-0.1 5.3 0.4 3.2 Q1.1 0.6 3.4 0.5 Q5 0.5 6 2.1 Q7 0.5 8.6 0.5 Q10.9 0.6 11.6 3.2 Q12.1 5.3 10.7 6.9 Z" fill="#2ee872" stroke="#1c4a2c" stroke-width="0.5"/><path d="M3.9 4.6 L6 6.6 L8.1 4.6" stroke="#1fae58" stroke-width="0.8" fill="none" opacity="0.8"/></svg>
<svg style="left:972.0px;top:321.7px" width="11" height="11" viewBox="0 0 11 11"><rect x="0" y="0" width="11" height="11" rx="2" fill="#33e07a"/><path d="M1.6 4.6 H3.4 V9.6 H1.6 Z M4.1 4.6 L5.7 1.2 Q7.3 1.1 7 3 L6.8 4 H9 Q10 4.2 9.7 5.3 L9 8.7 Q8.7 9.6 7.8 9.6 H4.1 Z" fill="#173a22" transform="translate(0.2 0.2) scale(0.96)"/></svg>
<svg style="left:989.0px;top:321.7px" width="11" height="11" viewBox="0 0 11 11"><circle cx="5.5" cy="5.5" r="5.2" fill="#4cd63a"/><path d="M8.2 2.6 L3 5.2 L5.3 5.8 L5.9 8.2 Z" fill="#17301a"/></svg>
<div class="t" style="left:1010.7px;top:322.3px;font-size:9.5px;color:#eadfe0;">M (LC), AM (RLC)</div>
<div class="abs" style="left:1115.0px;top:323px;width:5px;height:10px;background:#6fd070;"></div>
<div class="abs" style="left:1121.6px;top:323px;width:5px;height:10px;background:#a6c060;"></div>
<div class="abs" style="left:1128.2px;top:323px;width:5px;height:10px;background:#a6c060;"></div>
<div class="abs" style="left:1134.8px;top:321px;width:5px;height:12px;background:#33e07a;"></div>
<div class="abs" style="left:1141.4px;top:323px;width:5px;height:10px;background:#6fd070;"></div>
<div class="abs" style="left:1151px;top:321.3px;width:28px;height:11.5px;background:#5cbf1e;border-radius:6px;"></div>
<div class="t" style="left:1015.0px;width:300px;text-align:center;top:322.8px;font-size:8.5px;color:#245a10;font-weight:700;">7.42</div>
<div class="t" style="left:1047.5px;width:300px;text-align:center;top:322.1px;font-size:10px;color:#efe4e5;">17</div>
<div class="abs" style="left:1224px;top:321.3px;width:28px;height:11.5px;background:#5cbf1e;border-radius:6px;"></div>
<div class="t" style="left:1088.0px;width:300px;text-align:center;top:322.8px;font-size:8.5px;color:#245a10;font-weight:700;">7.21</div>
<div class="abs" style="left:609px;top:341px;width:650.5px;height:28px;background:#242226;"></div>
<div class="abs" style="left:621px;top:341px;width:31px;height:28px;background:#5d4d7b;"></div>
<div class="abs" style="left:652px;top:341px;width:48px;height:28px;background:#574975;"></div>
<div class="abs" style="left:700px;top:341px;width:60px;height:28px;background:#4a4061;"></div>
<div class="t" style="left:486.5px;width:300px;text-align:center;top:350.8px;font-size:8.5px;color:#d6d4da;">STC</div>
<div class="t" style="left:655.7px;top:345.1px;font-size:9px;color:#f4f2f4;font-weight:700;">AF</div>
<div class="t" style="left:655.7px;top:356.3px;font-size:8.6px;color:#4cc253;">Attack</div>
<svg style="left:688.5px;top:352.5px" width="8" height="6" viewBox="0 0 8 6"><path d="M1 1 L4 4 L7 1" stroke="#f1eeee" stroke-width="1.6" fill="none"/></svg>
<svg style="left:704.0px;top:350.0px" width="52" height="10" viewBox="0 0 52 10"><defs><clipPath id="hc355"><rect x="0" y="0" width="4.6" height="10"/></clipPath></defs><path transform="translate(0.0 0)" d="M5 0.4 L6.35 3.4 L9.6 3.7 L7.15 5.85 L7.9 9.1 L5 7.4 L2.1 9.1 L2.85 5.85 L0.4 3.7 L3.65 3.4 Z" fill="#8a7a80" opacity="0.35"/><path transform="translate(10.2 0)" d="M5 0.4 L6.35 3.4 L9.6 3.7 L7.15 5.85 L7.9 9.1 L5 7.4 L2.1 9.1 L2.85 5.85 L0.4 3.7 L3.65 3.4 Z" fill="#8a7a80" opacity="0.35"/><path transform="translate(20.4 0)" d="M5 0.4 L6.35 3.4 L9.6 3.7 L7.15 5.85 L7.9 9.1 L5 7.4 L2.1 9.1 L2.85 5.85 L0.4 3.7 L3.65 3.4 Z" fill="#8a7a80" opacity="0.35"/><path transform="translate(30.6 0)" d="M5 0.4 L6.35 3.4 L9.6 3.7 L7.15 5.85 L7.9 9.1 L5 7.4 L2.1 9.1 L2.85 5.85 L0.4 3.7 L3.65 3.4 Z" fill="#8a7a80" opacity="0.35"/><path transform="translate(40.8 0)" d="M5 0.4 L6.35 3.4 L9.6 3.7 L7.15 5.85 L7.9 9.1 L5 7.4 L2.1 9.1 L2.85 5.85 L0.4 3.7 L3.65 3.4 Z" fill="#8a7a80" opacity="0.35"/></svg>
<div class="abs" style="left:796px;top:341px;width:122px;height:28px;background:#1f1e22;"></div>
<div class="t" style="left:814.0px;top:350.1px;font-size:10px;color:#e4e2e6;">Pick Player</div>
<svg style="left:906.0px;top:352.5px" width="8" height="6" viewBox="0 0 8 6"><path d="M1 1 L4 4 L7 1" stroke="#f1eeee" stroke-width="1.6" fill="none"/></svg>
<div class="t" style="left:1012.0px;top:350.6px;font-size:9px;color:#aaa8ae;">-</div>
<div class="t" style="left:1015.0px;width:300px;text-align:center;top:350.6px;font-size:9px;color:#6a686e;">-</div>
<div class="t" style="left:1047.5px;width:300px;text-align:center;top:350.6px;font-size:9px;color:#aaa8ae;">-</div>
<div class="t" style="left:1088.0px;width:300px;text-align:center;top:350.6px;font-size:9px;color:#6a686e;">-</div>
<div class="abs" style="left:609px;top:369px;width:650.5px;height:28px;background:#572d32;"></div>
<div class="abs" style="left:609px;top:369px;width:12px;height:28px;background:#4c2629;"></div>
<div class="abs" style="left:1259.5px;top:369px;width:0px;height:28px;background:#572d32;"></div>
<div class="abs" style="left:621px;top:369px;width:638.5px;height:28px;background:rgba(255,255,255,0.012);"></div>
<div class="abs" style="left:621px;top:369px;width:31px;height:28px;background:#64626a;"></div>
<div class="abs" style="left:652px;top:369px;width:48px;height:28px;background:#5c5960;"></div>
<div class="t" style="left:486.5px;width:300px;text-align:center;top:378.8px;font-size:8.5px;color:#d6d4da;">S1</div>
<svg style="left:797.5px;top:375.8px" width="13" height="14.5" viewBox="0 0 13 14.5"><path d="M0.3 12 V6 Q0.3 0.4 6.5 0.4 Q12.7 0.4 12.7 6 V12 Q12.7 14.2 6.5 14.2 Q0.3 14.2 0.3 12 Z" fill="#179a46"/><path d="M4.6 1 Q6.5 2.2 8.4 1" stroke="#4fc07a" stroke-width="1" fill="none"/><path d="M1.8 8 V12.5 M11.2 8 V12.5" stroke="#45c07a" stroke-width="1.3"/><path d="M6.5 4 V11" stroke="#4a9a6a" stroke-width="0.6" opacity="0.6"/></svg>
<svg style="left:813.5px;top:379.2px" width="7.5" height="7.5" viewBox="0 0 8 8"><path d="M1.1 6.8 A3.9 3.9 0 1 1 6.9 6.8 Z" fill="#a38e92"/><circle cx="4" cy="3.3" r="1.45" fill="#572d32"/><path d="M2.1 7 Q2.2 5.2 4 5.2 Q5.8 5.2 5.9 7 Z" fill="#572d32"/></svg>
<div class="t" style="left:826.5px;top:378.3px;font-size:9.6px;color:#eadada;transform:scaleX(0.965);transform-origin:left;">Fraser Forster</div>
<svg style="left:906.0px;top:380.5px" width="8" height="6" viewBox="0 0 8 6"><path d="M1 1 L4 4 L7 1" stroke="#f1eeee" stroke-width="1.6" fill="none"/></svg>
<div class="abs" style="left:921px;top:375.5px;width:20px;height:15px;background:#e06060;border-radius:2px;"></div>
<div class="t" style="left:781.0px;width:300px;text-align:center;top:379.9px;font-size:7.5px;color:#fbe0e0;">Vac</div>
<svg style="left:949.0px;top:377.0px" width="12" height="12" viewBox="0 0 12 12"><path d="M6 11.6 L1.3 6.9 Q-0.1 5.3 0.4 3.2 Q1.1 0.6 3.4 0.5 Q5 0.5 6 2.1 Q7 0.5 8.6 0.5 Q10.9 0.6 11.6 3.2 Q12.1 5.3 10.7 6.9 Z" fill="#2ee872" stroke="#1c4a2c" stroke-width="0.5"/><path d="M3.9 4.6 L6 6.6 L8.1 4.6" stroke="#1fae58" stroke-width="0.8" fill="none" opacity="0.8"/></svg>
<svg style="left:972.0px;top:377.7px" width="11" height="11" viewBox="0 0 11 11"><rect x="0" y="0" width="11" height="11" rx="2" fill="#f05a5a"/><g transform="rotate(180 5.5 5.5)"><path d="M1.6 4.6 H3.4 V9.6 H1.6 Z M4.1 4.6 L5.7 1.2 Q7.3 1.1 7 3 L6.8 4 H9 Q10 4.2 9.7 5.3 L9 8.7 Q8.7 9.6 7.8 9.6 H4.1 Z" fill="#4a1414" transform="translate(0.2 0.2) scale(0.96)"/></g></svg>
<svg style="left:989.0px;top:377.7px" width="11" height="11" viewBox="0 0 11 11"><circle cx="5.5" cy="5.5" r="5.2" fill="#4cd63a"/><path d="M8.2 2.6 L3 5.2 L5.3 5.8 L5.9 8.2 Z" fill="#17301a"/></svg>
<div class="t" style="left:1010.7px;top:378.3px;font-size:9.5px;color:#eadfe0;">GK</div>
<div class="abs" style="left:1115.0px;top:378px;width:5px;height:11px;background:#4cd870;"></div>
<div class="abs" style="left:1121.6px;top:380px;width:5px;height:9px;background:#c8b070;"></div>
<div class="abs" style="left:1128.2px;top:379px;width:5px;height:10px;background:#a6c060;"></div>
<div class="abs" style="left:1134.8px;top:380px;width:5px;height:9px;background:#c8c070;"></div>
<div class="abs" style="left:1141.4px;top:378px;width:5px;height:11px;background:#4cd870;"></div>
<div class="abs" style="left:1151px;top:377.3px;width:28px;height:11.5px;background:#2b2628;border-radius:6px;"></div>
<div class="t" style="left:1015.0px;width:300px;text-align:center;top:378.8px;font-size:8.5px;color:#a9a3a9;font-weight:700;">6.90</div>
<div class="t" style="left:1047.5px;width:300px;text-align:center;top:378.1px;font-size:10px;color:#efe4e5;">0</div>
<div class="abs" style="left:1224px;top:377.3px;width:28px;height:11.5px;background:#2b2628;border-radius:6px;"></div>
<div class="t" style="left:1088.0px;width:300px;text-align:center;top:378.8px;font-size:8.5px;color:#a9a3a9;font-weight:700;">6.97</div>
<div class="abs" style="left:609px;top:397px;width:650.5px;height:28px;background:#572d32;"></div>
<div class="abs" style="left:609px;top:397px;width:12px;height:28px;background:#4c2629;"></div>
<div class="abs" style="left:1259.5px;top:397px;width:0px;height:28px;background:#572d32;"></div>
<div class="abs" style="left:621px;top:397px;width:31px;height:28px;background:#64626a;"></div>
<div class="abs" style="left:652px;top:397px;width:48px;height:28px;background:#5c5960;"></div>
<div class="t" style="left:486.5px;width:300px;text-align:center;top:406.8px;font-size:8.5px;color:#d6d4da;">S2</div>
<svg style="left:797.5px;top:404.0px" width="14" height="14" viewBox="0 0 14 14"><path d="M4 0.8 L5.6 0.8 Q7 2 8.4 0.8 L10 0.8 L13.6 2.8 L13 6 L11 6 L11 13.4 L3 13.4 L3 6 L1 6 L0.4 2.8 Z" fill="#eceef2"/><path d="M5.6 4.5 H8.4 V8.2 H5.6 Z" fill="#6a7fa4" opacity="0.55"/></svg>
<svg style="left:813.5px;top:407.2px" width="7.5" height="7.5" viewBox="0 0 8 8"><path d="M1.1 6.8 A3.9 3.9 0 1 1 6.9 6.8 Z" fill="#a38e92"/><circle cx="4" cy="3.3" r="1.45" fill="#572d32"/><path d="M2.1 7 Q2.2 5.2 4 5.2 Q5.8 5.2 5.9 7 Z" fill="#572d32"/></svg>
<div class="t" style="left:826.5px;top:406.3px;font-size:9.6px;color:#eadada;transform:scaleX(0.965);transform-origin:left;">Destiny Udogie</div>
<svg style="left:906.0px;top:408.5px" width="8" height="6" viewBox="0 0 8 6"><path d="M1 1 L4 4 L7 1" stroke="#f1eeee" stroke-width="1.6" fill="none"/></svg>
<div class="abs" style="left:921px;top:403.5px;width:20px;height:15px;background:#e06060;border-radius:2px;"></div>
<div class="t" style="left:781.0px;width:300px;text-align:center;top:407.9px;font-size:7.5px;color:#fbe0e0;">Vac</div>
<svg style="left:949.0px;top:405.0px" width="12" height="12" viewBox="0 0 12 12"><path d="M6 11.6 L1.3 6.9 Q-0.1 5.3 0.4 3.2 Q1.1 0.6 3.4 0.5 Q5 0.5 6 2.1 Q7 0.5 8.6 0.5 Q10.9 0.6 11.6 3.2 Q12.1 5.3 10.7 6.9 Z" fill="#2ee872" stroke="#1c4a2c" stroke-width="0.5"/><path d="M3.9 4.6 L6 6.6 L8.1 4.6" stroke="#1fae58" stroke-width="0.8" fill="none" opacity="0.8"/></svg>
<svg style="left:972.0px;top:405.7px" width="11" height="11" viewBox="0 0 11 11"><rect x="0" y="0" width="11" height="11" rx="2" fill="#66d860"/><path d="M2.4 3.8 L5.5 7 L8.6 3.8" stroke="#2a3a10" stroke-width="1.5" fill="none"/></svg>
<svg style="left:989.0px;top:405.7px" width="11" height="11" viewBox="0 0 11 11"><circle cx="5.5" cy="5.5" r="5.2" fill="#4cd63a"/><path d="M8.2 2.6 L3 5.2 L5.3 5.8 L5.9 8.2 Z" fill="#17301a"/></svg>
<div class="t" style="left:1010.7px;top:406.3px;font-size:9.5px;color:#eadfe0;">D/WB (L)</div>
<div class="abs" style="left:1115.0px;top:406px;width:5px;height:11px;background:#4cd870;"></div>
<div class="abs" style="left:1121.6px;top:407px;width:5px;height:10px;background:#a6c060;"></div>
<div class="abs" style="left:1128.2px;top:407px;width:5px;height:10px;background:#a6c060;"></div>
<div class="abs" style="left:1134.8px;top:408px;width:5px;height:9px;background:#b8c068;"></div>
<div class="abs" style="left:1141.4px;top:407px;width:5px;height:10px;background:#a6c060;"></div>
<div class="abs" style="left:1151px;top:405.3px;width:28px;height:11.5px;background:#5cbf1e;border-radius:6px;"></div>
<div class="t" style="left:1015.0px;width:300px;text-align:center;top:406.8px;font-size:8.5px;color:#245a10;font-weight:700;">7.10</div>
<div class="t" style="left:1047.5px;width:300px;text-align:center;top:406.1px;font-size:10px;color:#efe4e5;">4</div>
<div class="abs" style="left:1224px;top:405.3px;width:28px;height:11.5px;background:#5cbf1e;border-radius:6px;"></div>
<div class="t" style="left:1088.0px;width:300px;text-align:center;top:406.8px;font-size:8.5px;color:#245a10;font-weight:700;">7.48</div>
<div class="abs" style="left:609px;top:425px;width:650.5px;height:28px;background:#572d32;"></div>
<div class="abs" style="left:609px;top:425px;width:12px;height:28px;background:#4c2629;"></div>
<div class="abs" style="left:1259.5px;top:425px;width:0px;height:28px;background:#572d32;"></div>
<div class="abs" style="left:621px;top:425px;width:638.5px;height:28px;background:rgba(255,255,255,0.012);"></div>
<div class="abs" style="left:621px;top:425px;width:31px;height:28px;background:#64626a;"></div>
<div class="abs" style="left:652px;top:425px;width:48px;height:28px;background:#5c5960;"></div>
<div class="t" style="left:486.5px;width:300px;text-align:center;top:434.8px;font-size:8.5px;color:#d6d4da;">S3</div>
<svg style="left:797.5px;top:432.0px" width="14" height="14" viewBox="0 0 14 14"><path d="M4 0.8 L5.6 0.8 Q7 2 8.4 0.8 L10 0.8 L13.6 2.8 L13 6 L11 6 L11 13.4 L3 13.4 L3 6 L1 6 L0.4 2.8 Z" fill="#eceef2"/><path d="M5.6 4.5 H8.4 V8.2 H5.6 Z" fill="#6a7fa4" opacity="0.55"/></svg>
<svg style="left:813.5px;top:435.2px" width="7.5" height="7.5" viewBox="0 0 8 8"><path d="M1.1 6.8 A3.9 3.9 0 1 1 6.9 6.8 Z" fill="#a38e92"/><circle cx="4" cy="3.3" r="1.45" fill="#572d32"/><path d="M2.1 7 Q2.2 5.2 4 5.2 Q5.8 5.2 5.9 7 Z" fill="#572d32"/></svg>
<div class="t" style="left:826.5px;top:434.3px;font-size:9.6px;color:#eadada;transform:scaleX(0.965);transform-origin:left;">Pedro Porro</div>
<svg style="left:906.0px;top:436.5px" width="8" height="6" viewBox="0 0 8 6"><path d="M1 1 L4 4 L7 1" stroke="#f1eeee" stroke-width="1.6" fill="none"/></svg>
<div class="abs" style="left:921px;top:431.5px;width:20px;height:15px;background:#e06060;border-radius:2px;"></div>
<div class="t" style="left:781.0px;width:300px;text-align:center;top:435.9px;font-size:7.5px;color:#fbe0e0;">Int</div>
<svg style="left:949.0px;top:433.0px" width="12" height="12" viewBox="0 0 12 12"><path d="M6 11.6 L1.3 6.9 Q-0.1 5.3 0.4 3.2 Q1.1 0.6 3.4 0.5 Q5 0.5 6 2.1 Q7 0.5 8.6 0.5 Q10.9 0.6 11.6 3.2 Q12.1 5.3 10.7 6.9 Z" fill="#2ee872" stroke="#1c4a2c" stroke-width="0.5"/><path d="M3.9 4.6 L6 6.6 L8.1 4.6" stroke="#1fae58" stroke-width="0.8" fill="none" opacity="0.8"/></svg>
<svg style="left:972.0px;top:433.7px" width="11" height="11" viewBox="0 0 11 11"><rect x="0" y="0" width="11" height="11" rx="2" fill="#33e07a"/><path d="M1.6 4.6 H3.4 V9.6 H1.6 Z M4.1 4.6 L5.7 1.2 Q7.3 1.1 7 3 L6.8 4 H9 Q10 4.2 9.7 5.3 L9 8.7 Q8.7 9.6 7.8 9.6 H4.1 Z" fill="#173a22" transform="translate(0.2 0.2) scale(0.96)"/></svg>
<svg style="left:989.0px;top:433.7px" width="11" height="11" viewBox="0 0 11 11"><circle cx="5.5" cy="5.5" r="5.2" fill="#4cd63a"/><path d="M8.2 2.6 L3 5.2 L5.3 5.8 L5.9 8.2 Z" fill="#17301a"/></svg>
<div class="t" style="left:1010.7px;top:434.3px;font-size:9.5px;color:#eadfe0;">D/WB/M/AM (R)</div>
<div class="abs" style="left:1115.0px;top:436px;width:5px;height:9px;background:#b8c068;"></div>
<div class="abs" style="left:1121.6px;top:435px;width:5px;height:10px;background:#a6c060;"></div>
<div class="abs" style="left:1128.2px;top:435px;width:5px;height:10px;background:#a6c060;"></div>
<div class="abs" style="left:1134.8px;top:435px;width:5px;height:10px;background:#a6c060;"></div>
<div class="abs" style="left:1141.4px;top:434px;width:5px;height:11px;background:#4cd870;"></div>
<div class="abs" style="left:1151px;top:433.3px;width:28px;height:11.5px;background:#2b2628;border-radius:6px;"></div>
<div class="t" style="left:1015.0px;width:300px;text-align:center;top:434.8px;font-size:8.5px;color:#a9a3a9;font-weight:700;">6.98</div>
<div class="t" style="left:1047.5px;width:300px;text-align:center;top:434.1px;font-size:10px;color:#efe4e5;">3</div>
<div class="abs" style="left:1224px;top:433.3px;width:28px;height:11.5px;background:#5cbf1e;border-radius:6px;"></div>
<div class="t" style="left:1088.0px;width:300px;text-align:center;top:434.8px;font-size:8.5px;color:#245a10;font-weight:700;">7.20</div>
<div class="abs" style="left:609px;top:453px;width:650.5px;height:28px;background:#572d32;"></div>
<div class="abs" style="left:609px;top:453px;width:12px;height:28px;background:#4c2629;"></div>
<div class="abs" style="left:1259.5px;top:453px;width:0px;height:28px;background:#572d32;"></div>
<div class="abs" style="left:621px;top:453px;width:31px;height:28px;background:#64626a;"></div>
<div class="abs" style="left:652px;top:453px;width:48px;height:28px;background:#5c5960;"></div>
<div class="t" style="left:486.5px;width:300px;text-align:center;top:462.8px;font-size:8.5px;color:#d6d4da;">S4</div>
<svg style="left:797.5px;top:460.0px" width="14" height="14" viewBox="0 0 14 14"><path d="M4 0.8 L5.6 0.8 Q7 2 8.4 0.8 L10 0.8 L13.6 2.8 L13 6 L11 6 L11 13.4 L3 13.4 L3 6 L1 6 L0.4 2.8 Z" fill="#eceef2"/><path d="M5.6 4.5 H8.4 V8.2 H5.6 Z" fill="#6a7fa4" opacity="0.55"/></svg>
<svg style="left:813.5px;top:463.2px" width="7.5" height="7.5" viewBox="0 0 8 8"><path d="M1.1 6.8 A3.9 3.9 0 1 1 6.9 6.8 Z" fill="#a38e92"/><circle cx="4" cy="3.3" r="1.45" fill="#572d32"/><path d="M2.1 7 Q2.2 5.2 4 5.2 Q5.8 5.2 5.9 7 Z" fill="#572d32"/></svg>
<div class="t" style="left:826.5px;top:462.3px;font-size:9.6px;color:#eadada;transform:scaleX(0.965);transform-origin:left;">Richarlison</div>
<svg style="left:906.0px;top:464.5px" width="8" height="6" viewBox="0 0 8 6"><path d="M1 1 L4 4 L7 1" stroke="#f1eeee" stroke-width="1.6" fill="none"/></svg>
<div class="abs" style="left:921px;top:459.5px;width:20px;height:15px;background:#e06060;border-radius:2px;"></div>
<div class="t" style="left:781.0px;width:300px;text-align:center;top:463.9px;font-size:7.5px;color:#fbe0e0;">Vac</div>
<svg style="left:949.0px;top:461.0px" width="12" height="12" viewBox="0 0 12 12"><path d="M6 11.6 L1.3 6.9 Q-0.1 5.3 0.4 3.2 Q1.1 0.6 3.4 0.5 Q5 0.5 6 2.1 Q7 0.5 8.6 0.5 Q10.9 0.6 11.6 3.2 Q12.1 5.3 10.7 6.9 Z" fill="#2ee872" stroke="#1c4a2c" stroke-width="0.5"/><path d="M3.9 4.6 L6 6.6 L8.1 4.6" stroke="#1fae58" stroke-width="0.8" fill="none" opacity="0.8"/></svg>
<svg style="left:972.0px;top:461.7px" width="11" height="11" viewBox="0 0 11 11"><rect x="0" y="0" width="11" height="11" rx="2" fill="#33e07a"/><path d="M1.6 4.6 H3.4 V9.6 H1.6 Z M4.1 4.6 L5.7 1.2 Q7.3 1.1 7 3 L6.8 4 H9 Q10 4.2 9.7 5.3 L9 8.7 Q8.7 9.6 7.8 9.6 H4.1 Z" fill="#173a22" transform="translate(0.2 0.2) scale(0.96)"/></svg>
<svg style="left:989.0px;top:461.7px" width="11" height="11" viewBox="0 0 11 11"><circle cx="5.5" cy="5.5" r="5.2" fill="#4cd63a"/><path d="M8.2 2.6 L3 5.2 L5.3 5.8 L5.9 8.2 Z" fill="#17301a"/></svg>
<div class="t" style="left:1010.7px;top:462.3px;font-size:9.5px;color:#eadfe0;">AM (RL), ST (C)</div>
<div class="abs" style="left:1115.0px;top:462px;width:5px;height:11px;background:#4cd870;"></div>
<div class="abs" style="left:1121.6px;top:461px;width:5px;height:12px;background:#33e07a;"></div>
<div class="abs" style="left:1128.2px;top:463px;width:5px;height:10px;background:#a6c060;"></div>
<div class="abs" style="left:1134.8px;top:464px;width:5px;height:9px;background:#b8c068;"></div>
<div class="abs" style="left:1141.4px;top:464px;width:5px;height:9px;background:#b8c068;"></div>
<div class="abs" style="left:1151px;top:461.3px;width:28px;height:11.5px;background:#5cbf1e;border-radius:6px;"></div>
<div class="t" style="left:1015.0px;width:300px;text-align:center;top:462.8px;font-size:8.5px;color:#245a10;font-weight:700;">7.16</div>
<div class="t" style="left:1047.5px;width:300px;text-align:center;top:462.1px;font-size:10px;color:#efe4e5;">26</div>
<div class="abs" style="left:1224px;top:461.3px;width:28px;height:11.5px;background:#5cbf1e;border-radius:6px;"></div>
<div class="t" style="left:1088.0px;width:300px;text-align:center;top:462.8px;font-size:8.5px;color:#245a10;font-weight:700;">7.33</div>
<div class="abs" style="left:609px;top:481px;width:650.5px;height:28px;background:#572d32;"></div>
<div class="abs" style="left:609px;top:481px;width:12px;height:28px;background:#4c2629;"></div>
<div class="abs" style="left:1259.5px;top:481px;width:0px;height:28px;background:#572d32;"></div>
<div class="abs" style="left:621px;top:481px;width:638.5px;height:28px;background:rgba(255,255,255,0.012);"></div>
<div class="abs" style="left:621px;top:481px;width:31px;height:28px;background:#64626a;"></div>
<div class="abs" style="left:652px;top:481px;width:48px;height:28px;background:#5c5960;"></div>
<div class="t" style="left:486.5px;width:300px;text-align:center;top:490.8px;font-size:8.5px;color:#d6d4da;">S5</div>
<svg style="left:797.5px;top:488.0px" width="14" height="14" viewBox="0 0 14 14"><path d="M4 0.8 L5.6 0.8 Q7 2 8.4 0.8 L10 0.8 L13.6 2.8 L13 6 L11 6 L11 13.4 L3 13.4 L3 6 L1 6 L0.4 2.8 Z" fill="#eceef2"/><path d="M5.6 4.5 H8.4 V8.2 H5.6 Z" fill="#6a7fa4" opacity="0.55"/></svg>
<svg style="left:813.5px;top:491.2px" width="7.5" height="7.5" viewBox="0 0 8 8"><path d="M1.1 6.8 A3.9 3.9 0 1 1 6.9 6.8 Z" fill="#a38e92"/><circle cx="4" cy="3.3" r="1.45" fill="#572d32"/><path d="M2.1 7 Q2.2 5.2 4 5.2 Q5.8 5.2 5.9 7 Z" fill="#572d32"/></svg>
<div class="t" style="left:826.5px;top:490.3px;font-size:9.6px;color:#eadada;transform:scaleX(0.965);transform-origin:left;">Ben Davies</div>
<svg style="left:906.0px;top:492.5px" width="8" height="6" viewBox="0 0 8 6"><path d="M1 1 L4 4 L7 1" stroke="#f1eeee" stroke-width="1.6" fill="none"/></svg>
<div class="abs" style="left:922.8px;top:489.8px;width:20px;height:15px;background:#8fb08a;border-radius:2px;"></div>
<div class="abs" style="left:921px;top:487.5px;width:20px;height:15px;background:#b01818;border-radius:2px;"></div>
<div class="t" style="left:781.0px;width:300px;text-align:center;top:491.9px;font-size:7.5px;color:#f6d0d0;">Inj</div>
<svg style="left:950px;top:491.0px" width="9" height="9" viewBox="0 0 9 9"><circle cx="4.5" cy="4.5" r="3.6" fill="#9e1c20"/><circle cx="4.5" cy="4.5" r="2" fill="#c43a3e"/></svg>
<svg style="left:972.0px;top:489.7px" width="11" height="11" viewBox="0 0 11 11"><rect x="0" y="0" width="11" height="11" rx="2" fill="#f2d030"/><path d="M2.4 3.8 L5.5 7 L8.6 3.8" stroke="#2a3a10" stroke-width="1.5" fill="none"/></svg>
<svg style="left:989.0px;top:489.7px" width="11" height="11" viewBox="0 0 11 11"><circle cx="5.5" cy="5.5" r="5.2" fill="#f2b030"/><path d="M8.2 2.6 L3 5.2 L5.3 5.8 L5.9 8.2 Z" fill="#17301a"/></svg>
<div class="t" style="left:1010.7px;top:490.3px;font-size:9.5px;color:#eadfe0;">D (LC), WB (L)</div>
<div class="abs" style="left:1115.0px;top:491px;width:5px;height:10px;background:#a6c060;"></div>
<div class="abs" style="left:1121.6px;top:492px;width:5px;height:9px;background:#c8b070;"></div>
<div class="abs" style="left:1128.2px;top:491px;width:5px;height:10px;background:#6fd070;"></div>
<div class="abs" style="left:1134.8px;top:490px;width:5px;height:11px;background:#4cd870;"></div>
<div class="abs" style="left:1141.4px;top:492px;width:5px;height:9px;background:#c8b070;"></div>
<div class="abs" style="left:1151px;top:489.3px;width:28px;height:11.5px;background:#5cbf1e;border-radius:6px;"></div>
<div class="t" style="left:1015.0px;width:300px;text-align:center;top:490.8px;font-size:8.5px;color:#245a10;font-weight:700;">7.00</div>
<div class="t" style="left:1047.5px;width:300px;text-align:center;top:490.1px;font-size:10px;color:#efe4e5;">2</div>
<div class="abs" style="left:1224px;top:489.3px;width:28px;height:11.5px;background:#2b2628;border-radius:6px;"></div>
<div class="t" style="left:1088.0px;width:300px;text-align:center;top:490.8px;font-size:8.5px;color:#a9a3a9;font-weight:700;">6.96</div>
<div class="abs" style="left:609px;top:509px;width:650.5px;height:28px;background:#572d32;"></div>
<div class="abs" style="left:609px;top:509px;width:12px;height:28px;background:#4c2629;"></div>
<div class="abs" style="left:1259.5px;top:509px;width:0px;height:28px;background:#572d32;"></div>
<div class="abs" style="left:621px;top:509px;width:31px;height:28px;background:#64626a;"></div>
<div class="abs" style="left:652px;top:509px;width:48px;height:28px;background:#5c5960;"></div>
<div class="t" style="left:486.5px;width:300px;text-align:center;top:518.8px;font-size:8.5px;color:#d6d4da;">S6</div>
<svg style="left:797.5px;top:516.0px" width="14" height="14" viewBox="0 0 14 14"><path d="M4 0.8 L5.6 0.8 Q7 2 8.4 0.8 L10 0.8 L13.6 2.8 L13 6 L11 6 L11 13.4 L3 13.4 L3 6 L1 6 L0.4 2.8 Z" fill="#eceef2"/><path d="M5.6 4.5 H8.4 V8.2 H5.6 Z" fill="#6a7fa4" opacity="0.55"/></svg>
<svg style="left:813.5px;top:519.2px" width="7.5" height="7.5" viewBox="0 0 8 8"><path d="M1.1 6.8 A3.9 3.9 0 1 1 6.9 6.8 Z" fill="#a38e92"/><circle cx="4" cy="3.3" r="1.45" fill="#572d32"/><path d="M2.1 7 Q2.2 5.2 4 5.2 Q5.8 5.2 5.9 7 Z" fill="#572d32"/></svg>
<div class="t" style="left:826.5px;top:518.3px;font-size:9.6px;color:#eadada;transform:scaleX(0.965);transform-origin:left;">Oliver Skipp</div>
<svg style="left:906.0px;top:520.5px" width="8" height="6" viewBox="0 0 8 6"><path d="M1 1 L4 4 L7 1" stroke="#f1eeee" stroke-width="1.6" fill="none"/></svg>
<div class="abs" style="left:922.8px;top:517.8px;width:20px;height:15px;background:#8fb08a;border-radius:2px;"></div>
<div class="abs" style="left:921px;top:515.5px;width:20px;height:15px;background:#e06060;border-radius:2px;"></div>
<div class="t" style="left:781.0px;width:300px;text-align:center;top:519.9px;font-size:7.5px;color:#fbe0e0;">Vac</div>
<svg style="left:949.0px;top:517.0px" width="12" height="12" viewBox="0 0 12 12"><path d="M6 11.6 L1.3 6.9 Q-0.1 5.3 0.4 3.2 Q1.1 0.6 3.4 0.5 Q5 0.5 6 2.1 Q7 0.5 8.6 0.5 Q10.9 0.6 11.6 3.2 Q12.1 5.3 10.7 6.9 Z" fill="#2ee872" stroke="#1c4a2c" stroke-width="0.5"/><path d="M3.9 4.6 L6 6.6 L8.1 4.6" stroke="#1fae58" stroke-width="0.8" fill="none" opacity="0.8"/></svg>
<svg style="left:972.0px;top:517.7px" width="11" height="11" viewBox="0 0 11 11"><rect x="0" y="0" width="11" height="11" rx="2" fill="#f05a5a"/><g transform="rotate(180 5.5 5.5)"><path d="M1.6 4.6 H3.4 V9.6 H1.6 Z M4.1 4.6 L5.7 1.2 Q7.3 1.1 7 3 L6.8 4 H9 Q10 4.2 9.7 5.3 L9 8.7 Q8.7 9.6 7.8 9.6 H4.1 Z" fill="#4a1414" transform="translate(0.2 0.2) scale(0.96)"/></g></svg>
<svg style="left:989.0px;top:517.7px" width="11" height="11" viewBox="0 0 11 11"><circle cx="5.5" cy="5.5" r="5.2" fill="#4cd63a"/><path d="M8.2 2.6 L3 5.2 L5.3 5.8 L5.9 8.2 Z" fill="#17301a"/></svg>
<div class="t" style="left:1010.7px;top:518.3px;font-size:9.5px;color:#eadfe0;">DM, M (C)</div>
<div class="abs" style="left:1115.0px;top:519px;width:5px;height:10px;background:#a6c060;"></div>
<div class="abs" style="left:1121.6px;top:519px;width:5px;height:10px;background:#6fd070;"></div>
<div class="abs" style="left:1128.2px;top:519px;width:5px;height:10px;background:#a6c060;"></div>
<div class="abs" style="left:1134.8px;top:520px;width:5px;height:9px;background:#c8c070;"></div>
<div class="abs" style="left:1141.4px;top:520px;width:5px;height:9px;background:#c8b070;"></div>
<div class="abs" style="left:1151px;top:517.3px;width:28px;height:11.5px;background:#2b2628;border-radius:6px;"></div>
<div class="t" style="left:1015.0px;width:300px;text-align:center;top:518.8px;font-size:8.5px;color:#a9a3a9;font-weight:700;">6.90</div>
<div class="t" style="left:1047.5px;width:300px;text-align:center;top:518.1px;font-size:10px;color:#efe4e5;">2</div>
<div class="abs" style="left:1224px;top:517.3px;width:28px;height:11.5px;background:#2b2628;border-radius:6px;"></div>
<div class="t" style="left:1088.0px;width:300px;text-align:center;top:518.8px;font-size:8.5px;color:#a9a3a9;font-weight:700;">6.93</div>
<div class="abs" style="left:609px;top:537px;width:650.5px;height:28px;background:#572d32;"></div>
<div class="abs" style="left:609px;top:537px;width:12px;height:28px;background:#4c2629;"></div>
<div class="abs" style="left:1259.5px;top:537px;width:0px;height:28px;background:#572d32;"></div>
<div class="abs" style="left:621px;top:537px;width:638.5px;height:28px;background:rgba(255,255,255,0.012);"></div>
<div class="abs" style="left:621px;top:537px;width:31px;height:28px;background:#64626a;"></div>
<div class="abs" style="left:652px;top:537px;width:48px;height:28px;background:#5c5960;"></div>
<div class="t" style="left:486.5px;width:300px;text-align:center;top:546.8px;font-size:8.5px;color:#d6d4da;">S7</div>
<svg style="left:797.5px;top:544.0px" width="14" height="14" viewBox="0 0 14 14"><path d="M4 0.8 L5.6 0.8 Q7 2 8.4 0.8 L10 0.8 L13.6 2.8 L13 6 L11 6 L11 13.4 L3 13.4 L3 6 L1 6 L0.4 2.8 Z" fill="#eceef2"/><path d="M5.6 4.5 H8.4 V8.2 H5.6 Z" fill="#6a7fa4" opacity="0.55"/></svg>
<svg style="left:813.5px;top:547.2px" width="7.5" height="7.5" viewBox="0 0 8 8"><path d="M1.1 6.8 A3.9 3.9 0 1 1 6.9 6.8 Z" fill="#a38e92"/><circle cx="4" cy="3.3" r="1.45" fill="#572d32"/><path d="M2.1 7 Q2.2 5.2 4 5.2 Q5.8 5.2 5.9 7 Z" fill="#572d32"/></svg>
<div class="t" style="left:826.5px;top:546.3px;font-size:9.6px;color:#7fa2e6;transform:scaleX(0.965);transform-origin:left;">Timo Werner</div>
<svg style="left:906.0px;top:548.5px" width="8" height="6" viewBox="0 0 8 6"><path d="M1 1 L4 4 L7 1" stroke="#f1eeee" stroke-width="1.6" fill="none"/></svg>
<div class="abs" style="left:922.8px;top:545.8px;width:20px;height:15px;background:#8fb08a;border-radius:2px;"></div>
<div class="abs" style="left:921px;top:543.5px;width:20px;height:15px;background:#e06060;border-radius:2px;"></div>
<div class="t" style="left:781.0px;width:300px;text-align:center;top:547.9px;font-size:7.5px;color:#fbe0e0;">Vac</div>
<svg style="left:949.0px;top:545.0px" width="12" height="12" viewBox="0 0 12 12"><path d="M6 11.6 L1.3 6.9 Q-0.1 5.3 0.4 3.2 Q1.1 0.6 3.4 0.5 Q5 0.5 6 2.1 Q7 0.5 8.6 0.5 Q10.9 0.6 11.6 3.2 Q12.1 5.3 10.7 6.9 Z" fill="#2ee872" stroke="#1c4a2c" stroke-width="0.5"/><path d="M3.9 4.6 L6 6.6 L8.1 4.6" stroke="#1fae58" stroke-width="0.8" fill="none" opacity="0.8"/></svg>
<svg style="left:972.0px;top:545.7px" width="11" height="11" viewBox="0 0 11 11"><rect x="0" y="0" width="11" height="11" rx="2" fill="#f05a5a"/><g transform="rotate(180 5.5 5.5)"><path d="M1.6 4.6 H3.4 V9.6 H1.6 Z M4.1 4.6 L5.7 1.2 Q7.3 1.1 7 3 L6.8 4 H9 Q10 4.2 9.7 5.3 L9 8.7 Q8.7 9.6 7.8 9.6 H4.1 Z" fill="#4a1414" transform="translate(0.2 0.2) scale(0.96)"/></g></svg>
<svg style="left:989.0px;top:545.7px" width="11" height="11" viewBox="0 0 11 11"><circle cx="5.5" cy="5.5" r="5.2" fill="#f2d030"/><path d="M8.2 2.6 L3 5.2 L5.3 5.8 L5.9 8.2 Z" fill="#17301a"/></svg>
<div class="t" style="left:1010.7px;top:546.3px;font-size:9.5px;color:#eadfe0;">AM (L), ST (C)</div>
<div class="abs" style="left:1141.4px;top:548px;width:5px;height:9px;background:#c8903a;"></div>
<div class="abs" style="left:1151px;top:545.3px;width:28px;height:11.5px;background:#2b2628;border-radius:6px;"></div>
<div class="t" style="left:1015.0px;width:300px;text-align:center;top:546.8px;font-size:8.5px;color:#a9a3a9;font-weight:700;">6.30</div>
<div class="t" style="left:1047.5px;width:300px;text-align:center;top:546.1px;font-size:10px;color:#efe4e5;">0</div>
<div class="abs" style="left:1224px;top:545.3px;width:28px;height:11.5px;background:#2b2628;border-radius:6px;"></div>
<div class="t" style="left:1088.0px;width:300px;text-align:center;top:546.8px;font-size:8.5px;color:#a9a3a9;font-weight:700;">6.30</div>
<div class="abs" style="left:609px;top:565px;width:650.5px;height:28px;background:#242226;"></div>
<div class="abs" style="left:621px;top:565px;width:31px;height:28px;background:#64626a;"></div>
<div class="abs" style="left:652px;top:565px;width:48px;height:28px;background:#5c5960;"></div>
<div class="t" style="left:486.5px;width:300px;text-align:center;top:574.8px;font-size:8.5px;color:#d6d4da;">S8</div>
<div class="abs" style="left:796px;top:565px;width:122px;height:28px;background:#1f1e22;"></div>
<div class="t" style="left:814.0px;top:574.1px;font-size:10px;color:#e4e2e6;">Pick Player</div>
<svg style="left:906.0px;top:576.5px" width="8" height="6" viewBox="0 0 8 6"><path d="M1 1 L4 4 L7 1" stroke="#f1eeee" stroke-width="1.6" fill="none"/></svg>
<div class="t" style="left:1012.0px;top:574.6px;font-size:9px;color:#aaa8ae;">-</div>
<div class="t" style="left:1015.0px;width:300px;text-align:center;top:574.6px;font-size:9px;color:#6a686e;">-</div>
<div class="t" style="left:1047.5px;width:300px;text-align:center;top:574.6px;font-size:9px;color:#aaa8ae;">-</div>
<div class="t" style="left:1088.0px;width:300px;text-align:center;top:574.6px;font-size:9px;color:#6a686e;">-</div>
<div class="abs" style="left:609px;top:593px;width:650.5px;height:28px;background:#572d32;"></div>
<div class="abs" style="left:609px;top:593px;width:12px;height:28px;background:#4c2629;"></div>
<div class="abs" style="left:1259.5px;top:593px;width:0px;height:28px;background:#572d32;"></div>
<div class="abs" style="left:621px;top:593px;width:638.5px;height:28px;background:rgba(255,255,255,0.012);"></div>
<div class="abs" style="left:621px;top:593px;width:31px;height:28px;background:#64626a;"></div>
<div class="abs" style="left:652px;top:593px;width:48px;height:28px;background:#5c5960;"></div>
<div class="t" style="left:486.5px;width:300px;text-align:center;top:602.8px;font-size:8.5px;color:#d6d4da;">S9</div>
<svg style="left:797.5px;top:600.0px" width="14" height="14" viewBox="0 0 14 14"><path d="M4 0.8 L5.6 0.8 Q7 2 8.4 0.8 L10 0.8 L13.6 2.8 L13 6 L11 6 L11 13.4 L3 13.4 L3 6 L1 6 L0.4 2.8 Z" fill="#eceef2"/><path d="M5.6 4.5 H8.4 V8.2 H5.6 Z" fill="#6a7fa4" opacity="0.55"/></svg>
<svg style="left:813.5px;top:603.2px" width="7.5" height="7.5" viewBox="0 0 8 8"><path d="M1.1 6.8 A3.9 3.9 0 1 1 6.9 6.8 Z" fill="#a38e92"/><circle cx="4" cy="3.3" r="1.45" fill="#572d32"/><path d="M2.1 7 Q2.2 5.2 4 5.2 Q5.8 5.2 5.9 7 Z" fill="#572d32"/></svg>
<div class="t" style="left:826.5px;top:602.3px;font-size:9.6px;color:#eadada;transform:scaleX(0.965);transform-origin:left;">Giovani Lo Celso</div>
<svg style="left:906.0px;top:604.5px" width="8" height="6" viewBox="0 0 8 6"><path d="M1 1 L4 4 L7 1" stroke="#f1eeee" stroke-width="1.6" fill="none"/></svg>
<div class="abs" style="left:921px;top:599.5px;width:20px;height:15px;background:#e06060;border-radius:2px;"></div>
<div class="t" style="left:781.0px;width:300px;text-align:center;top:603.9px;font-size:7.5px;color:#fbe0e0;">Vac</div>
<svg style="left:949.0px;top:601.0px" width="12" height="12" viewBox="0 0 12 12"><path d="M6 11.6 L1.3 6.9 Q-0.1 5.3 0.4 3.2 Q1.1 0.6 3.4 0.5 Q5 0.5 6 2.1 Q7 0.5 8.6 0.5 Q10.9 0.6 11.6 3.2 Q12.1 5.3 10.7 6.9 Z" fill="#2ee872" stroke="#1c4a2c" stroke-width="0.5"/><path d="M3.9 4.6 L6 6.6 L8.1 4.6" stroke="#1fae58" stroke-width="0.8" fill="none" opacity="0.8"/></svg>
<svg style="left:972.0px;top:601.7px" width="11" height="11" viewBox="0 0 11 11"><rect x="0" y="0" width="11" height="11" rx="2" fill="#f08a4a"/><path d="M2.4 3.8 L5.5 7 L8.6 3.8" stroke="#2a3a10" stroke-width="1.5" fill="none"/></svg>
<svg style="left:989.0px;top:601.7px" width="11" height="11" viewBox="0 0 11 11"><circle cx="5.5" cy="5.5" r="5.2" fill="#4cd63a"/><path d="M8.2 2.6 L3 5.2 L5.3 5.8 L5.9 8.2 Z" fill="#17301a"/></svg>
<div class="t" style="left:1010.7px;top:602.3px;font-size:9.5px;color:#eadfe0;">DM, M (LC), AM (C)</div>
<div class="abs" style="left:1115.0px;top:603px;width:5px;height:10px;background:#a6c060;"></div>
<div class="abs" style="left:1121.6px;top:604px;width:5px;height:9px;background:#b8c068;"></div>
<div class="abs" style="left:1128.2px;top:603px;width:5px;height:10px;background:#6fd070;"></div>
<div class="abs" style="left:1134.8px;top:601px;width:5px;height:12px;background:#33e07a;"></div>
<div class="abs" style="left:1141.4px;top:603px;width:5px;height:10px;background:#6fd070;"></div>
<div class="abs" style="left:1151px;top:601.3px;width:28px;height:11.5px;background:#2b2628;border-radius:6px;"></div>
<div class="t" style="left:1015.0px;width:300px;text-align:center;top:602.8px;font-size:8.5px;color:#a9a3a9;font-weight:700;">6.92</div>
<div class="t" style="left:1047.5px;width:300px;text-align:center;top:602.1px;font-size:10px;color:#efe4e5;">5</div>
<div class="abs" style="left:1224px;top:601.3px;width:28px;height:11.5px;background:#5cbf1e;border-radius:6px;"></div>
<div class="t" style="left:1088.0px;width:300px;text-align:center;top:602.8px;font-size:8.5px;color:#245a10;font-weight:700;">7.23</div>
</body></html>
